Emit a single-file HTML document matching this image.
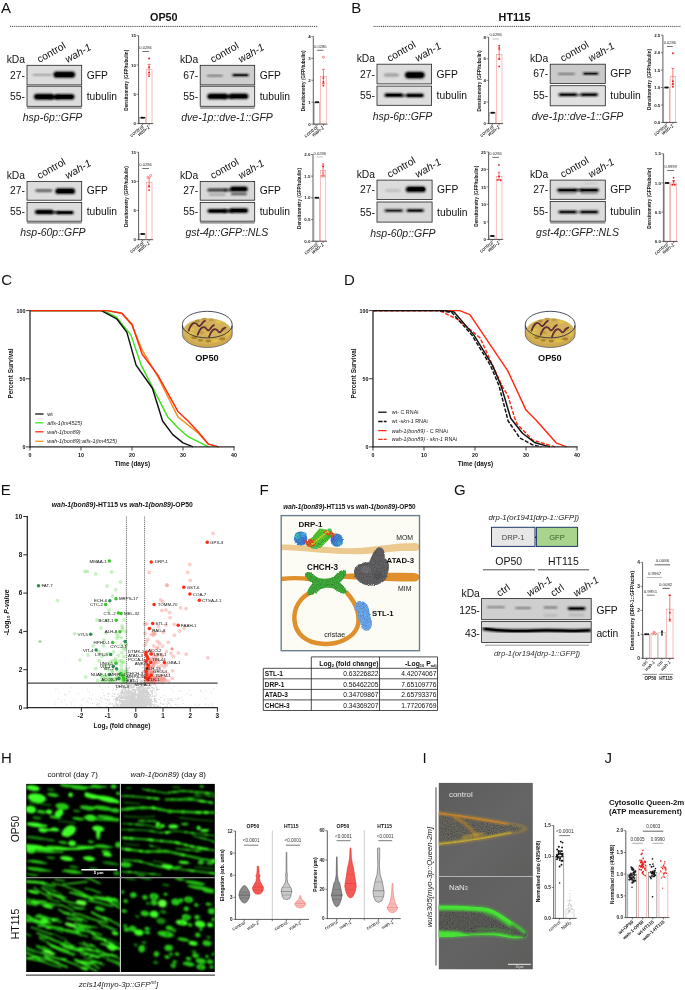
<!DOCTYPE html>
<html lang="en"><head><meta charset="utf-8"><title>Figure</title>
<style>
html,body{margin:0;padding:0;background:#fff;}
body{width:685px;height:990px;overflow:hidden;font-family:'Liberation Sans', Arial, sans-serif;}
svg{display:block;font-family:'Liberation Sans', Arial, sans-serif;will-change:transform;-webkit-font-smoothing:antialiased;}
</style></head><body>
<svg width="685" height="990" viewBox="0 0 685 990">
<defs>
<filter id="b05" x="-20%" y="-50%" width="140%" height="200%"><feGaussianBlur stdDeviation="0.5"/></filter>
<filter id="b08" x="-20%" y="-50%" width="140%" height="200%"><feGaussianBlur stdDeviation="0.8"/></filter>
<filter id="b12" x="-20%" y="-50%" width="140%" height="200%"><feGaussianBlur stdDeviation="1.2"/></filter>
<filter id="b2" x="-20%" y="-50%" width="140%" height="200%"><feGaussianBlur stdDeviation="2"/></filter>
<filter id="g06" x="-10%" y="-10%" width="120%" height="120%"><feGaussianBlur stdDeviation="0.6"/></filter>
<filter id="g07" x="-10%" y="-10%" width="120%" height="120%"><feGaussianBlur stdDeviation="0.8"/><feComponentTransfer><feFuncR type="linear" slope="1.2"/><feFuncG type="linear" slope="1.2"/><feFuncB type="linear" slope="1.2"/></feComponentTransfer></filter>
<filter id="g09" x="-10%" y="-10%" width="120%" height="120%"><feGaussianBlur stdDeviation="0.9"/><feComponentTransfer><feFuncR type="linear" slope="1.25"/><feFuncG type="linear" slope="1.25"/><feFuncB type="linear" slope="1.25"/></feComponentTransfer></filter>
<filter id="g1" x="-10%" y="-10%" width="120%" height="120%"><feGaussianBlur stdDeviation="1"/></filter>
</defs>
<rect x="0" y="0" width="685" height="990" fill="#ffffff"/>
<text x="0.90" y="12.90" font-size="15" font-weight="normal" font-style="normal" text-anchor="start" fill="#111">A</text>
<text x="351.20" y="12.90" font-size="15" font-weight="normal" font-style="normal" text-anchor="start" fill="#111">B</text>
<text x="163.80" y="21.20" font-size="10.8" font-weight="bold" font-style="normal" text-anchor="middle" fill="#111">OP50</text>
<text x="514.50" y="21.20" font-size="10.8" font-weight="bold" font-style="normal" text-anchor="middle" fill="#111">HT115</text>
<line x1="10.00" y1="26.40" x2="318.00" y2="26.40" stroke="#333" stroke-width="1" stroke-dasharray="1 0.9"/>
<line x1="373.50" y1="26.40" x2="681.00" y2="26.40" stroke="#333" stroke-width="1" stroke-dasharray="1 0.9"/>
<clipPath id="c27_65"><rect x="27.0" y="65.3" width="54.70" height="19.60"/></clipPath>
<rect x="27.00" y="65.30" width="54.70" height="19.60" fill="#dcdcdc" stroke="none" stroke-width="1"/>
<g clip-path="url(#c27_65)">
<rect x="32.90" y="74.20" width="19.00" height="1.40" rx="0.70" fill="#000" opacity="0.45" filter="url(#b08)"/>
<rect x="53.30" y="71.60" width="22.00" height="6.20" rx="3.10" fill="#000" opacity="0.95" filter="url(#b12)"/>
<rect x="54.80" y="72.60" width="19.00" height="4.20" rx="2.10" fill="#000" opacity="1" filter="url(#b05)"/>
</g>
<rect x="27.00" y="65.30" width="54.70" height="19.60" fill="none" stroke="#222" stroke-width="0.8"/>
<clipPath id="c27_86"><rect x="27.0" y="86.2" width="54.70" height="20.10"/></clipPath>
<rect x="27.00" y="86.20" width="54.70" height="20.10" fill="#dcdcdc" stroke="none" stroke-width="1"/>
<g clip-path="url(#c27_86)">
<rect x="33.80" y="93.80" width="20.00" height="6.00" rx="3.00" fill="#000" opacity="0.95" filter="url(#b12)"/>
<rect x="54.60" y="94.00" width="20.00" height="5.60" rx="2.80" fill="#000" opacity="0.95" filter="url(#b12)"/>
<rect x="49.00" y="94.90" width="10.00" height="4.20" rx="2.10" fill="#000" opacity="1" filter="url(#b08)"/>
<rect x="35.30" y="94.80" width="17.00" height="4.00" rx="2.00" fill="#000" opacity="1" filter="url(#b05)"/>
<rect x="56.10" y="94.90" width="17.00" height="3.80" rx="1.90" fill="#000" opacity="1" filter="url(#b05)"/>
</g>
<rect x="27.00" y="86.20" width="54.70" height="20.10" fill="none" stroke="#222" stroke-width="0.8"/>
<line x1="27.00" y1="108.00" x2="81.70" y2="108.00" stroke="#555" stroke-width="1.0"/>
<text x="25.00" y="62.70" font-size="10.3" font-weight="normal" font-style="normal" text-anchor="end" fill="#111">kDa</text>
<text x="25.00" y="78.70" font-size="10.3" font-weight="normal" font-style="normal" text-anchor="end" fill="#111">27-</text>
<text x="25.00" y="99.85" font-size="10.3" font-weight="normal" font-style="normal" text-anchor="end" fill="#111">55-</text>
<text x="86.70" y="78.70" font-size="10.3" font-weight="normal" font-style="normal" text-anchor="start" fill="#111">GFP</text>
<text x="86.70" y="99.85" font-size="10.3" font-weight="normal" font-style="normal" text-anchor="start" fill="#111">tubulin</text>
<text x="39.60" y="63.10" font-size="10.3" font-weight="normal" font-style="normal" text-anchor="start" fill="#111" transform="rotate(-30 39.60 63.10)">control</text>
<text x="67.60" y="63.10" font-size="10.3" font-weight="normal" font-style="italic" text-anchor="start" fill="#111" transform="rotate(-30 67.60 63.10)">wah-1</text>
<text x="52.55" y="120.90" font-size="10.5" font-weight="normal" font-style="italic" text-anchor="middle" fill="#222">hsp-6p::GFP</text>
<rect x="139.50" y="117.74" width="6.30" height="5.86" fill="#fff" stroke="#8a8a8a" stroke-width="0.5"/>
<rect x="146.20" y="69.10" width="5.80" height="54.50" fill="#fff" stroke="#f0807c" stroke-width="0.5"/>
<line x1="149.10" y1="74.38" x2="149.10" y2="64.41" stroke="#e8211d" stroke-width="0.6"/>
<line x1="147.70" y1="74.38" x2="150.50" y2="74.38" stroke="#e8211d" stroke-width="0.6"/>
<line x1="147.70" y1="64.41" x2="150.50" y2="64.41" stroke="#e8211d" stroke-width="0.6"/>
<circle cx="142.7" cy="117.7" r="1.00" fill="#111"/>
<circle cx="144.0" cy="117.7" r="1.00" fill="#111"/>
<circle cx="141.4" cy="117.7" r="1.00" fill="#111"/>
<circle cx="149.1" cy="58.6" r="1.00" fill="#e8211d"/>
<circle cx="149.1" cy="67.3" r="0.95" fill="#e8211d"/>
<circle cx="149.1" cy="72.6" r="0.95" fill="#e8211d"/>
<circle cx="149.1" cy="76.1" r="0.95" fill="#e8211d"/>
<line x1="138.60" y1="35.70" x2="138.60" y2="123.90" stroke="#333" stroke-width="0.8"/>
<line x1="138.30" y1="123.60" x2="153.20" y2="123.60" stroke="#333" stroke-width="0.8"/>
<line x1="136.60" y1="123.60" x2="138.60" y2="123.60" stroke="#333" stroke-width="0.6"/>
<text x="136.00" y="125.20" font-size="4.4" font-weight="bold" font-style="normal" text-anchor="end" fill="#222">0</text>
<line x1="136.60" y1="94.30" x2="138.60" y2="94.30" stroke="#333" stroke-width="0.6"/>
<text x="136.00" y="95.90" font-size="4.4" font-weight="bold" font-style="normal" text-anchor="end" fill="#222">5</text>
<line x1="136.60" y1="65.00" x2="138.60" y2="65.00" stroke="#333" stroke-width="0.6"/>
<text x="136.00" y="66.60" font-size="4.4" font-weight="bold" font-style="normal" text-anchor="end" fill="#222">10</text>
<line x1="136.60" y1="35.70" x2="138.60" y2="35.70" stroke="#333" stroke-width="0.6"/>
<text x="136.00" y="37.30" font-size="4.4" font-weight="bold" font-style="normal" text-anchor="end" fill="#222">15</text>
<line x1="142.65" y1="123.60" x2="142.65" y2="125.40" stroke="#333" stroke-width="0.6"/>
<text x="143.85" y="127.60" font-size="5.2" font-weight="normal" font-style="normal" text-anchor="end" fill="#000" transform="rotate(-38 143.85 127.60)">control</text>
<line x1="149.10" y1="123.60" x2="149.10" y2="125.40" stroke="#333" stroke-width="0.6"/>
<text x="150.30" y="127.60" font-size="5.2" font-weight="normal" font-style="italic" text-anchor="end" fill="#000" transform="rotate(-38 150.30 127.60)">wah-1</text>
<text x="145.60" y="48.80" font-size="4.1" font-weight="normal" font-style="normal" text-anchor="middle" fill="#333">0.0286</text>
<line x1="142.30" y1="51.50" x2="148.90" y2="51.50" stroke="#333" stroke-width="0.7"/>
<text x="128.10" y="80.25" font-size="4.7" font-weight="bold" font-style="normal" text-anchor="middle" fill="#111" transform="rotate(-90 128.10 80.25)">Densitometry (GFP/tubulin)</text>
<clipPath id="c200_65"><rect x="200.2" y="65.3" width="54.50" height="19.60"/></clipPath>
<rect x="200.20" y="65.30" width="54.50" height="19.60" fill="#cecece" stroke="none" stroke-width="1"/>
<g clip-path="url(#c200_65)">
<rect x="206.90" y="74.80" width="16.00" height="1.60" rx="0.80" fill="#000" opacity="0.5" filter="url(#b08)"/>
<rect x="232.00" y="73.90" width="17.00" height="2.40" rx="1.20" fill="#000" opacity="0.95" filter="url(#b08)"/>
<rect x="233.50" y="74.40" width="14.00" height="1.40" rx="0.70" fill="#000" opacity="0.8" filter="url(#b05)"/>
</g>
<rect x="200.20" y="65.30" width="54.50" height="19.60" fill="none" stroke="#222" stroke-width="0.8"/>
<clipPath id="c200_86"><rect x="200.2" y="86.2" width="54.50" height="20.10"/></clipPath>
<rect x="200.20" y="86.20" width="54.50" height="20.10" fill="#e0e0e0" stroke="none" stroke-width="1"/>
<g clip-path="url(#c200_86)">
<rect x="207.20" y="93.50" width="20.00" height="5.80" rx="2.90" fill="#000" opacity="0.95" filter="url(#b12)"/>
<rect x="229.50" y="93.40" width="19.00" height="5.60" rx="2.80" fill="#000" opacity="0.95" filter="url(#b12)"/>
<rect x="223.20" y="94.60" width="10.00" height="4.00" rx="2.00" fill="#000" opacity="1" filter="url(#b08)"/>
<rect x="208.70" y="94.50" width="17.00" height="3.80" rx="1.90" fill="#000" opacity="1" filter="url(#b05)"/>
<rect x="231.00" y="94.40" width="16.00" height="3.60" rx="1.80" fill="#000" opacity="1" filter="url(#b05)"/>
</g>
<rect x="200.20" y="86.20" width="54.50" height="20.10" fill="none" stroke="#222" stroke-width="0.8"/>
<line x1="200.20" y1="108.00" x2="254.70" y2="108.00" stroke="#555" stroke-width="1.0"/>
<text x="198.20" y="62.70" font-size="10.3" font-weight="normal" font-style="normal" text-anchor="end" fill="#111">kDa</text>
<text x="198.20" y="78.70" font-size="10.3" font-weight="normal" font-style="normal" text-anchor="end" fill="#111">67-</text>
<text x="198.20" y="99.85" font-size="10.3" font-weight="normal" font-style="normal" text-anchor="end" fill="#111">55-</text>
<text x="259.70" y="78.70" font-size="10.3" font-weight="normal" font-style="normal" text-anchor="start" fill="#111">GFP</text>
<text x="259.70" y="99.85" font-size="10.3" font-weight="normal" font-style="normal" text-anchor="start" fill="#111">tubulin</text>
<text x="212.80" y="63.10" font-size="10.3" font-weight="normal" font-style="normal" text-anchor="start" fill="#111" transform="rotate(-30 212.80 63.10)">control</text>
<text x="240.80" y="63.10" font-size="10.3" font-weight="normal" font-style="italic" text-anchor="start" fill="#111" transform="rotate(-30 240.80 63.10)">wah-1</text>
<text x="227.05" y="120.90" font-size="10.5" font-weight="normal" font-style="italic" text-anchor="middle" fill="#222">dve-1p::dve-1::GFP</text>
<rect x="314.20" y="102.17" width="5.50" height="21.92" fill="#fff" stroke="#8a8a8a" stroke-width="0.5"/>
<rect x="320.60" y="76.52" width="5.60" height="47.58" fill="#fff" stroke="#f0807c" stroke-width="0.5"/>
<line x1="323.40" y1="83.54" x2="323.40" y2="69.29" stroke="#e8211d" stroke-width="0.6"/>
<line x1="322.00" y1="83.54" x2="324.80" y2="83.54" stroke="#e8211d" stroke-width="0.6"/>
<line x1="322.00" y1="69.29" x2="324.80" y2="69.29" stroke="#e8211d" stroke-width="0.6"/>
<circle cx="317.0" cy="102.2" r="1.00" fill="#111"/>
<circle cx="315.7" cy="102.2" r="1.00" fill="#111"/>
<circle cx="318.2" cy="102.2" r="1.00" fill="#111"/>
<circle cx="323.4" cy="78.1" r="0.95" fill="#e8211d"/>
<circle cx="323.4" cy="82.0" r="0.95" fill="#e8211d"/>
<circle cx="323.4" cy="85.5" r="0.95" fill="#e8211d"/>
<circle cx="323.4" cy="57.2" r="1.00" fill="#fff" stroke="#e8211d" stroke-width="0.5"/>
<line x1="313.30" y1="36.40" x2="313.30" y2="124.40" stroke="#333" stroke-width="0.8"/>
<line x1="313.00" y1="124.10" x2="327.40" y2="124.10" stroke="#333" stroke-width="0.8"/>
<line x1="311.30" y1="124.10" x2="313.30" y2="124.10" stroke="#333" stroke-width="0.6"/>
<text x="310.70" y="125.70" font-size="4.4" font-weight="bold" font-style="normal" text-anchor="end" fill="#222">0</text>
<line x1="311.30" y1="102.17" x2="313.30" y2="102.17" stroke="#333" stroke-width="0.6"/>
<text x="310.70" y="103.77" font-size="4.4" font-weight="bold" font-style="normal" text-anchor="end" fill="#222">1</text>
<line x1="311.30" y1="80.25" x2="313.30" y2="80.25" stroke="#333" stroke-width="0.6"/>
<text x="310.70" y="81.85" font-size="4.4" font-weight="bold" font-style="normal" text-anchor="end" fill="#222">2</text>
<line x1="311.30" y1="58.33" x2="313.30" y2="58.33" stroke="#333" stroke-width="0.6"/>
<text x="310.70" y="59.93" font-size="4.4" font-weight="bold" font-style="normal" text-anchor="end" fill="#222">3</text>
<line x1="311.30" y1="36.40" x2="313.30" y2="36.40" stroke="#333" stroke-width="0.6"/>
<text x="310.70" y="38.00" font-size="4.4" font-weight="bold" font-style="normal" text-anchor="end" fill="#222">4</text>
<line x1="316.95" y1="124.10" x2="316.95" y2="125.90" stroke="#333" stroke-width="0.6"/>
<text x="318.15" y="128.10" font-size="5.2" font-weight="normal" font-style="normal" text-anchor="end" fill="#000" transform="rotate(-38 318.15 128.10)">control</text>
<line x1="323.40" y1="124.10" x2="323.40" y2="125.90" stroke="#333" stroke-width="0.6"/>
<text x="324.60" y="128.10" font-size="5.2" font-weight="normal" font-style="italic" text-anchor="end" fill="#000" transform="rotate(-38 324.60 128.10)">wah-1</text>
<text x="320.30" y="48.00" font-size="4.1" font-weight="normal" font-style="normal" text-anchor="middle" fill="#333">0.0286</text>
<line x1="317.10" y1="50.30" x2="323.50" y2="50.30" stroke="#333" stroke-width="0.7"/>
<text x="305.10" y="80.85" font-size="4.7" font-weight="bold" font-style="normal" text-anchor="middle" fill="#111" transform="rotate(-90 305.10 80.85)">Densitometry (GFP/tubulin)</text>
<clipPath id="c27_181"><rect x="27.0" y="181.4" width="54.70" height="18.80"/></clipPath>
<rect x="27.00" y="181.40" width="54.70" height="18.80" fill="#dcdcdc" stroke="none" stroke-width="1"/>
<g clip-path="url(#c27_181)">
<rect x="35.30" y="189.30" width="17.00" height="2.60" rx="1.30" fill="#000" opacity="0.6" filter="url(#b12)"/>
<rect x="55.20" y="188.30" width="20.00" height="5.80" rx="2.90" fill="#000" opacity="0.95" filter="url(#b12)"/>
<rect x="56.70" y="189.30" width="17.00" height="3.80" rx="1.90" fill="#000" opacity="1" filter="url(#b05)"/>
</g>
<rect x="27.00" y="181.40" width="54.70" height="18.80" fill="none" stroke="#222" stroke-width="0.8"/>
<clipPath id="c27_202"><rect x="27.0" y="202.4" width="54.70" height="18.80"/></clipPath>
<rect x="27.00" y="202.40" width="54.70" height="18.80" fill="#dcdcdc" stroke="none" stroke-width="1"/>
<g clip-path="url(#c27_202)">
<rect x="34.70" y="209.70" width="19.00" height="4.60" rx="2.30" fill="#000" opacity="0.95" filter="url(#b12)"/>
<rect x="56.00" y="210.90" width="18.00" height="3.40" rx="1.70" fill="#000" opacity="0.95" filter="url(#b08)"/>
<rect x="50.50" y="211.20" width="8.00" height="2.40" rx="1.20" fill="#000" opacity="0.9" filter="url(#b08)"/>
<rect x="36.70" y="210.60" width="15.00" height="2.80" rx="1.40" fill="#000" opacity="1" filter="url(#b05)"/>
<rect x="57.50" y="211.60" width="15.00" height="2.00" rx="1.00" fill="#000" opacity="1" filter="url(#b05)"/>
</g>
<rect x="27.00" y="202.40" width="54.70" height="18.80" fill="none" stroke="#222" stroke-width="0.8"/>
<line x1="27.00" y1="222.90" x2="81.70" y2="222.90" stroke="#555" stroke-width="1.0"/>
<text x="25.00" y="178.80" font-size="10.3" font-weight="normal" font-style="normal" text-anchor="end" fill="#111">kDa</text>
<text x="25.00" y="194.40" font-size="10.3" font-weight="normal" font-style="normal" text-anchor="end" fill="#111">27-</text>
<text x="25.00" y="215.40" font-size="10.3" font-weight="normal" font-style="normal" text-anchor="end" fill="#111">55-</text>
<text x="86.70" y="194.40" font-size="10.3" font-weight="normal" font-style="normal" text-anchor="start" fill="#111">GFP</text>
<text x="86.70" y="215.40" font-size="10.3" font-weight="normal" font-style="normal" text-anchor="start" fill="#111">tubulin</text>
<text x="39.60" y="179.20" font-size="10.3" font-weight="normal" font-style="normal" text-anchor="start" fill="#111" transform="rotate(-30 39.60 179.20)">control</text>
<text x="67.60" y="179.20" font-size="10.3" font-weight="normal" font-style="italic" text-anchor="start" fill="#111" transform="rotate(-30 67.60 179.20)">wah-1</text>
<text x="52.95" y="235.80" font-size="10.5" font-weight="normal" font-style="italic" text-anchor="middle" fill="#222">hsp-60p::GFP</text>
<rect x="139.50" y="233.87" width="6.30" height="5.83" fill="#fff" stroke="#8a8a8a" stroke-width="0.5"/>
<rect x="146.20" y="182.24" width="5.80" height="57.46" fill="#fff" stroke="#f0807c" stroke-width="0.5"/>
<line x1="149.10" y1="187.20" x2="149.10" y2="177.87" stroke="#e8211d" stroke-width="0.6"/>
<line x1="147.70" y1="187.20" x2="150.50" y2="187.20" stroke="#e8211d" stroke-width="0.6"/>
<line x1="147.70" y1="177.87" x2="150.50" y2="177.87" stroke="#e8211d" stroke-width="0.6"/>
<circle cx="142.7" cy="233.9" r="1.00" fill="#111"/>
<circle cx="144.0" cy="233.9" r="1.00" fill="#111"/>
<circle cx="141.4" cy="233.9" r="1.00" fill="#111"/>
<circle cx="149.1" cy="186.0" r="0.90" fill="#e8211d"/>
<circle cx="149.1" cy="190.1" r="0.95" fill="#e8211d"/>
<circle cx="147.8" cy="177.3" r="1.00" fill="#fff" stroke="#e8211d" stroke-width="0.5"/>
<circle cx="150.6" cy="175.5" r="1.00" fill="#fff" stroke="#e8211d" stroke-width="0.5"/>
<line x1="138.60" y1="152.20" x2="138.60" y2="240.00" stroke="#333" stroke-width="0.8"/>
<line x1="138.30" y1="239.70" x2="153.20" y2="239.70" stroke="#333" stroke-width="0.8"/>
<line x1="136.60" y1="239.70" x2="138.60" y2="239.70" stroke="#333" stroke-width="0.6"/>
<text x="136.00" y="241.30" font-size="4.4" font-weight="bold" font-style="normal" text-anchor="end" fill="#222">0</text>
<line x1="136.60" y1="210.53" x2="138.60" y2="210.53" stroke="#333" stroke-width="0.6"/>
<text x="136.00" y="212.13" font-size="4.4" font-weight="bold" font-style="normal" text-anchor="end" fill="#222">5</text>
<line x1="136.60" y1="181.37" x2="138.60" y2="181.37" stroke="#333" stroke-width="0.6"/>
<text x="136.00" y="182.97" font-size="4.4" font-weight="bold" font-style="normal" text-anchor="end" fill="#222">10</text>
<line x1="136.60" y1="152.20" x2="138.60" y2="152.20" stroke="#333" stroke-width="0.6"/>
<text x="136.00" y="153.80" font-size="4.4" font-weight="bold" font-style="normal" text-anchor="end" fill="#222">15</text>
<line x1="142.65" y1="239.70" x2="142.65" y2="241.50" stroke="#333" stroke-width="0.6"/>
<text x="143.85" y="243.70" font-size="5.2" font-weight="normal" font-style="normal" text-anchor="end" fill="#000" transform="rotate(-38 143.85 243.70)">control</text>
<line x1="149.10" y1="239.70" x2="149.10" y2="241.50" stroke="#333" stroke-width="0.6"/>
<text x="150.30" y="243.70" font-size="5.2" font-weight="normal" font-style="italic" text-anchor="end" fill="#000" transform="rotate(-38 150.30 243.70)">wah-1</text>
<text x="145.60" y="166.20" font-size="4.1" font-weight="normal" font-style="normal" text-anchor="middle" fill="#333">0.0286</text>
<line x1="142.30" y1="168.50" x2="148.90" y2="168.50" stroke="#333" stroke-width="0.7"/>
<text x="127.70" y="196.55" font-size="4.7" font-weight="bold" font-style="normal" text-anchor="middle" fill="#111" transform="rotate(-90 127.70 196.55)">Densitometry (GFP/tubulin)</text>
<clipPath id="c200_181"><rect x="200.2" y="181.4" width="54.50" height="18.80"/></clipPath>
<rect x="200.20" y="181.40" width="54.50" height="18.80" fill="#d8d8d8" stroke="none" stroke-width="1"/>
<g clip-path="url(#c200_181)">
<rect x="207.20" y="188.60" width="20.00" height="3.00" rx="1.50" fill="#000" opacity="0.8" filter="url(#b12)"/>
<rect x="208.70" y="193.80" width="17.00" height="1.60" rx="0.80" fill="#000" opacity="0.3" filter="url(#b08)"/>
<rect x="229.90" y="186.40" width="18.00" height="5.00" rx="2.50" fill="#000" opacity="0.95" filter="url(#b12)"/>
<rect x="231.40" y="187.40" width="15.00" height="3.00" rx="1.50" fill="#000" opacity="1" filter="url(#b05)"/>
<rect x="230.90" y="192.90" width="16.00" height="2.20" rx="1.10" fill="#000" opacity="0.7" filter="url(#b08)"/>
<rect x="224.20" y="188.80" width="8.00" height="2.40" rx="1.20" fill="#000" opacity="0.7" filter="url(#b08)"/>
</g>
<rect x="200.20" y="181.40" width="54.50" height="18.80" fill="none" stroke="#222" stroke-width="0.8"/>
<clipPath id="c200_202"><rect x="200.2" y="202.4" width="54.50" height="18.80"/></clipPath>
<rect x="200.20" y="202.40" width="54.50" height="18.80" fill="#dedede" stroke="none" stroke-width="1"/>
<g clip-path="url(#c200_202)">
<rect x="207.20" y="208.90" width="20.00" height="4.20" rx="2.10" fill="#000" opacity="0.95" filter="url(#b08)"/>
<rect x="229.30" y="208.30" width="19.00" height="4.60" rx="2.30" fill="#000" opacity="0.95" filter="url(#b08)"/>
<rect x="223.20" y="209.50" width="10.00" height="3.00" rx="1.50" fill="#000" opacity="1" filter="url(#b08)"/>
<rect x="209.20" y="209.70" width="16.00" height="2.60" rx="1.30" fill="#000" opacity="1" filter="url(#b05)"/>
<rect x="230.80" y="209.10" width="16.00" height="3.00" rx="1.50" fill="#000" opacity="1" filter="url(#b05)"/>
</g>
<rect x="200.20" y="202.40" width="54.50" height="18.80" fill="none" stroke="#222" stroke-width="0.8"/>
<line x1="200.20" y1="222.90" x2="254.70" y2="222.90" stroke="#555" stroke-width="1.0"/>
<text x="198.20" y="178.80" font-size="10.3" font-weight="normal" font-style="normal" text-anchor="end" fill="#111">kDa</text>
<text x="198.20" y="194.40" font-size="10.3" font-weight="normal" font-style="normal" text-anchor="end" fill="#111">27-</text>
<text x="198.20" y="215.40" font-size="10.3" font-weight="normal" font-style="normal" text-anchor="end" fill="#111">55-</text>
<text x="259.70" y="194.40" font-size="10.3" font-weight="normal" font-style="normal" text-anchor="start" fill="#111">GFP</text>
<text x="259.70" y="215.40" font-size="10.3" font-weight="normal" font-style="normal" text-anchor="start" fill="#111">tubulin</text>
<text x="212.80" y="179.20" font-size="10.3" font-weight="normal" font-style="normal" text-anchor="start" fill="#111" transform="rotate(-30 212.80 179.20)">control</text>
<text x="240.80" y="179.20" font-size="10.3" font-weight="normal" font-style="italic" text-anchor="start" fill="#111" transform="rotate(-30 240.80 179.20)">wah-1</text>
<text x="226.85" y="235.80" font-size="10.5" font-weight="normal" font-style="italic" text-anchor="middle" fill="#222">gst-4p::GFP::NLS</text>
<rect x="314.00" y="197.85" width="5.70" height="43.35" fill="#fff" stroke="#8a8a8a" stroke-width="0.5"/>
<rect x="320.30" y="170.54" width="5.50" height="70.66" fill="#fff" stroke="#f0807c" stroke-width="0.5"/>
<line x1="323.10" y1="175.31" x2="323.10" y2="165.77" stroke="#e8211d" stroke-width="0.6"/>
<line x1="321.70" y1="175.31" x2="324.50" y2="175.31" stroke="#e8211d" stroke-width="0.6"/>
<line x1="321.70" y1="165.77" x2="324.50" y2="165.77" stroke="#e8211d" stroke-width="0.6"/>
<circle cx="316.9" cy="197.8" r="1.00" fill="#111"/>
<circle cx="315.6" cy="197.8" r="1.00" fill="#111"/>
<circle cx="318.2" cy="197.8" r="1.00" fill="#111"/>
<circle cx="323.1" cy="164.0" r="0.85" fill="#e8211d"/>
<circle cx="323.1" cy="166.6" r="0.85" fill="#e8211d"/>
<circle cx="322.0" cy="176.2" r="0.95" fill="#fff" stroke="#e8211d" stroke-width="0.5"/>
<circle cx="324.3" cy="176.2" r="0.95" fill="#fff" stroke="#e8211d" stroke-width="0.5"/>
<circle cx="323.1" cy="172.7" r="0.85" fill="#fff" stroke="#e8211d" stroke-width="0.5"/>
<line x1="313.00" y1="154.50" x2="313.00" y2="241.50" stroke="#333" stroke-width="0.8"/>
<line x1="312.70" y1="241.20" x2="327.00" y2="241.20" stroke="#333" stroke-width="0.8"/>
<line x1="311.00" y1="241.20" x2="313.00" y2="241.20" stroke="#333" stroke-width="0.6"/>
<text x="310.40" y="242.80" font-size="4.4" font-weight="bold" font-style="normal" text-anchor="end" fill="#222">0.0</text>
<line x1="311.00" y1="219.52" x2="313.00" y2="219.52" stroke="#333" stroke-width="0.6"/>
<text x="310.40" y="221.12" font-size="4.4" font-weight="bold" font-style="normal" text-anchor="end" fill="#222">0.5</text>
<line x1="311.00" y1="197.85" x2="313.00" y2="197.85" stroke="#333" stroke-width="0.6"/>
<text x="310.40" y="199.45" font-size="4.4" font-weight="bold" font-style="normal" text-anchor="end" fill="#222">1.0</text>
<line x1="311.00" y1="176.18" x2="313.00" y2="176.18" stroke="#333" stroke-width="0.6"/>
<text x="310.40" y="177.78" font-size="4.4" font-weight="bold" font-style="normal" text-anchor="end" fill="#222">1.5</text>
<line x1="311.00" y1="154.50" x2="313.00" y2="154.50" stroke="#333" stroke-width="0.6"/>
<text x="310.40" y="156.10" font-size="4.4" font-weight="bold" font-style="normal" text-anchor="end" fill="#222">2.0</text>
<line x1="316.85" y1="241.20" x2="316.85" y2="243.00" stroke="#333" stroke-width="0.6"/>
<text x="318.05" y="245.20" font-size="5.2" font-weight="normal" font-style="normal" text-anchor="end" fill="#000" transform="rotate(-38 318.05 245.20)">control</text>
<line x1="323.05" y1="241.20" x2="323.05" y2="243.00" stroke="#333" stroke-width="0.6"/>
<text x="324.25" y="245.20" font-size="5.2" font-weight="normal" font-style="italic" text-anchor="end" fill="#000" transform="rotate(-38 324.25 245.20)">wah-1</text>
<text x="319.75" y="154.50" font-size="4.1" font-weight="normal" font-style="normal" text-anchor="middle" fill="#333">0.0286</text>
<line x1="316.50" y1="156.90" x2="323.00" y2="156.90" stroke="#aaa" stroke-width="0.7"/>
<text x="300.70" y="198.45" font-size="4.7" font-weight="bold" font-style="normal" text-anchor="middle" fill="#111" transform="rotate(-90 300.70 198.45)">Densitometry (GFP/tubulin)</text>
<clipPath id="c377_64"><rect x="377.0" y="64.2" width="54.60" height="19.70"/></clipPath>
<rect x="377.00" y="64.20" width="54.60" height="19.70" fill="#dcdcdc" stroke="none" stroke-width="1"/>
<g clip-path="url(#c377_64)">
<rect x="383.90" y="73.60" width="15.00" height="3.00" rx="1.50" fill="#000" opacity="0.3" filter="url(#b12)"/>
<rect x="404.80" y="71.70" width="20.00" height="6.80" rx="3.40" fill="#000" opacity="0.95" filter="url(#b12)"/>
<rect x="406.30" y="72.70" width="17.00" height="4.80" rx="2.40" fill="#000" opacity="1" filter="url(#b05)"/>
</g>
<rect x="377.00" y="64.20" width="54.60" height="19.70" fill="none" stroke="#222" stroke-width="0.8"/>
<clipPath id="c377_86"><rect x="377.0" y="86.1" width="54.60" height="19.20"/></clipPath>
<rect x="377.00" y="86.10" width="54.60" height="19.20" fill="#dedede" stroke="none" stroke-width="1"/>
<g clip-path="url(#c377_86)">
<rect x="384.30" y="93.30" width="19.00" height="3.80" rx="1.90" fill="#000" opacity="0.95" filter="url(#b08)"/>
<rect x="406.00" y="93.60" width="18.00" height="3.60" rx="1.80" fill="#000" opacity="0.95" filter="url(#b08)"/>
<rect x="401.00" y="94.60" width="7.00" height="1.80" rx="0.90" fill="#000" opacity="0.7" filter="url(#b08)"/>
<rect x="386.30" y="94.10" width="15.00" height="2.20" rx="1.10" fill="#000" opacity="1" filter="url(#b05)"/>
<rect x="407.50" y="94.40" width="15.00" height="2.00" rx="1.00" fill="#000" opacity="1" filter="url(#b05)"/>
</g>
<rect x="377.00" y="86.10" width="54.60" height="19.20" fill="none" stroke="#222" stroke-width="0.8"/>
<text x="375.00" y="61.60" font-size="10.3" font-weight="normal" font-style="normal" text-anchor="end" fill="#111">kDa</text>
<text x="375.00" y="77.65" font-size="10.3" font-weight="normal" font-style="normal" text-anchor="end" fill="#111">27-</text>
<text x="375.00" y="99.30" font-size="10.3" font-weight="normal" font-style="normal" text-anchor="end" fill="#111">55-</text>
<text x="436.60" y="77.65" font-size="10.3" font-weight="normal" font-style="normal" text-anchor="start" fill="#111">GFP</text>
<text x="436.60" y="99.30" font-size="10.3" font-weight="normal" font-style="normal" text-anchor="start" fill="#111">tubulin</text>
<text x="389.60" y="62.00" font-size="10.3" font-weight="normal" font-style="normal" text-anchor="start" fill="#111" transform="rotate(-30 389.60 62.00)">control</text>
<text x="417.60" y="62.00" font-size="10.3" font-weight="normal" font-style="italic" text-anchor="start" fill="#111" transform="rotate(-30 417.60 62.00)">wah-1</text>
<text x="402.50" y="119.90" font-size="10.5" font-weight="normal" font-style="italic" text-anchor="middle" fill="#222">hsp-6p::GFP</text>
<rect x="489.50" y="112.80" width="6.30" height="10.80" fill="#fff" stroke="#8a8a8a" stroke-width="0.5"/>
<rect x="496.30" y="54.48" width="5.70" height="69.12" fill="#fff" stroke="#f0807c" stroke-width="0.5"/>
<line x1="499.20" y1="59.34" x2="499.20" y2="49.62" stroke="#e8211d" stroke-width="0.6"/>
<line x1="497.80" y1="59.34" x2="500.60" y2="59.34" stroke="#e8211d" stroke-width="0.6"/>
<line x1="497.80" y1="49.62" x2="500.60" y2="49.62" stroke="#e8211d" stroke-width="0.6"/>
<circle cx="492.7" cy="112.8" r="1.00" fill="#111"/>
<circle cx="494.0" cy="112.8" r="1.00" fill="#111"/>
<circle cx="491.4" cy="112.8" r="1.00" fill="#111"/>
<circle cx="499.2" cy="45.8" r="0.95" fill="#e8211d"/>
<circle cx="499.2" cy="48.0" r="0.95" fill="#e8211d"/>
<circle cx="499.2" cy="58.8" r="0.90" fill="#e8211d"/>
<circle cx="499.2" cy="66.4" r="0.95" fill="#e8211d"/>
<line x1="488.60" y1="37.20" x2="488.60" y2="123.90" stroke="#333" stroke-width="0.8"/>
<line x1="488.30" y1="123.60" x2="503.20" y2="123.60" stroke="#333" stroke-width="0.8"/>
<line x1="486.60" y1="123.60" x2="488.60" y2="123.60" stroke="#333" stroke-width="0.6"/>
<text x="486.00" y="125.20" font-size="4.4" font-weight="bold" font-style="normal" text-anchor="end" fill="#222">0</text>
<line x1="486.60" y1="102.00" x2="488.60" y2="102.00" stroke="#333" stroke-width="0.6"/>
<text x="486.00" y="103.60" font-size="4.4" font-weight="bold" font-style="normal" text-anchor="end" fill="#222">2</text>
<line x1="486.60" y1="80.40" x2="488.60" y2="80.40" stroke="#333" stroke-width="0.6"/>
<text x="486.00" y="82.00" font-size="4.4" font-weight="bold" font-style="normal" text-anchor="end" fill="#222">4</text>
<line x1="486.60" y1="58.80" x2="488.60" y2="58.80" stroke="#333" stroke-width="0.6"/>
<text x="486.00" y="60.40" font-size="4.4" font-weight="bold" font-style="normal" text-anchor="end" fill="#222">6</text>
<line x1="486.60" y1="37.20" x2="488.60" y2="37.20" stroke="#333" stroke-width="0.6"/>
<text x="486.00" y="38.80" font-size="4.4" font-weight="bold" font-style="normal" text-anchor="end" fill="#222">8</text>
<line x1="492.65" y1="123.60" x2="492.65" y2="125.40" stroke="#333" stroke-width="0.6"/>
<text x="493.85" y="127.60" font-size="5.2" font-weight="normal" font-style="normal" text-anchor="end" fill="#000" transform="rotate(-38 493.85 127.60)">control</text>
<line x1="499.15" y1="123.60" x2="499.15" y2="125.40" stroke="#333" stroke-width="0.6"/>
<text x="500.35" y="127.60" font-size="5.2" font-weight="normal" font-style="italic" text-anchor="end" fill="#000" transform="rotate(-38 500.35 127.60)">wah-1</text>
<text x="495.65" y="36.40" font-size="4.1" font-weight="normal" font-style="normal" text-anchor="middle" fill="#333">0.0286</text>
<line x1="492.30" y1="39.00" x2="499.00" y2="39.00" stroke="#aaa" stroke-width="0.7"/>
<text x="481.20" y="81.00" font-size="4.7" font-weight="bold" font-style="normal" text-anchor="middle" fill="#111" transform="rotate(-90 481.20 81.00)">Densitometry (GFP/tubulin)</text>
<clipPath id="c550_64"><rect x="550.2" y="64.2" width="55.10" height="19.20"/></clipPath>
<rect x="550.20" y="64.20" width="55.10" height="19.20" fill="#cacaca" stroke="none" stroke-width="1"/>
<g clip-path="url(#c550_64)">
<rect x="557.90" y="73.10" width="17.00" height="1.60" rx="0.80" fill="#000" opacity="0.5" filter="url(#b08)"/>
<rect x="582.70" y="72.60" width="16.00" height="2.20" rx="1.10" fill="#000" opacity="0.9" filter="url(#b08)"/>
<rect x="584.20" y="73.10" width="13.00" height="1.20" rx="0.60" fill="#000" opacity="0.7" filter="url(#b05)"/>
</g>
<rect x="550.20" y="64.20" width="55.10" height="19.20" fill="none" stroke="#222" stroke-width="0.8"/>
<clipPath id="c550_85"><rect x="550.2" y="85.7" width="55.10" height="20.10"/></clipPath>
<rect x="550.20" y="85.70" width="55.10" height="20.10" fill="#e0e0e0" stroke="none" stroke-width="1"/>
<g clip-path="url(#c550_85)">
<rect x="558.40" y="93.10" width="19.00" height="3.20" rx="1.60" fill="#000" opacity="0.9" filter="url(#b08)"/>
<rect x="580.20" y="93.10" width="18.00" height="3.20" rx="1.60" fill="#000" opacity="0.9" filter="url(#b08)"/>
<rect x="575.50" y="94.10" width="6.00" height="1.60" rx="0.80" fill="#000" opacity="0.6" filter="url(#b08)"/>
<rect x="560.40" y="93.90" width="15.00" height="1.60" rx="0.80" fill="#000" opacity="0.8" filter="url(#b05)"/>
<rect x="582.20" y="93.90" width="14.00" height="1.60" rx="0.80" fill="#000" opacity="0.8" filter="url(#b05)"/>
</g>
<rect x="550.20" y="85.70" width="55.10" height="20.10" fill="none" stroke="#222" stroke-width="0.8"/>
<text x="548.20" y="61.60" font-size="10.3" font-weight="normal" font-style="normal" text-anchor="end" fill="#111">kDa</text>
<text x="548.20" y="77.40" font-size="10.3" font-weight="normal" font-style="normal" text-anchor="end" fill="#111">67-</text>
<text x="548.20" y="99.35" font-size="10.3" font-weight="normal" font-style="normal" text-anchor="end" fill="#111">55-</text>
<text x="610.30" y="77.40" font-size="10.3" font-weight="normal" font-style="normal" text-anchor="start" fill="#111">GFP</text>
<text x="610.30" y="99.35" font-size="10.3" font-weight="normal" font-style="normal" text-anchor="start" fill="#111">tubulin</text>
<text x="562.80" y="62.00" font-size="10.3" font-weight="normal" font-style="normal" text-anchor="start" fill="#111" transform="rotate(-30 562.80 62.00)">control</text>
<text x="590.80" y="62.00" font-size="10.3" font-weight="normal" font-style="italic" text-anchor="start" fill="#111" transform="rotate(-30 590.80 62.00)">wah-1</text>
<text x="577.55" y="120.40" font-size="10.5" font-weight="normal" font-style="italic" text-anchor="middle" fill="#222">dve-1p::dve-1::GFP</text>
<rect x="663.80" y="87.52" width="5.50" height="34.88" fill="#fff" stroke="#8a8a8a" stroke-width="0.5"/>
<rect x="670.10" y="76.36" width="5.60" height="46.04" fill="#fff" stroke="#f0807c" stroke-width="0.5"/>
<line x1="672.90" y1="84.73" x2="672.90" y2="68.34" stroke="#e8211d" stroke-width="0.6"/>
<line x1="671.50" y1="84.73" x2="674.30" y2="84.73" stroke="#e8211d" stroke-width="0.6"/>
<line x1="671.50" y1="68.34" x2="674.30" y2="68.34" stroke="#e8211d" stroke-width="0.6"/>
<circle cx="666.5" cy="87.5" r="1.00" fill="#111"/>
<circle cx="665.3" cy="87.5" r="1.00" fill="#111"/>
<circle cx="667.7" cy="87.5" r="1.00" fill="#111"/>
<circle cx="672.9" cy="53.3" r="0.95" fill="#e8211d"/>
<circle cx="672.9" cy="81.2" r="0.95" fill="#e8211d"/>
<circle cx="672.9" cy="84.0" r="0.95" fill="#e8211d"/>
<circle cx="672.9" cy="86.8" r="0.95" fill="#e8211d"/>
<line x1="662.90" y1="35.20" x2="662.90" y2="122.70" stroke="#333" stroke-width="0.8"/>
<line x1="662.60" y1="122.40" x2="676.90" y2="122.40" stroke="#333" stroke-width="0.8"/>
<line x1="660.90" y1="122.40" x2="662.90" y2="122.40" stroke="#333" stroke-width="0.6"/>
<text x="660.30" y="124.00" font-size="4.4" font-weight="bold" font-style="normal" text-anchor="end" fill="#222">0.0</text>
<line x1="660.90" y1="104.96" x2="662.90" y2="104.96" stroke="#333" stroke-width="0.6"/>
<text x="660.30" y="106.56" font-size="4.4" font-weight="bold" font-style="normal" text-anchor="end" fill="#222">0.5</text>
<line x1="660.90" y1="87.52" x2="662.90" y2="87.52" stroke="#333" stroke-width="0.6"/>
<text x="660.30" y="89.12" font-size="4.4" font-weight="bold" font-style="normal" text-anchor="end" fill="#222">1.0</text>
<line x1="660.90" y1="70.08" x2="662.90" y2="70.08" stroke="#333" stroke-width="0.6"/>
<text x="660.30" y="71.68" font-size="4.4" font-weight="bold" font-style="normal" text-anchor="end" fill="#222">1.5</text>
<line x1="660.90" y1="52.64" x2="662.90" y2="52.64" stroke="#333" stroke-width="0.6"/>
<text x="660.30" y="54.24" font-size="4.4" font-weight="bold" font-style="normal" text-anchor="end" fill="#222">2.0</text>
<line x1="660.90" y1="35.20" x2="662.90" y2="35.20" stroke="#333" stroke-width="0.6"/>
<text x="660.30" y="36.80" font-size="4.4" font-weight="bold" font-style="normal" text-anchor="end" fill="#222">2.5</text>
<line x1="666.55" y1="122.40" x2="666.55" y2="124.20" stroke="#333" stroke-width="0.6"/>
<text x="667.75" y="126.40" font-size="5.2" font-weight="normal" font-style="normal" text-anchor="end" fill="#000" transform="rotate(-38 667.75 126.40)">control</text>
<line x1="672.90" y1="122.40" x2="672.90" y2="124.20" stroke="#333" stroke-width="0.6"/>
<text x="674.10" y="126.40" font-size="5.2" font-weight="normal" font-style="italic" text-anchor="end" fill="#000" transform="rotate(-38 674.10 126.40)">wah-1</text>
<text x="669.90" y="43.90" font-size="4.1" font-weight="normal" font-style="normal" text-anchor="middle" fill="#333">0.0286</text>
<line x1="667.00" y1="46.50" x2="672.80" y2="46.50" stroke="#333" stroke-width="0.7"/>
<text x="651.20" y="79.40" font-size="4.7" font-weight="bold" font-style="normal" text-anchor="middle" fill="#111" transform="rotate(-90 651.20 79.40)">Densitometry (GFP/tubulin)</text>
<clipPath id="c377_180"><rect x="377.0" y="180.1" width="55.10" height="19.50"/></clipPath>
<rect x="377.00" y="180.10" width="55.10" height="19.50" fill="#dcdcdc" stroke="none" stroke-width="1"/>
<g clip-path="url(#c377_180)">
<rect x="385.40" y="189.20" width="15.00" height="2.60" rx="1.30" fill="#000" opacity="0.16" filter="url(#b12)"/>
<rect x="405.70" y="186.50" width="20.00" height="5.80" rx="2.90" fill="#000" opacity="0.95" filter="url(#b12)"/>
<rect x="407.70" y="187.30" width="17.00" height="3.80" rx="1.90" fill="#000" opacity="1" filter="url(#b05)"/>
</g>
<rect x="377.00" y="180.10" width="55.10" height="19.50" fill="none" stroke="#222" stroke-width="0.8"/>
<clipPath id="c377_202"><rect x="377.0" y="202.0" width="55.10" height="20.10"/></clipPath>
<rect x="377.00" y="202.00" width="55.10" height="20.10" fill="#d8d8d8" stroke="none" stroke-width="1"/>
<g clip-path="url(#c377_202)">
<rect x="384.30" y="209.20" width="19.00" height="2.80" rx="1.40" fill="#000" opacity="0.8" filter="url(#b08)"/>
<rect x="406.20" y="209.10" width="18.00" height="3.00" rx="1.50" fill="#000" opacity="0.85" filter="url(#b08)"/>
<rect x="386.30" y="209.90" width="15.00" height="1.40" rx="0.70" fill="#000" opacity="0.6" filter="url(#b05)"/>
<rect x="408.20" y="209.80" width="14.00" height="1.60" rx="0.80" fill="#000" opacity="0.7" filter="url(#b05)"/>
</g>
<rect x="377.00" y="202.00" width="55.10" height="20.10" fill="none" stroke="#222" stroke-width="0.8"/>
<text x="375.00" y="177.50" font-size="10.3" font-weight="normal" font-style="normal" text-anchor="end" fill="#111">kDa</text>
<text x="375.00" y="193.45" font-size="10.3" font-weight="normal" font-style="normal" text-anchor="end" fill="#111">27-</text>
<text x="375.00" y="215.65" font-size="10.3" font-weight="normal" font-style="normal" text-anchor="end" fill="#111">55-</text>
<text x="437.10" y="193.45" font-size="10.3" font-weight="normal" font-style="normal" text-anchor="start" fill="#111">GFP</text>
<text x="437.10" y="215.65" font-size="10.3" font-weight="normal" font-style="normal" text-anchor="start" fill="#111">tubulin</text>
<text x="389.60" y="177.90" font-size="10.3" font-weight="normal" font-style="normal" text-anchor="start" fill="#111" transform="rotate(-30 389.60 177.90)">control</text>
<text x="417.60" y="177.90" font-size="10.3" font-weight="normal" font-style="italic" text-anchor="start" fill="#111" transform="rotate(-30 417.60 177.90)">wah-1</text>
<text x="402.95" y="236.70" font-size="10.5" font-weight="normal" font-style="italic" text-anchor="middle" fill="#222">hsp-60p::GFP</text>
<rect x="489.50" y="235.90" width="5.50" height="3.50" fill="#fff" stroke="#8a8a8a" stroke-width="0.5"/>
<rect x="496.20" y="176.40" width="5.80" height="63.00" fill="#fff" stroke="#f0807c" stroke-width="0.5"/>
<line x1="499.00" y1="179.90" x2="499.00" y2="172.20" stroke="#e8211d" stroke-width="0.6"/>
<line x1="497.60" y1="179.90" x2="500.40" y2="179.90" stroke="#e8211d" stroke-width="0.6"/>
<line x1="497.60" y1="172.20" x2="500.40" y2="172.20" stroke="#e8211d" stroke-width="0.6"/>
<circle cx="492.3" cy="235.9" r="1.00" fill="#111"/>
<circle cx="493.5" cy="235.9" r="1.00" fill="#111"/>
<circle cx="491.1" cy="235.9" r="1.00" fill="#111"/>
<circle cx="499.0" cy="164.9" r="0.90" fill="#e8211d"/>
<circle cx="499.0" cy="176.4" r="0.95" fill="#e8211d"/>
<circle cx="497.6" cy="179.9" r="0.95" fill="#e8211d"/>
<circle cx="500.6" cy="180.2" r="0.95" fill="#e8211d"/>
<line x1="488.60" y1="151.90" x2="488.60" y2="239.70" stroke="#333" stroke-width="0.8"/>
<line x1="488.30" y1="239.40" x2="503.20" y2="239.40" stroke="#333" stroke-width="0.8"/>
<line x1="486.60" y1="239.40" x2="488.60" y2="239.40" stroke="#333" stroke-width="0.6"/>
<text x="486.00" y="241.00" font-size="4.4" font-weight="bold" font-style="normal" text-anchor="end" fill="#222">0</text>
<line x1="486.60" y1="221.90" x2="488.60" y2="221.90" stroke="#333" stroke-width="0.6"/>
<text x="486.00" y="223.50" font-size="4.4" font-weight="bold" font-style="normal" text-anchor="end" fill="#222">5</text>
<line x1="486.60" y1="204.40" x2="488.60" y2="204.40" stroke="#333" stroke-width="0.6"/>
<text x="486.00" y="206.00" font-size="4.4" font-weight="bold" font-style="normal" text-anchor="end" fill="#222">10</text>
<line x1="486.60" y1="186.90" x2="488.60" y2="186.90" stroke="#333" stroke-width="0.6"/>
<text x="486.00" y="188.50" font-size="4.4" font-weight="bold" font-style="normal" text-anchor="end" fill="#222">15</text>
<line x1="486.60" y1="169.40" x2="488.60" y2="169.40" stroke="#333" stroke-width="0.6"/>
<text x="486.00" y="171.00" font-size="4.4" font-weight="bold" font-style="normal" text-anchor="end" fill="#222">20</text>
<line x1="486.60" y1="151.90" x2="488.60" y2="151.90" stroke="#333" stroke-width="0.6"/>
<text x="486.00" y="153.50" font-size="4.4" font-weight="bold" font-style="normal" text-anchor="end" fill="#222">25</text>
<line x1="492.25" y1="239.40" x2="492.25" y2="241.20" stroke="#333" stroke-width="0.6"/>
<text x="493.45" y="243.40" font-size="5.2" font-weight="normal" font-style="normal" text-anchor="end" fill="#000" transform="rotate(-38 493.45 243.40)">control</text>
<line x1="499.10" y1="239.40" x2="499.10" y2="241.20" stroke="#333" stroke-width="0.6"/>
<text x="500.30" y="243.40" font-size="5.2" font-weight="normal" font-style="italic" text-anchor="end" fill="#000" transform="rotate(-38 500.30 243.40)">wah-1</text>
<text x="495.55" y="155.20" font-size="4.1" font-weight="normal" font-style="normal" text-anchor="middle" fill="#333">0.0286</text>
<line x1="492.30" y1="157.40" x2="498.80" y2="157.40" stroke="#333" stroke-width="0.7"/>
<text x="478.10" y="196.25" font-size="4.7" font-weight="bold" font-style="normal" text-anchor="middle" fill="#111" transform="rotate(-90 478.10 196.25)">Densitometry (GFP/tubulin)</text>
<clipPath id="c550_180"><rect x="550.2" y="180.1" width="55.10" height="19.20"/></clipPath>
<rect x="550.20" y="180.10" width="55.10" height="19.20" fill="#dadada" stroke="none" stroke-width="1"/>
<g clip-path="url(#c550_180)">
<rect x="556.70" y="188.50" width="21.00" height="3.20" rx="1.60" fill="#000" opacity="0.9" filter="url(#b08)"/>
<rect x="558.20" y="192.55" width="18.00" height="1.50" rx="0.75" fill="#000" opacity="0.35" filter="url(#b08)"/>
<rect x="579.20" y="188.40" width="20.00" height="3.40" rx="1.70" fill="#000" opacity="0.9" filter="url(#b08)"/>
<rect x="580.70" y="192.55" width="17.00" height="1.50" rx="0.75" fill="#000" opacity="0.4" filter="url(#b08)"/>
<rect x="583.20" y="183.10" width="14.00" height="1.20" rx="0.60" fill="#000" opacity="0.12" filter="url(#b08)"/>
<rect x="574.70" y="189.10" width="8.00" height="2.00" rx="1.00" fill="#000" opacity="0.8" filter="url(#b08)"/>
<rect x="558.70" y="189.20" width="17.00" height="1.80" rx="0.90" fill="#000" opacity="1" filter="url(#b05)"/>
<rect x="581.20" y="189.20" width="16.00" height="1.80" rx="0.90" fill="#000" opacity="1" filter="url(#b05)"/>
</g>
<rect x="550.20" y="180.10" width="55.10" height="19.20" fill="none" stroke="#222" stroke-width="0.8"/>
<clipPath id="c550_201"><rect x="550.2" y="201.5" width="55.10" height="19.70"/></clipPath>
<rect x="550.20" y="201.50" width="55.10" height="19.70" fill="#dcdcdc" stroke="none" stroke-width="1"/>
<g clip-path="url(#c550_201)">
<rect x="558.20" y="210.50" width="19.00" height="3.00" rx="1.50" fill="#000" opacity="0.9" filter="url(#b08)"/>
<rect x="579.70" y="210.40" width="19.00" height="3.20" rx="1.60" fill="#000" opacity="0.9" filter="url(#b08)"/>
<rect x="576.20" y="211.30" width="5.00" height="1.40" rx="0.70" fill="#000" opacity="0.5" filter="url(#b08)"/>
<rect x="560.20" y="211.25" width="15.00" height="1.50" rx="0.75" fill="#000" opacity="0.8" filter="url(#b05)"/>
<rect x="581.70" y="211.20" width="15.00" height="1.60" rx="0.80" fill="#000" opacity="0.8" filter="url(#b05)"/>
</g>
<rect x="550.20" y="201.50" width="55.10" height="19.70" fill="none" stroke="#222" stroke-width="0.8"/>
<line x1="550.20" y1="222.90" x2="605.30" y2="222.90" stroke="#555" stroke-width="1.0"/>
<text x="548.20" y="177.50" font-size="10.3" font-weight="normal" font-style="normal" text-anchor="end" fill="#111">kDa</text>
<text x="548.20" y="193.30" font-size="10.3" font-weight="normal" font-style="normal" text-anchor="end" fill="#111">27-</text>
<text x="548.20" y="214.95" font-size="10.3" font-weight="normal" font-style="normal" text-anchor="end" fill="#111">55-</text>
<text x="610.30" y="193.30" font-size="10.3" font-weight="normal" font-style="normal" text-anchor="start" fill="#111">GFP</text>
<text x="610.30" y="214.95" font-size="10.3" font-weight="normal" font-style="normal" text-anchor="start" fill="#111">tubulin</text>
<text x="562.80" y="177.90" font-size="10.3" font-weight="normal" font-style="normal" text-anchor="start" fill="#111" transform="rotate(-30 562.80 177.90)">control</text>
<text x="590.80" y="177.90" font-size="10.3" font-weight="normal" font-style="italic" text-anchor="start" fill="#111" transform="rotate(-30 590.80 177.90)">wah-1</text>
<text x="577.55" y="235.80" font-size="10.5" font-weight="normal" font-style="italic" text-anchor="middle" fill="#222">gst-4p::GFP::NLS</text>
<rect x="664.30" y="182.93" width="5.60" height="58.47" fill="#fff" stroke="#8a8a8a" stroke-width="0.5"/>
<rect x="670.80" y="182.93" width="5.70" height="58.47" fill="#fff" stroke="#f0807c" stroke-width="0.5"/>
<line x1="673.60" y1="184.69" x2="673.60" y2="180.59" stroke="#e8211d" stroke-width="0.6"/>
<line x1="672.20" y1="184.69" x2="675.00" y2="184.69" stroke="#e8211d" stroke-width="0.6"/>
<line x1="672.20" y1="180.59" x2="675.00" y2="180.59" stroke="#e8211d" stroke-width="0.6"/>
<circle cx="667.1" cy="182.9" r="1.00" fill="#111"/>
<circle cx="665.9" cy="182.9" r="1.00" fill="#111"/>
<circle cx="668.3" cy="182.9" r="1.00" fill="#111"/>
<circle cx="673.6" cy="177.7" r="0.85" fill="#e8211d"/>
<circle cx="673.6" cy="181.2" r="0.95" fill="#e8211d"/>
<circle cx="672.3" cy="184.7" r="0.95" fill="#e8211d"/>
<circle cx="674.9" cy="184.7" r="0.95" fill="#e8211d"/>
<line x1="663.50" y1="153.70" x2="663.50" y2="241.70" stroke="#777" stroke-width="1.3"/>
<line x1="663.20" y1="241.40" x2="677.70" y2="241.40" stroke="#333" stroke-width="0.8"/>
<line x1="661.50" y1="241.40" x2="663.50" y2="241.40" stroke="#333" stroke-width="0.6"/>
<text x="660.90" y="243.00" font-size="4.4" font-weight="bold" font-style="normal" text-anchor="end" fill="#222">0.0</text>
<line x1="661.50" y1="212.17" x2="663.50" y2="212.17" stroke="#333" stroke-width="0.6"/>
<text x="660.90" y="213.77" font-size="4.4" font-weight="bold" font-style="normal" text-anchor="end" fill="#222">0.5</text>
<line x1="661.50" y1="182.93" x2="663.50" y2="182.93" stroke="#333" stroke-width="0.6"/>
<text x="660.90" y="184.53" font-size="4.4" font-weight="bold" font-style="normal" text-anchor="end" fill="#222">1.0</text>
<line x1="661.50" y1="153.70" x2="663.50" y2="153.70" stroke="#333" stroke-width="0.6"/>
<text x="660.90" y="155.30" font-size="4.4" font-weight="bold" font-style="normal" text-anchor="end" fill="#222">1.5</text>
<line x1="667.10" y1="241.40" x2="667.10" y2="243.20" stroke="#333" stroke-width="0.6"/>
<text x="668.30" y="245.40" font-size="5.2" font-weight="normal" font-style="normal" text-anchor="end" fill="#000" transform="rotate(-38 668.30 245.40)">control</text>
<line x1="673.65" y1="241.40" x2="673.65" y2="243.20" stroke="#333" stroke-width="0.6"/>
<text x="674.85" y="245.40" font-size="5.2" font-weight="normal" font-style="italic" text-anchor="end" fill="#000" transform="rotate(-38 674.85 245.40)">wah-1</text>
<text x="670.65" y="168.20" font-size="4.1" font-weight="normal" font-style="normal" text-anchor="middle" fill="#333">0.9999</text>
<line x1="667.30" y1="170.50" x2="674.00" y2="170.50" stroke="#333" stroke-width="0.7"/>
<text x="651.20" y="198.15" font-size="4.7" font-weight="bold" font-style="normal" text-anchor="middle" fill="#111" transform="rotate(-90 651.20 198.15)">Densitometry (GFP/tubulin)</text>
<path d="M30.00,310.60 L106.50,310.60 L121.80,313.33 L132.00,325.59 L142.20,350.13 L157.50,376.02 L177.90,416.91 L198.30,433.27 L208.50,444.17 L218.70,446.90" fill="none" stroke="#f5901e" stroke-width="1.45" stroke-linejoin="round"/>
<path d="M30.00,310.60 L103.95,310.60 L116.70,317.41 L130.98,335.13 L141.18,365.12 L167.70,416.91 L177.90,427.82 L188.10,436.68 L208.50,446.90" fill="none" stroke="#3fe01f" stroke-width="1.45" stroke-linejoin="round"/>
<path d="M30.00,310.60 L101.40,310.60 L116.70,318.78 L126.90,332.41 L136.08,365.12 L152.40,388.29 L162.60,421.00 L172.80,434.63 L183.00,442.81 L193.20,446.90" fill="none" stroke="#111" stroke-width="1.45" stroke-linejoin="round"/>
<path d="M30.00,310.60 L107.52,310.60 L121.80,313.33 L132.00,324.23 L142.20,354.22 L157.50,374.66 L177.90,411.46 L188.10,421.00 L198.30,431.91 L208.50,444.17 L218.70,446.90" fill="none" stroke="#ff2a12" stroke-width="1.45" stroke-linejoin="round"/>
<line x1="30.00" y1="310.00" x2="30.00" y2="447.55" stroke="#2a2a2a" stroke-width="1.3"/>
<line x1="29.35" y1="446.90" x2="234.60" y2="446.90" stroke="#2a2a2a" stroke-width="1.3"/>
<line x1="26.00" y1="446.90" x2="30.00" y2="446.90" stroke="#2a2a2a" stroke-width="0.9"/>
<text x="25.40" y="448.80" font-size="5.3" font-weight="bold" font-style="normal" text-anchor="end" fill="#111">0</text>
<line x1="26.00" y1="378.75" x2="30.00" y2="378.75" stroke="#2a2a2a" stroke-width="0.9"/>
<text x="25.40" y="380.65" font-size="5.3" font-weight="bold" font-style="normal" text-anchor="end" fill="#111">50</text>
<line x1="26.00" y1="310.60" x2="30.00" y2="310.60" stroke="#2a2a2a" stroke-width="0.9"/>
<text x="25.40" y="312.50" font-size="5.3" font-weight="bold" font-style="normal" text-anchor="end" fill="#111">100</text>
<line x1="30.00" y1="446.90" x2="30.00" y2="450.50" stroke="#2a2a2a" stroke-width="0.9"/>
<text x="30.00" y="456.50" font-size="5.3" font-weight="bold" font-style="normal" text-anchor="middle" fill="#111">0</text>
<line x1="81.00" y1="446.90" x2="81.00" y2="450.50" stroke="#2a2a2a" stroke-width="0.9"/>
<text x="81.00" y="456.50" font-size="5.3" font-weight="bold" font-style="normal" text-anchor="middle" fill="#111">10</text>
<line x1="132.00" y1="446.90" x2="132.00" y2="450.50" stroke="#2a2a2a" stroke-width="0.9"/>
<text x="132.00" y="456.50" font-size="5.3" font-weight="bold" font-style="normal" text-anchor="middle" fill="#111">20</text>
<line x1="183.00" y1="446.90" x2="183.00" y2="450.50" stroke="#2a2a2a" stroke-width="0.9"/>
<text x="183.00" y="456.50" font-size="5.3" font-weight="bold" font-style="normal" text-anchor="middle" fill="#111">30</text>
<line x1="234.00" y1="446.90" x2="234.00" y2="450.50" stroke="#2a2a2a" stroke-width="0.9"/>
<text x="234.00" y="456.50" font-size="5.3" font-weight="bold" font-style="normal" text-anchor="middle" fill="#111">40</text>
<text x="12.60" y="373.50" font-size="6.4" font-weight="bold" font-style="normal" text-anchor="middle" fill="#111" transform="rotate(-90 12.60 373.50)">Percent Survival</text>
<text x="132.40" y="466.00" font-size="6.4" font-weight="bold" font-style="normal" text-anchor="middle" fill="#111">Time (days)</text>
<line x1="35.20" y1="414.00" x2="43.60" y2="414.00" stroke="#111" stroke-width="1.3"/>
<text x="47.30" y="415.90" font-size="5.4" fill="#222" xml:space="preserve"><tspan font-style="normal">wt</tspan></text>
<line x1="35.20" y1="422.80" x2="43.60" y2="422.80" stroke="#3fe01f" stroke-width="1.3"/>
<text x="47.30" y="424.70" font-size="5.4" fill="#222" xml:space="preserve"><tspan font-style="italic">atfs-1(tm4525)</tspan></text>
<line x1="35.20" y1="431.80" x2="43.60" y2="431.80" stroke="#ff2a12" stroke-width="1.3"/>
<text x="47.30" y="433.70" font-size="5.4" fill="#222" xml:space="preserve"><tspan font-style="italic">wah-1(bon89)</tspan></text>
<line x1="35.20" y1="441.30" x2="43.60" y2="441.30" stroke="#f5901e" stroke-width="1.3"/>
<text x="47.30" y="443.20" font-size="5.4" fill="#222" xml:space="preserve"><tspan font-style="italic">wah-1(bon89);atfs-1(tm4525)</tspan></text>
<text x="1.20" y="285.40" font-size="15" font-weight="normal" font-style="normal" text-anchor="start" fill="#111">C</text>
<g>
<path d="M182.40,325.60 L182.40,334.20 A24.9,13.3 0 0 0 232.20,334.20 L232.20,325.60 A24.9,13.3 0 0 1 182.40,325.60 Z" fill="#cfa950" stroke="#2c3850" stroke-width="0.6"/>
<ellipse cx="207.30" cy="331.00" rx="24.10" ry="12.70" fill="#d6b45c"/>
<ellipse cx="207.30" cy="330.20" rx="22.40" ry="11.10" fill="#d2ae52"/>
<ellipse cx="190.30" cy="333.60" rx="2.99" ry="1.62" fill="#e6c83c" opacity="1"/>
<ellipse cx="194.30" cy="337.60" rx="2.99" ry="1.62" fill="#ab8428" opacity="1"/>
<ellipse cx="200.30" cy="340.20" rx="2.76" ry="1.50" fill="#ad8a30" opacity="1"/>
<ellipse cx="208.30" cy="341.00" rx="2.76" ry="1.50" fill="#ab8428" opacity="1"/>
<ellipse cx="215.30" cy="340.80" rx="2.99" ry="1.50" fill="#e2c23a" opacity="1"/>
<ellipse cx="222.30" cy="338.80" rx="2.99" ry="1.62" fill="#ab8428" opacity="1"/>
<ellipse cx="227.30" cy="334.20" rx="2.76" ry="1.62" fill="#e2c23a" opacity="1"/>
<ellipse cx="197.30" cy="321.20" rx="2.53" ry="1.38" fill="#ad8a30" opacity="1"/>
<ellipse cx="204.30" cy="319.20" rx="2.76" ry="1.38" fill="#bf9a3a" opacity="1"/>
<ellipse cx="211.30" cy="320.00" rx="2.76" ry="1.38" fill="#b99b40" opacity="1"/>
<ellipse cx="218.30" cy="322.00" rx="2.76" ry="1.50" fill="#e2c23a" opacity="1"/>
<ellipse cx="205.30" cy="326.20" rx="2.30" ry="1.25" fill="#c9a444" opacity="1"/>
<ellipse cx="191.30" cy="325.60" rx="2.30" ry="1.25" fill="#c4a040" opacity="1"/>
<ellipse cx="223.30" cy="329.20" rx="2.53" ry="1.38" fill="#ab8428" opacity="1"/>
<ellipse cx="201.30" cy="332.60" rx="2.53" ry="1.38" fill="#c09636" opacity="1"/>
<ellipse cx="209.30" cy="334.10" rx="2.76" ry="1.38" fill="#e0c040" opacity="1"/>
<ellipse cx="192.30" cy="329.60" rx="2.30" ry="1.25" fill="#e2c23a" opacity="1"/>
<path d="M188.70,330.60 q2,-6 5,-7.5 q2.5,-0.6 4.6,2.6 q1.2,1.4 3.2,-1.4 q1.6,-2.6 3.4,-3.4" fill="none" stroke="#3a1a2a" stroke-width="1.7" stroke-linecap="round" stroke-linejoin="round"/>
<path d="M188.70,330.60 q2,-6 5,-7.5 q2.5,-0.6 4.6,2.6 q1.2,1.4 3.2,-1.4 q1.6,-2.6 3.4,-3.4" fill="none" stroke="#b02a2a" stroke-width="0.5" stroke-linecap="round" stroke-dasharray="1.2 1.0"/>
<path d="M197.70,334.80 q2,-6 5,-7.5 q2.5,-0.6 4.6,2.6 q1.2,1.4 3.2,-1.4 q1.6,-2.6 3.4,-3.4" fill="none" stroke="#3a1a2a" stroke-width="1.7" stroke-linecap="round" stroke-linejoin="round"/>
<path d="M197.70,334.80 q2,-6 5,-7.5 q2.5,-0.6 4.6,2.6 q1.2,1.4 3.2,-1.4 q1.6,-2.6 3.4,-3.4" fill="none" stroke="#b02a2a" stroke-width="0.5" stroke-linecap="round" stroke-dasharray="1.2 1.0"/>
<path d="M209.10,336.80 q2,-6 5,-7.5 q2.5,-0.6 4.6,2.6 q1.2,1.4 3.2,-1.4 q1.6,-2.6 3.6,-3.0" fill="none" stroke="#3a1a2a" stroke-width="1.7" stroke-linecap="round" stroke-linejoin="round"/>
<path d="M209.10,336.80 q2,-6 5,-7.5 q2.5,-0.6 4.6,2.6 q1.2,1.4 3.2,-1.4 q1.6,-2.6 3.6,-3.0" fill="none" stroke="#b02a2a" stroke-width="0.5" stroke-linecap="round" stroke-dasharray="1.2 1.0"/>
<ellipse cx="207.30" cy="324.60" rx="24.9" ry="13.3" fill="#ffffff" fill-opacity="0.06" stroke="#1e2436" stroke-width="0.8"/>
</g>
<text x="206.90" y="360.80" font-size="9.2" font-weight="bold" font-style="normal" text-anchor="middle" fill="#111">OP50</text>
<path d="M373.00,310.60 L439.30,310.60 L457.66,319.32 L480.10,337.86 L502.54,386.93 L507.64,395.11 L514.78,418.28 L517.33,424.41 L532.63,440.08 L555.07,446.90" fill="none" stroke="#ff2a12" stroke-width="1.45" stroke-linejoin="round" stroke-dasharray="4 1.6"/>
<path d="M373.00,310.60 L459.70,310.60 L469.90,314.69 L507.64,370.57 L526.00,410.10 L536.20,420.32 L556.09,442.81 L566.80,446.90" fill="none" stroke="#ff2a12" stroke-width="1.45" stroke-linejoin="round"/>
<path d="M373.00,310.60 L439.30,310.60 L452.05,312.64 L471.94,335.13 L490.30,365.12 L498.97,385.56 L508.15,421.00 L519.88,438.04 L532.63,444.86 L541.30,446.90" fill="none" stroke="#111" stroke-width="1.45" stroke-linejoin="round" stroke-dasharray="4 1.6"/>
<path d="M373.00,310.60 L444.40,310.60 L454.09,311.96 L473.98,335.13 L492.34,365.12 L501.01,385.56 L510.70,418.28 L522.43,433.27 L535.18,442.81 L549.97,446.90" fill="none" stroke="#111" stroke-width="1.45" stroke-linejoin="round"/>
<line x1="373.00" y1="310.00" x2="373.00" y2="447.55" stroke="#2a2a2a" stroke-width="1.3"/>
<line x1="372.35" y1="446.90" x2="577.60" y2="446.90" stroke="#2a2a2a" stroke-width="1.3"/>
<line x1="369.00" y1="446.90" x2="373.00" y2="446.90" stroke="#2a2a2a" stroke-width="0.9"/>
<text x="368.40" y="448.80" font-size="5.3" font-weight="bold" font-style="normal" text-anchor="end" fill="#111">0</text>
<line x1="369.00" y1="378.75" x2="373.00" y2="378.75" stroke="#2a2a2a" stroke-width="0.9"/>
<text x="368.40" y="380.65" font-size="5.3" font-weight="bold" font-style="normal" text-anchor="end" fill="#111">50</text>
<line x1="369.00" y1="310.60" x2="373.00" y2="310.60" stroke="#2a2a2a" stroke-width="0.9"/>
<text x="368.40" y="312.50" font-size="5.3" font-weight="bold" font-style="normal" text-anchor="end" fill="#111">100</text>
<line x1="373.00" y1="446.90" x2="373.00" y2="450.50" stroke="#2a2a2a" stroke-width="0.9"/>
<text x="373.00" y="456.50" font-size="5.3" font-weight="bold" font-style="normal" text-anchor="middle" fill="#111">0</text>
<line x1="424.00" y1="446.90" x2="424.00" y2="450.50" stroke="#2a2a2a" stroke-width="0.9"/>
<text x="424.00" y="456.50" font-size="5.3" font-weight="bold" font-style="normal" text-anchor="middle" fill="#111">10</text>
<line x1="475.00" y1="446.90" x2="475.00" y2="450.50" stroke="#2a2a2a" stroke-width="0.9"/>
<text x="475.00" y="456.50" font-size="5.3" font-weight="bold" font-style="normal" text-anchor="middle" fill="#111">20</text>
<line x1="526.00" y1="446.90" x2="526.00" y2="450.50" stroke="#2a2a2a" stroke-width="0.9"/>
<text x="526.00" y="456.50" font-size="5.3" font-weight="bold" font-style="normal" text-anchor="middle" fill="#111">30</text>
<line x1="577.00" y1="446.90" x2="577.00" y2="450.50" stroke="#2a2a2a" stroke-width="0.9"/>
<text x="577.00" y="456.50" font-size="5.3" font-weight="bold" font-style="normal" text-anchor="middle" fill="#111">40</text>
<text x="355.60" y="373.50" font-size="6.4" font-weight="bold" font-style="normal" text-anchor="middle" fill="#111" transform="rotate(-90 355.60 373.50)">Percent Survival</text>
<text x="475.40" y="466.00" font-size="6.4" font-weight="bold" font-style="normal" text-anchor="middle" fill="#111">Time (days)</text>
<line x1="378.20" y1="412.20" x2="386.60" y2="412.20" stroke="#111" stroke-width="1.3"/>
<text x="391.80" y="414.10" font-size="5.4" fill="#222" xml:space="preserve"><tspan font-style="normal">wt- C RNAi</tspan></text>
<line x1="378.20" y1="421.50" x2="386.60" y2="421.50" stroke="#111" stroke-width="1.3" stroke-dasharray="4.4 1.2"/>
<text x="391.80" y="423.40" font-size="5.4" fill="#222" xml:space="preserve"><tspan font-style="normal">wt -</tspan><tspan font-style="italic">skn-1</tspan><tspan font-style="normal"> RNAi</tspan></text>
<line x1="378.20" y1="430.60" x2="386.60" y2="430.60" stroke="#ff2a12" stroke-width="1.3"/>
<text x="391.80" y="432.50" font-size="5.4" fill="#222" xml:space="preserve"><tspan font-style="italic">wah-1(bon89)</tspan><tspan font-style="normal"> - C RNAi</tspan></text>
<line x1="378.20" y1="439.40" x2="386.60" y2="439.40" stroke="#ff2a12" stroke-width="1.3" stroke-dasharray="4.4 1.2"/>
<text x="391.80" y="441.30" font-size="5.4" fill="#222" xml:space="preserve"><tspan font-style="italic">wah-1(bon89)</tspan><tspan font-style="normal"> - </tspan><tspan font-style="italic">skn-1</tspan><tspan font-style="normal"> RNAi</tspan></text>
<text x="344.00" y="285.40" font-size="15" font-weight="normal" font-style="normal" text-anchor="start" fill="#111">D</text>
<g>
<path d="M525.30,325.60 L525.30,334.20 A24.9,13.3 0 0 0 575.10,334.20 L575.10,325.60 A24.9,13.3 0 0 1 525.30,325.60 Z" fill="#cfa950" stroke="#2c3850" stroke-width="0.6"/>
<ellipse cx="550.20" cy="331.00" rx="24.10" ry="12.70" fill="#d6b45c"/>
<ellipse cx="550.20" cy="330.20" rx="22.40" ry="11.10" fill="#d2ae52"/>
<ellipse cx="533.20" cy="333.60" rx="2.99" ry="1.62" fill="#e6c83c" opacity="1"/>
<ellipse cx="537.20" cy="337.60" rx="2.99" ry="1.62" fill="#ab8428" opacity="1"/>
<ellipse cx="543.20" cy="340.20" rx="2.76" ry="1.50" fill="#ad8a30" opacity="1"/>
<ellipse cx="551.20" cy="341.00" rx="2.76" ry="1.50" fill="#ab8428" opacity="1"/>
<ellipse cx="558.20" cy="340.80" rx="2.99" ry="1.50" fill="#e2c23a" opacity="1"/>
<ellipse cx="565.20" cy="338.80" rx="2.99" ry="1.62" fill="#ab8428" opacity="1"/>
<ellipse cx="570.20" cy="334.20" rx="2.76" ry="1.62" fill="#e2c23a" opacity="1"/>
<ellipse cx="540.20" cy="321.20" rx="2.53" ry="1.38" fill="#ad8a30" opacity="1"/>
<ellipse cx="547.20" cy="319.20" rx="2.76" ry="1.38" fill="#bf9a3a" opacity="1"/>
<ellipse cx="554.20" cy="320.00" rx="2.76" ry="1.38" fill="#b99b40" opacity="1"/>
<ellipse cx="561.20" cy="322.00" rx="2.76" ry="1.50" fill="#e2c23a" opacity="1"/>
<ellipse cx="548.20" cy="326.20" rx="2.30" ry="1.25" fill="#c9a444" opacity="1"/>
<ellipse cx="534.20" cy="325.60" rx="2.30" ry="1.25" fill="#c4a040" opacity="1"/>
<ellipse cx="566.20" cy="329.20" rx="2.53" ry="1.38" fill="#ab8428" opacity="1"/>
<ellipse cx="544.20" cy="332.60" rx="2.53" ry="1.38" fill="#c09636" opacity="1"/>
<ellipse cx="552.20" cy="334.10" rx="2.76" ry="1.38" fill="#e0c040" opacity="1"/>
<ellipse cx="535.20" cy="329.60" rx="2.30" ry="1.25" fill="#e2c23a" opacity="1"/>
<path d="M531.60,330.60 q2,-6 5,-7.5 q2.5,-0.6 4.6,2.6 q1.2,1.4 3.2,-1.4 q1.6,-2.6 3.4,-3.4" fill="none" stroke="#3a1a2a" stroke-width="1.7" stroke-linecap="round" stroke-linejoin="round"/>
<path d="M531.60,330.60 q2,-6 5,-7.5 q2.5,-0.6 4.6,2.6 q1.2,1.4 3.2,-1.4 q1.6,-2.6 3.4,-3.4" fill="none" stroke="#b02a2a" stroke-width="0.5" stroke-linecap="round" stroke-dasharray="1.2 1.0"/>
<path d="M540.60,334.80 q2,-6 5,-7.5 q2.5,-0.6 4.6,2.6 q1.2,1.4 3.2,-1.4 q1.6,-2.6 3.4,-3.4" fill="none" stroke="#3a1a2a" stroke-width="1.7" stroke-linecap="round" stroke-linejoin="round"/>
<path d="M540.60,334.80 q2,-6 5,-7.5 q2.5,-0.6 4.6,2.6 q1.2,1.4 3.2,-1.4 q1.6,-2.6 3.4,-3.4" fill="none" stroke="#b02a2a" stroke-width="0.5" stroke-linecap="round" stroke-dasharray="1.2 1.0"/>
<path d="M552.00,336.80 q2,-6 5,-7.5 q2.5,-0.6 4.6,2.6 q1.2,1.4 3.2,-1.4 q1.6,-2.6 3.6,-3.0" fill="none" stroke="#3a1a2a" stroke-width="1.7" stroke-linecap="round" stroke-linejoin="round"/>
<path d="M552.00,336.80 q2,-6 5,-7.5 q2.5,-0.6 4.6,2.6 q1.2,1.4 3.2,-1.4 q1.6,-2.6 3.6,-3.0" fill="none" stroke="#b02a2a" stroke-width="0.5" stroke-linecap="round" stroke-dasharray="1.2 1.0"/>
<ellipse cx="550.20" cy="324.60" rx="24.9" ry="13.3" fill="#ffffff" fill-opacity="0.06" stroke="#1e2436" stroke-width="0.8"/>
</g>
<text x="549.80" y="360.80" font-size="9.2" font-weight="bold" font-style="normal" text-anchor="middle" fill="#111">OP50</text>
<text x="0.80" y="494.70" font-size="15" font-weight="normal" font-style="normal" text-anchor="start" fill="#111">E</text>
<text x="122.3" y="506.9" font-size="6.8" font-weight="bold" text-anchor="middle" fill="#111"><tspan font-style="italic">wah-1(bon89)</tspan>-HT115 vs <tspan font-style="italic">wah-1(bon89)</tspan>-OP50</text>
<path d="M134.5,701.3h0M140.8,706.4h0M129.0,706.4h0M134.9,703.4h0M145.1,706.1h0M138.6,706.4h0M123.0,704.8h0M143.6,704.0h0M122.8,691.7h0M122.4,697.8h0M139.1,692.0h0M136.2,705.5h0M139.1,704.2h0M139.8,692.8h0M141.2,697.0h0M146.4,699.9h0M133.8,706.7h0M135.7,706.1h0M133.0,704.4h0M128.8,696.9h0M130.0,690.8h0M138.6,698.5h0M137.0,703.0h0M135.7,690.4h0M129.9,705.8h0M124.7,704.5h0M143.4,698.9h0M139.6,700.1h0M141.6,694.8h0M131.6,699.3h0M128.7,685.7h0M132.3,684.2h0M124.7,706.1h0M138.6,698.5h0M116.1,698.7h0M127.5,706.8h0M144.6,698.7h0M138.6,706.7h0M140.2,694.2h0M140.8,702.4h0M141.1,687.0h0M144.4,696.5h0M140.9,686.4h0M143.5,703.1h0M121.8,696.9h0M149.8,704.0h0M139.3,705.0h0M141.9,700.0h0M131.2,707.1h0M133.2,703.3h0M129.4,673.6h0M144.3,691.6h0M125.4,689.9h0M135.5,706.8h0M128.2,687.6h0M130.2,706.0h0M141.8,696.5h0M139.4,705.2h0M137.8,706.0h0M135.2,707.1h0M138.9,705.9h0M142.9,706.8h0M141.2,686.5h0M133.1,705.1h0M133.6,704.3h0M133.9,695.3h0M139.8,665.3h0M127.4,705.9h0M138.6,706.3h0M133.1,694.6h0M142.0,705.2h0M156.4,687.6h0M139.5,705.8h0M134.8,703.1h0M136.1,689.7h0M144.8,702.9h0M127.1,701.0h0M143.6,697.6h0M133.8,696.6h0M141.7,663.3h0M124.8,685.8h0M138.1,704.2h0M146.4,706.6h0M143.1,703.5h0M137.8,699.7h0M134.2,681.1h0M144.1,703.9h0M134.4,705.6h0M138.4,700.3h0M141.8,682.7h0M141.6,696.1h0M128.8,688.4h0M142.7,689.6h0M136.6,706.1h0M127.3,686.6h0M129.4,667.8h0M149.3,697.8h0M148.1,703.9h0M139.9,687.1h0M140.0,693.0h0M148.8,687.9h0M130.5,705.7h0M144.9,706.9h0M148.2,694.1h0M134.5,691.9h0M143.3,704.2h0M136.5,705.7h0M143.4,696.3h0M136.1,706.5h0M131.1,699.1h0M143.8,677.4h0M120.6,693.0h0M145.3,696.3h0M135.0,704.2h0M136.4,706.1h0M151.2,703.2h0M137.0,703.6h0M135.0,705.1h0M126.3,696.7h0M123.2,705.1h0M131.7,700.1h0M136.7,699.5h0M143.2,698.6h0M131.4,701.9h0M129.3,699.1h0M130.3,695.3h0M127.0,698.3h0M139.6,683.8h0M131.4,681.8h0M120.8,701.1h0M129.5,705.5h0M143.0,706.2h0M142.7,703.9h0M142.0,682.6h0M143.9,693.3h0M147.3,704.6h0M152.4,701.7h0M142.2,687.4h0M141.2,699.9h0M144.0,701.8h0M139.0,697.4h0M143.4,706.9h0M128.3,706.9h0M133.7,704.5h0M129.7,706.4h0M141.8,705.9h0M115.5,699.2h0M150.4,700.9h0M140.1,705.9h0M145.0,702.9h0M147.4,693.2h0M139.0,698.3h0M138.1,703.4h0M153.9,683.6h0M145.1,684.4h0M150.5,705.7h0M129.5,698.3h0M138.7,688.0h0M136.1,703.7h0M140.9,704.5h0M140.4,706.6h0M139.7,705.2h0M134.0,698.3h0M143.1,703.0h0M131.5,703.4h0M136.6,707.0h0M136.6,700.4h0M138.1,701.8h0M140.1,683.4h0M145.2,705.5h0M140.3,701.0h0M128.7,686.1h0M129.0,693.9h0M128.1,692.0h0M149.5,688.2h0M130.4,706.5h0M140.9,705.8h0M148.7,701.8h0M142.4,705.1h0M144.5,692.2h0M135.4,705.5h0M142.6,700.1h0M141.5,704.0h0M144.0,665.0h0M146.7,702.7h0M134.9,689.5h0M133.8,707.1h0M143.7,701.0h0M127.1,704.1h0M138.1,702.4h0M143.0,706.0h0M136.8,704.4h0M138.3,704.6h0M137.1,705.6h0M128.0,689.8h0M131.5,697.7h0M133.1,703.6h0M120.2,698.9h0M141.2,694.3h0M136.2,702.4h0M140.8,697.7h0M135.1,706.4h0M121.8,693.0h0M136.2,699.0h0M121.7,685.2h0M127.9,692.3h0M136.9,706.3h0M138.7,703.9h0M148.9,692.4h0M146.1,692.2h0M128.0,698.7h0M127.8,707.1h0M140.6,700.6h0M123.7,694.1h0M135.0,700.3h0M134.1,705.3h0M142.3,692.6h0M139.5,705.2h0M135.2,703.8h0M114.4,694.2h0M124.3,683.3h0M138.2,700.6h0M134.6,706.2h0M134.1,705.3h0M136.3,703.1h0M129.7,707.0h0M142.6,694.4h0M139.0,698.1h0M133.6,702.3h0M130.6,701.0h0M132.6,690.1h0M137.5,705.8h0M155.6,706.7h0M134.0,703.3h0M145.7,698.3h0M117.2,699.6h0M141.5,704.7h0M155.7,685.1h0M142.9,671.5h0M144.3,705.2h0M140.8,686.5h0M127.8,691.7h0M138.6,702.3h0M153.9,706.5h0M146.1,698.1h0M136.8,705.2h0M141.4,703.3h0M142.4,686.6h0M136.8,706.4h0M130.9,703.9h0M142.5,697.1h0M131.1,704.1h0M143.2,706.5h0M149.0,701.0h0M136.6,703.4h0M143.0,704.6h0M123.4,693.3h0M136.1,701.1h0M134.1,703.5h0M136.8,705.3h0M124.9,706.3h0M140.4,701.3h0M134.7,704.8h0M132.7,678.9h0M149.4,701.5h0M132.8,701.1h0M130.9,702.4h0M139.0,705.3h0M140.8,684.6h0M130.9,684.8h0M136.7,677.8h0M132.4,705.4h0M138.0,706.5h0M134.7,705.6h0M139.6,704.6h0M129.4,701.3h0M128.1,701.3h0M141.7,702.8h0M142.7,667.6h0M139.1,706.1h0M136.4,705.9h0M135.8,704.9h0M142.7,700.3h0M132.1,706.9h0M139.2,702.1h0M136.5,704.6h0M136.5,694.1h0M122.3,701.8h0M140.3,700.5h0M139.6,697.7h0M148.8,688.4h0M131.9,695.1h0M126.7,706.5h0M139.4,695.0h0M138.6,699.6h0M154.8,698.3h0M140.9,697.4h0M141.1,695.3h0M139.0,701.5h0M138.6,700.8h0M132.2,699.7h0M140.4,707.0h0M133.7,686.7h0M145.2,692.5h0M143.5,703.8h0M130.4,704.3h0M149.0,700.4h0M133.5,707.0h0M124.4,698.2h0M136.7,705.5h0M127.4,703.7h0M120.5,706.4h0M132.1,697.8h0M143.9,704.3h0M140.5,700.6h0M123.8,703.2h0M143.5,685.9h0M135.3,705.9h0M139.1,704.4h0M131.4,704.9h0M136.8,704.3h0M126.5,704.9h0M119.5,696.4h0M141.7,705.5h0M158.1,705.6h0M144.2,677.2h0M139.6,689.4h0M133.6,689.4h0M108.5,693.9h0M144.2,689.2h0M154.2,706.3h0M132.5,703.5h0M129.8,702.8h0M136.9,705.3h0M137.2,704.7h0M140.6,676.0h0M135.5,706.0h0M127.2,684.2h0M148.5,697.1h0M145.4,700.4h0M139.4,686.8h0M139.3,689.0h0M143.9,706.7h0M124.0,682.8h0M144.5,706.5h0M139.5,686.6h0M137.3,705.4h0M136.3,705.1h0M119.2,700.2h0M147.5,702.1h0M133.6,698.9h0M134.0,707.1h0M142.6,691.0h0M130.8,706.9h0M137.6,688.0h0M131.9,702.4h0M140.7,700.7h0M141.3,690.9h0M134.4,699.4h0M142.8,696.2h0M124.0,700.5h0M133.3,696.7h0M143.6,706.1h0M141.1,704.3h0M149.5,705.8h0M146.7,700.9h0M138.8,678.1h0M154.6,699.7h0M120.4,705.3h0M144.5,690.5h0M142.1,700.7h0M137.5,701.3h0M145.0,691.4h0M136.4,701.8h0M120.8,704.5h0M140.3,699.6h0M130.9,702.7h0M136.2,705.8h0M131.2,704.5h0M146.3,693.9h0M150.5,699.3h0M116.4,689.6h0M152.1,701.5h0M125.5,705.5h0M139.0,688.4h0M143.2,705.6h0M138.3,705.7h0M134.8,704.6h0M142.6,703.7h0M130.0,691.5h0M140.3,699.0h0M135.3,702.5h0M138.2,706.1h0M144.3,704.1h0M136.3,702.1h0M147.6,703.3h0M143.9,692.7h0M137.1,705.9h0M134.5,698.3h0M141.7,698.8h0M140.1,702.7h0M138.1,701.8h0M134.3,706.1h0M133.9,699.7h0M131.0,703.7h0M140.2,680.0h0M132.6,703.7h0M146.4,698.8h0M154.7,696.2h0M115.9,701.6h0M135.9,707.1h0M131.2,686.0h0M123.2,698.0h0M143.6,680.4h0M131.9,707.0h0M137.8,702.0h0M125.3,705.7h0M122.8,689.6h0M130.0,705.5h0M143.6,702.9h0M118.2,704.5h0M134.2,703.1h0M143.8,704.3h0M116.6,703.8h0M157.4,689.3h0M128.8,706.5h0M143.8,677.3h0M133.0,700.2h0M138.8,695.7h0M132.3,705.1h0M145.5,704.2h0M138.3,702.1h0M144.7,700.5h0M141.0,694.6h0M140.9,685.2h0M146.8,684.7h0M139.3,706.8h0M138.8,700.4h0M133.1,701.5h0M131.7,702.5h0M131.6,699.6h0M125.9,698.4h0M142.0,700.9h0M147.8,695.7h0M138.3,705.3h0M137.8,703.2h0M122.5,703.5h0M132.8,706.1h0M137.3,703.9h0M144.0,697.9h0M141.4,706.7h0M134.4,699.6h0M134.1,698.0h0M133.9,702.7h0M136.4,704.8h0M140.8,688.6h0M135.3,680.6h0M134.9,706.0h0M137.7,706.0h0M141.1,706.4h0M118.3,697.3h0M136.8,695.1h0M131.8,704.4h0M138.4,702.2h0M132.5,687.5h0M138.3,702.3h0M142.8,702.7h0M141.7,705.3h0M137.8,689.7h0M129.2,705.0h0M144.1,693.9h0M143.3,701.7h0M143.9,696.1h0M129.2,683.1h0M152.3,696.2h0M138.5,674.2h0M130.5,698.7h0M127.8,699.7h0M147.3,703.9h0M136.5,698.6h0M134.1,705.3h0M121.6,690.1h0M118.6,682.7h0M136.4,706.9h0M137.1,706.2h0M130.1,699.8h0M130.8,685.7h0M140.6,697.3h0M140.9,706.9h0M144.3,705.6h0M136.7,704.8h0M138.4,701.0h0M147.3,703.4h0M130.0,705.6h0M130.1,678.9h0M136.8,706.6h0M141.3,697.0h0M146.5,699.2h0M126.3,702.7h0M148.3,692.7h0M137.5,704.5h0M131.2,682.1h0M129.6,692.9h0M136.8,706.9h0M154.3,689.1h0M131.6,706.6h0M140.0,694.1h0M137.4,706.2h0M140.1,700.9h0M147.2,690.4h0M138.6,704.5h0M132.0,704.1h0M141.8,693.9h0M137.2,703.5h0M136.2,705.9h0M127.7,705.7h0M136.9,704.9h0M138.9,696.7h0M131.3,695.9h0M121.8,701.2h0M128.4,688.4h0M133.7,702.4h0M135.5,691.9h0M148.3,702.9h0M137.7,705.2h0M135.6,705.9h0M135.9,701.2h0M117.0,697.6h0M141.9,704.2h0M131.6,686.6h0M128.1,693.6h0M121.3,683.7h0M139.6,691.1h0M124.5,693.5h0M141.7,703.3h0M139.3,706.5h0M137.8,706.4h0M138.1,689.5h0M134.1,706.9h0M140.4,706.7h0M132.5,698.0h0M125.8,687.4h0M146.6,700.0h0M141.0,690.6h0M143.9,706.2h0M153.5,704.5h0M126.6,703.9h0M138.3,694.3h0M138.0,696.2h0M126.5,693.1h0M125.2,701.9h0M139.6,695.4h0M138.8,705.4h0M133.0,706.9h0M144.4,703.2h0M134.0,704.3h0M149.3,700.0h0M134.4,701.7h0M144.9,699.2h0M138.2,697.0h0M129.3,698.6h0M147.1,703.2h0M138.9,694.2h0M133.9,705.9h0M142.1,691.5h0M136.7,687.6h0M146.1,696.9h0M136.9,698.6h0M140.4,703.2h0M135.3,705.5h0M156.2,700.9h0M133.6,706.3h0M127.5,694.0h0M149.2,685.2h0M143.6,687.8h0M131.3,702.5h0M131.1,702.5h0M139.3,689.8h0M134.4,707.0h0M138.4,691.1h0M142.8,699.1h0M124.3,702.8h0M148.3,696.4h0M123.2,682.6h0M133.9,700.7h0M132.4,705.8h0M142.5,686.1h0M129.6,705.1h0M125.2,698.2h0M138.2,706.2h0M126.0,698.1h0M141.1,705.0h0M132.6,704.4h0M132.1,705.7h0M121.6,703.8h0M136.7,703.3h0M143.9,704.9h0M134.1,685.0h0M141.3,694.1h0M153.4,704.7h0M149.1,698.3h0M135.1,704.3h0M140.5,706.1h0M147.6,703.2h0M135.0,704.5h0M138.0,696.9h0M133.3,700.2h0M127.6,699.1h0M143.6,700.6h0M145.3,687.9h0M143.9,696.2h0M131.9,695.6h0M131.4,695.8h0M139.4,690.1h0M138.5,693.5h0M124.1,688.2h0M131.0,703.6h0M129.6,696.5h0M143.6,688.2h0M141.5,694.3h0M132.4,702.8h0M132.1,702.2h0M130.6,696.1h0M130.8,681.9h0M141.5,691.7h0M147.5,699.0h0M114.5,706.1h0M138.0,702.0h0M144.2,670.2h0M148.7,694.1h0M145.2,696.1h0M142.9,692.2h0M135.7,703.9h0M119.8,702.1h0M147.2,688.3h0M125.8,705.2h0M134.9,705.4h0M138.8,703.3h0M145.1,699.5h0M137.3,700.1h0M132.8,705.2h0M141.7,692.9h0M145.9,703.4h0M132.9,695.4h0M132.2,706.0h0M140.2,693.9h0M140.8,701.1h0M125.8,694.9h0M139.8,703.4h0M142.9,699.7h0M123.0,700.9h0M132.6,693.5h0M135.4,705.0h0M140.4,702.8h0M131.4,704.5h0M131.9,707.1h0M139.0,697.4h0M135.4,705.4h0M142.6,699.6h0M126.1,691.6h0M141.7,702.4h0M151.1,705.9h0M129.7,688.3h0M148.5,704.4h0M128.6,686.2h0M135.7,707.0h0M135.6,693.6h0M133.2,706.4h0M131.5,705.7h0M138.1,704.3h0M150.7,703.8h0M148.5,703.9h0M128.4,680.5h0M125.6,690.5h0M127.7,678.4h0M140.3,705.1h0M121.5,684.3h0M123.4,697.1h0M134.0,694.1h0M130.6,704.5h0M134.4,706.3h0M133.8,703.1h0M136.7,706.3h0M127.0,696.7h0M137.1,695.9h0M152.2,693.5h0M137.3,702.3h0M128.7,701.6h0M123.1,697.6h0M139.7,698.6h0M135.8,702.8h0M147.6,687.9h0M138.6,687.8h0M125.4,696.3h0M156.8,689.6h0M138.3,698.4h0M135.3,702.5h0M128.0,701.4h0M150.4,694.5h0M122.8,702.9h0M134.4,703.8h0M127.5,684.3h0M141.5,703.6h0M140.5,700.7h0M129.3,703.6h0M135.7,700.4h0M133.1,704.6h0M142.8,696.8h0M127.2,706.6h0M125.9,688.3h0M144.3,706.4h0M129.9,703.4h0M141.9,680.0h0M136.8,702.1h0M128.8,679.1h0M124.6,691.9h0M128.1,692.4h0M128.9,696.7h0M134.2,700.7h0M131.5,701.7h0M136.9,706.0h0M132.9,706.8h0M139.4,698.6h0M118.8,696.9h0M142.9,697.4h0M123.7,702.0h0M133.9,704.7h0M144.7,699.4h0M124.7,706.2h0M121.8,691.2h0M140.6,691.7h0M137.6,701.8h0M144.4,706.9h0M132.3,703.2h0M126.1,697.8h0M133.4,700.1h0M138.6,705.4h0M137.5,707.1h0M137.8,699.8h0M152.0,705.1h0M137.7,699.2h0M137.7,705.4h0M136.1,706.9h0M131.4,693.9h0M133.0,697.7h0M121.0,705.4h0M127.8,699.3h0M136.1,701.4h0M157.7,706.8h0M137.7,706.6h0M131.7,705.5h0M133.8,704.2h0M136.9,702.5h0M125.2,704.7h0M141.2,691.2h0M128.9,695.7h0M145.5,699.3h0M146.0,684.0h0M130.4,706.5h0M133.8,684.2h0M132.2,703.9h0M122.0,689.6h0M151.9,687.6h0M134.4,705.0h0M121.2,697.8h0M144.0,692.2h0M126.3,702.3h0M143.0,700.6h0M136.7,702.6h0M143.5,706.6h0M142.8,697.2h0M121.4,700.9h0M145.4,690.5h0M134.6,702.7h0M139.4,694.2h0M140.8,681.7h0M149.6,702.1h0M127.0,698.6h0M129.0,704.5h0M136.2,699.8h0M150.2,695.1h0M144.4,703.6h0M128.3,698.1h0M125.8,704.0h0M138.2,705.7h0M142.0,702.3h0M148.1,692.8h0M128.6,705.2h0M142.3,706.6h0M144.5,705.6h0M136.5,702.2h0M137.7,701.4h0M132.0,703.6h0M135.0,706.9h0M136.4,684.5h0M142.9,697.3h0M129.6,703.8h0M138.2,687.4h0M128.2,689.2h0M145.4,702.9h0M117.6,706.2h0M138.2,706.5h0M141.5,706.6h0M121.2,695.0h0M130.8,679.2h0M139.1,700.1h0M135.0,704.6h0M151.7,700.9h0M150.7,690.5h0M123.7,688.2h0M120.8,697.1h0M132.1,679.5h0M138.2,675.0h0M137.0,705.5h0M138.9,703.9h0M126.5,706.4h0M139.5,698.6h0M140.9,693.6h0M138.2,688.2h0M133.6,701.2h0M130.5,693.1h0M142.3,703.8h0M141.1,705.8h0M131.7,704.8h0M137.2,706.2h0M136.0,701.5h0M135.4,706.1h0M154.8,701.0h0M140.8,681.3h0M148.1,704.5h0M123.9,697.2h0M147.4,690.9h0M129.5,688.3h0M138.8,702.3h0M133.5,705.4h0M133.3,706.7h0M134.3,706.2h0M135.8,706.4h0M145.0,702.7h0M140.5,705.4h0M130.4,700.4h0M129.3,705.8h0M142.7,704.4h0M130.0,704.0h0M137.6,705.7h0M142.1,682.4h0M140.5,706.6h0M135.6,690.1h0M129.9,706.9h0M139.2,705.9h0M129.6,707.1h0M141.5,705.0h0M127.9,699.9h0M141.5,698.4h0M133.6,706.1h0M142.6,693.0h0M149.3,703.1h0M139.7,699.3h0M138.3,702.4h0M135.8,703.1h0M142.1,693.7h0M140.7,705.0h0M126.6,706.2h0M135.7,701.6h0M128.3,706.4h0M139.4,692.4h0M129.8,686.0h0M135.2,695.4h0M136.7,703.8h0M141.1,705.1h0M132.0,692.4h0M133.3,703.9h0M140.2,699.1h0M146.5,697.9h0M136.9,703.2h0M131.1,702.7h0M148.2,683.0h0M142.8,699.2h0M126.6,696.4h0M135.8,707.0h0M142.3,704.9h0M135.4,706.6h0M136.6,706.9h0M151.7,705.0h0M134.9,707.0h0M131.5,699.1h0M127.8,691.8h0M132.0,706.2h0M145.5,706.4h0M127.1,705.3h0M127.0,702.7h0M137.0,706.4h0M132.9,700.6h0M139.1,691.9h0M143.0,690.8h0M145.1,704.6h0M145.5,700.0h0M119.5,695.4h0M141.9,701.7h0M128.2,672.4h0M137.9,705.3h0M129.3,702.6h0M142.9,706.5h0M122.1,693.5h0M155.0,700.1h0M131.6,702.4h0M131.4,700.4h0M130.9,706.4h0M127.8,706.8h0M140.6,705.7h0M133.9,700.9h0M142.8,682.1h0M120.8,706.4h0M132.6,698.5h0M131.6,704.3h0M118.7,685.5h0M131.8,704.7h0M128.0,669.5h0M135.5,705.6h0M132.6,706.1h0M147.7,692.0h0M146.0,702.4h0M133.9,703.2h0M132.1,706.0h0M135.6,706.5h0M134.4,705.2h0M144.6,703.3h0M142.0,697.0h0M125.9,703.8h0M131.6,696.3h0M126.6,693.9h0M139.1,702.2h0M134.4,705.7h0M142.3,699.2h0M128.6,707.0h0M143.9,701.6h0M140.5,699.6h0M132.0,701.6h0M131.4,704.0h0M138.3,693.1h0M139.2,702.6h0M144.1,699.6h0M139.7,696.0h0M141.1,675.6h0M140.3,695.1h0M140.8,703.0h0M142.7,694.1h0M126.0,696.5h0M135.7,700.9h0M123.2,695.8h0M139.4,687.4h0M124.1,704.8h0M137.1,698.9h0M136.1,703.1h0M115.7,685.5h0M136.9,704.2h0M140.1,698.9h0M120.4,697.3h0M128.0,691.1h0M139.3,704.4h0M128.6,701.4h0M143.2,702.4h0M140.3,700.9h0M121.2,695.6h0M139.4,705.8h0M143.0,697.0h0M133.6,690.5h0M134.9,705.1h0M123.6,703.2h0M120.6,706.9h0M144.6,706.4h0M127.8,675.2h0M132.8,696.2h0M108.3,682.9h0M129.6,699.3h0M133.4,704.1h0M129.2,697.0h0M124.8,689.3h0M152.6,690.8h0M143.0,701.0h0M141.2,698.9h0M129.1,699.6h0M140.8,703.1h0M121.9,703.6h0M133.8,704.7h0M151.7,692.0h0M134.6,706.5h0M143.1,705.1h0M131.1,704.0h0M127.0,704.3h0M135.9,706.2h0M129.0,702.1h0M135.0,704.4h0M134.8,698.9h0M132.3,707.1h0M148.3,700.8h0M142.5,694.6h0M127.5,704.3h0M126.3,702.7h0M136.8,701.7h0M131.1,702.3h0M140.1,694.7h0M139.9,706.1h0M140.7,700.2h0M139.6,692.9h0M125.4,706.1h0M127.0,706.9h0M137.5,699.5h0M129.5,702.3h0M139.7,706.2h0M142.2,681.3h0M130.0,701.0h0M132.9,703.5h0M152.8,687.8h0M142.4,671.2h0M126.1,702.9h0M140.8,706.7h0M151.2,699.4h0M129.9,683.1h0M139.4,699.7h0M130.3,674.7h0M116.7,700.3h0M137.2,704.3h0M135.5,705.4h0M131.0,687.7h0M122.2,701.9h0M138.0,705.8h0M133.3,682.8h0M140.7,703.9h0M132.9,701.5h0M135.1,704.7h0M134.2,706.3h0M138.3,695.1h0M133.0,705.6h0M141.5,703.7h0M136.8,701.4h0M138.8,704.0h0M143.7,705.9h0M147.2,702.0h0M138.8,702.8h0M132.9,694.0h0M138.2,704.1h0M132.1,696.7h0M121.9,702.7h0M130.8,701.4h0M136.4,706.4h0M134.9,695.2h0M130.5,698.4h0M132.5,699.9h0M141.1,704.7h0M139.5,701.2h0M133.6,702.0h0M134.8,704.6h0M150.5,685.9h0M130.2,702.1h0M133.7,706.5h0M143.7,702.3h0M150.9,685.2h0M144.7,701.0h0M143.2,698.7h0M135.7,705.5h0M139.5,705.0h0M145.7,702.2h0M145.8,699.4h0M129.0,684.6h0M141.0,706.8h0M141.5,695.5h0M132.7,703.1h0M130.1,696.1h0M134.7,697.0h0M130.8,703.0h0M133.1,706.2h0M132.9,689.3h0M135.3,706.9h0M123.8,706.4h0M139.5,704.2h0M141.2,702.3h0M143.4,694.6h0M138.3,705.7h0M142.3,693.2h0M127.6,703.3h0M125.2,700.5h0M141.5,707.1h0M143.8,702.8h0M124.4,706.4h0M143.4,706.5h0M127.8,703.5h0M147.7,703.1h0M136.6,701.1h0M133.2,703.6h0M136.4,705.5h0M121.3,705.3h0M133.8,699.6h0M135.5,702.6h0M121.3,695.3h0M148.5,697.2h0M140.8,700.3h0M140.5,694.0h0M134.8,706.9h0M132.3,704.7h0M122.5,692.7h0M148.0,693.7h0M134.4,705.5h0M143.8,700.4h0M139.4,705.3h0M135.0,700.9h0M140.7,696.7h0M137.1,703.1h0M142.7,700.3h0M143.6,702.7h0M133.6,693.1h0M143.2,702.2h0M144.8,683.9h0M123.4,703.9h0M132.5,698.6h0M129.2,690.9h0M131.3,691.2h0M141.7,702.4h0M141.1,704.8h0M142.8,704.6h0M139.1,697.8h0M132.8,704.2h0M137.9,703.0h0M133.4,706.6h0M140.4,707.0h0M150.2,705.4h0M135.9,701.6h0M147.0,705.2h0M135.3,703.9h0M131.8,700.5h0M138.7,707.0h0M146.9,691.4h0M130.9,681.5h0M133.0,705.1h0M131.5,705.8h0M139.1,704.4h0M141.2,688.6h0M143.6,685.0h0M134.2,696.8h0M141.2,703.3h0M129.6,702.1h0M144.2,683.8h0M136.8,702.7h0M139.0,699.6h0M142.0,681.7h0M127.0,704.8h0M137.0,705.2h0M133.7,699.6h0M135.0,706.2h0M116.4,704.8h0M144.2,706.6h0M131.7,696.1h0M138.6,707.1h0M145.3,685.1h0M123.1,697.3h0M134.1,702.8h0M148.4,697.5h0M132.0,698.1h0M144.1,684.5h0M140.6,703.8h0M133.8,703.4h0M129.7,704.8h0M133.7,706.5h0M132.6,680.0h0M120.1,687.0h0M137.7,700.1h0M134.0,701.3h0M133.5,686.9h0M146.8,696.7h0M132.5,703.9h0M131.1,687.3h0M141.8,695.1h0M137.5,703.5h0M146.9,699.7h0M142.7,697.1h0M127.9,696.7h0M141.6,701.9h0M140.5,686.9h0M140.0,700.2h0M149.0,701.8h0M147.1,705.5h0M130.5,700.5h0M135.4,703.4h0M138.2,706.3h0M147.1,695.4h0M133.8,703.8h0M134.9,706.7h0M121.5,691.6h0M142.7,692.7h0M136.8,682.5h0M132.6,697.4h0M148.9,698.1h0M145.8,704.3h0M146.8,683.5h0M134.0,706.2h0M137.1,705.6h0M133.8,704.2h0M147.5,703.1h0M137.7,704.9h0M134.3,694.5h0M128.3,695.3h0M143.9,675.2h0M129.1,683.9h0M143.3,702.0h0M130.2,705.8h0M122.8,698.7h0M135.0,700.7h0M116.8,706.0h0M133.6,701.9h0M134.3,697.8h0M150.7,684.6h0M148.7,701.8h0M139.7,691.9h0M144.9,695.0h0M137.9,706.3h0M137.7,697.0h0M140.7,703.9h0M146.1,689.5h0M133.3,692.8h0M139.7,700.6h0M131.1,679.9h0M122.8,706.9h0M134.1,702.9h0M140.5,688.1h0M137.3,705.9h0M134.5,697.6h0M133.1,702.6h0M129.3,705.2h0M141.2,686.6h0M129.9,697.2h0M143.1,704.2h0M140.0,687.8h0M134.6,706.1h0M135.3,705.0h0M126.1,700.0h0M138.8,703.9h0M147.3,700.4h0M137.0,707.0h0M113.5,705.8h0M142.7,705.3h0M133.5,705.0h0M130.9,700.6h0M135.8,703.9h0M138.8,701.1h0M136.5,699.8h0M146.4,691.6h0M126.5,693.0h0M132.3,694.5h0M141.7,685.7h0M148.1,700.9h0" stroke="#d3d3d3" stroke-width="1.7" stroke-linecap="round" fill="none"/>
<path d="M159.2,699.5h0M139.1,703.4h0M170.8,705.0h0M130.1,695.1h0M131.6,706.3h0M124.4,695.0h0M120.0,706.8h0M144.1,696.8h0M145.7,697.3h0M132.0,702.4h0M117.4,694.6h0M142.6,691.4h0M96.7,704.5h0M112.2,693.2h0M118.8,698.7h0M146.6,704.5h0M143.4,700.9h0M135.4,694.2h0M99.8,704.9h0M122.4,705.4h0M130.0,697.6h0M141.8,702.5h0M159.8,689.6h0M133.2,699.1h0M100.8,697.6h0M160.0,707.0h0M126.5,702.1h0M163.3,703.9h0M153.3,699.1h0M171.0,700.4h0M133.5,705.2h0M99.7,700.9h0M140.0,691.2h0M121.5,703.0h0M109.1,700.2h0M113.7,689.1h0M114.9,704.0h0M134.4,696.0h0M132.1,702.7h0M123.1,703.3h0M163.7,704.5h0M87.4,701.4h0M107.5,699.7h0M156.8,707.2h0M160.9,702.2h0M133.5,695.6h0M149.4,705.6h0M108.3,696.3h0M112.0,696.0h0M106.8,699.3h0M118.6,706.7h0M128.7,707.1h0M147.5,691.4h0M168.6,703.1h0M166.2,703.8h0M139.5,697.4h0M142.8,705.9h0M167.2,706.4h0M121.2,700.0h0M91.2,698.9h0M160.6,697.8h0M149.6,696.4h0M121.2,703.6h0M112.6,696.3h0M134.7,693.1h0M137.6,705.3h0M158.4,689.5h0M143.7,690.5h0M120.5,706.2h0M158.4,706.3h0M178.6,697.7h0M146.2,701.8h0M119.3,705.0h0M112.4,703.9h0M122.5,700.7h0M148.8,698.9h0M143.2,701.8h0M147.7,694.2h0M126.3,698.4h0M176.9,699.4h0M97.2,699.6h0M171.9,698.9h0M132.2,697.1h0M131.4,692.7h0M151.6,696.6h0M160.2,705.9h0M146.3,695.3h0M97.8,703.9h0M148.6,687.2h0M150.5,704.1h0M162.3,704.1h0M163.5,704.4h0M117.0,698.1h0M128.8,702.0h0M134.9,699.5h0M168.1,702.5h0M128.7,701.8h0M117.6,699.0h0M165.8,706.6h0M139.0,706.1h0M104.1,695.4h0M150.6,702.9h0M100.7,706.8h0M164.4,700.3h0M170.5,706.2h0M92.5,703.5h0M121.8,696.5h0M149.5,694.5h0M106.0,703.8h0M107.2,699.6h0M99.5,685.9h0M168.8,700.6h0M135.5,697.1h0M143.2,706.0h0M173.2,700.8h0M145.8,690.8h0M109.0,702.6h0M106.3,706.2h0M104.8,698.9h0M101.3,701.8h0M140.6,701.3h0M102.7,689.5h0M135.0,699.9h0M135.5,703.1h0M138.4,704.8h0M124.9,694.3h0M140.8,697.6h0M141.8,700.6h0M131.5,701.5h0M147.5,703.5h0M160.5,703.2h0M145.9,693.3h0M121.1,701.2h0M165.0,706.6h0M155.7,704.5h0M121.2,684.7h0M156.7,690.3h0M156.5,694.3h0M144.8,704.3h0M175.3,704.4h0M178.8,690.7h0M142.0,690.7h0M115.4,699.4h0M178.8,698.6h0M114.7,696.5h0M151.9,691.8h0M154.1,704.3h0M150.2,695.0h0M137.8,707.5h0M156.7,701.9h0M118.2,700.3h0M113.6,699.5h0M146.8,706.3h0M118.8,703.8h0M167.3,701.5h0M169.3,703.3h0M110.4,703.2h0M131.6,704.6h0M140.9,698.9h0M169.0,698.7h0M164.3,699.3h0M137.7,701.1h0M147.5,696.5h0M131.1,693.4h0M108.4,686.9h0M107.6,706.8h0M156.3,698.7h0M138.8,694.3h0M147.1,694.5h0M126.5,690.9h0" stroke="#d0d0d0" stroke-width="1.1" stroke-linecap="round" fill="none"/>
<path d="M109.9,705.1h0M195.0,704.1h0M81.6,705.6h0M102.0,698.6h0M208.6,704.9h0M205.6,704.7h0M124.5,706.2h0M117.4,698.6h0M97.0,702.9h0M126.5,691.2h0M179.2,704.3h0M175.7,698.8h0M161.8,697.2h0M112.4,690.9h0M100.5,699.1h0M178.0,706.6h0M145.1,699.4h0M96.8,705.8h0M142.2,692.4h0M120.4,699.9h0M103.5,692.6h0M155.9,692.9h0M117.5,688.0h0M109.0,699.1h0M110.3,703.3h0M139.5,697.1h0M198.9,705.6h0M64.8,700.2h0M190.9,695.0h0M119.0,699.7h0M189.8,690.3h0M78.5,693.5h0M134.5,687.3h0M173.4,691.4h0M195.2,704.8h0M167.1,699.1h0M65.0,694.4h0M98.0,704.9h0M69.3,691.8h0M182.9,700.2h0M65.8,695.1h0M54.8,701.1h0M98.3,706.6h0M143.3,702.7h0M187.0,706.3h0M155.2,702.5h0M145.4,702.8h0M87.7,689.5h0M140.4,706.8h0M58.8,699.2h0M64.3,694.6h0M148.1,700.4h0M148.7,702.5h0M214.0,688.9h0M107.1,699.8h0M130.9,705.3h0M163.8,695.5h0M109.0,704.5h0M99.5,703.5h0M137.0,702.3h0M167.1,705.0h0M144.1,691.2h0M174.2,686.0h0M170.2,702.3h0M87.2,707.2h0M170.1,699.0h0M111.2,704.3h0M213.3,705.8h0M82.3,699.5h0M183.3,703.5h0M71.3,704.2h0M129.8,685.1h0M181.7,697.2h0M74.8,705.5h0M135.7,704.9h0M57.6,689.0h0M205.9,691.1h0M171.7,699.2h0M189.2,707.4h0M88.5,698.3h0M55.7,689.9h0M128.6,706.5h0M139.9,706.6h0M154.4,692.1h0M156.8,704.9h0M199.6,704.2h0M149.1,706.1h0M127.4,696.1h0M167.7,704.3h0M170.5,706.6h0M118.4,693.8h0M92.7,694.4h0M129.9,704.3h0M150.3,706.8h0M212.6,703.9h0M180.7,691.5h0M173.2,707.4h0M210.9,702.8h0M62.0,702.0h0M89.4,692.2h0M156.7,695.1h0M78.8,707.1h0M70.9,687.7h0M84.2,698.6h0M136.4,705.2h0M197.0,706.1h0M190.8,695.5h0M134.8,695.8h0M182.5,707.3h0M141.7,702.9h0M55.4,704.0h0M187.3,693.7h0M73.8,699.6h0M123.1,704.9h0M141.8,704.6h0M171.4,688.9h0M70.5,702.3h0M176.6,704.7h0M211.2,705.5h0M66.2,705.2h0M150.3,698.7h0M119.6,695.5h0M201.3,691.8h0M200.7,690.4h0M59.1,692.6h0M123.3,697.4h0M205.5,698.5h0M94.7,703.0h0M106.3,706.0h0M211.6,692.6h0" stroke="#d4d4d4" stroke-width="1.0" stroke-linecap="round" fill="none"/>
<circle cx="85.0" cy="571.4" r="1.90" fill="#7fe070" opacity="0.42"/>
<circle cx="87.2" cy="571.4" r="1.90" fill="#7fe070" opacity="0.42"/>
<circle cx="95.6" cy="574.0" r="1.90" fill="#7fe070" opacity="0.42"/>
<circle cx="111.6" cy="572.0" r="1.90" fill="#7fe070" opacity="0.42"/>
<circle cx="120.6" cy="582.0" r="1.90" fill="#7fe070" opacity="0.42"/>
<circle cx="107.0" cy="586.0" r="1.90" fill="#7fe070" opacity="0.42"/>
<circle cx="115.7" cy="589.7" r="1.90" fill="#7fe070" opacity="0.42"/>
<circle cx="112.6" cy="596.0" r="1.90" fill="#7fe070" opacity="0.42"/>
<circle cx="57.6" cy="600.6" r="1.90" fill="#7fe070" opacity="0.42"/>
<circle cx="74.6" cy="633.6" r="1.90" fill="#7fe070" opacity="0.42"/>
<circle cx="101.0" cy="628.0" r="1.90" fill="#7fe070" opacity="0.42"/>
<circle cx="97.0" cy="620.0" r="1.90" fill="#7fe070" opacity="0.42"/>
<circle cx="109.0" cy="610.0" r="1.90" fill="#7fe070" opacity="0.42"/>
<circle cx="122.0" cy="626.0" r="1.90" fill="#7fe070" opacity="0.42"/>
<circle cx="104.0" cy="640.0" r="1.90" fill="#7fe070" opacity="0.42"/>
<circle cx="93.0" cy="646.0" r="1.90" fill="#7fe070" opacity="0.42"/>
<circle cx="99.0" cy="652.0" r="1.90" fill="#7fe070" opacity="0.42"/>
<circle cx="88.0" cy="655.0" r="1.90" fill="#7fe070" opacity="0.42"/>
<circle cx="80.0" cy="660.0" r="1.90" fill="#7fe070" opacity="0.42"/>
<circle cx="118.0" cy="636.0" r="1.90" fill="#7fe070" opacity="0.42"/>
<circle cx="121.0" cy="645.0" r="1.90" fill="#7fe070" opacity="0.42"/>
<circle cx="106.0" cy="633.0" r="1.90" fill="#7fe070" opacity="0.42"/>
<circle cx="118.3" cy="655.6" r="1.90" fill="#7fe070" opacity="0.42"/>
<circle cx="101.9" cy="656.3" r="1.90" fill="#7fe070" opacity="0.42"/>
<circle cx="85.7" cy="677.0" r="1.90" fill="#7fe070" opacity="0.42"/>
<circle cx="126.8" cy="682.7" r="1.90" fill="#7fe070" opacity="0.42"/>
<circle cx="111.4" cy="678.1" r="1.90" fill="#7fe070" opacity="0.42"/>
<circle cx="101.4" cy="675.5" r="1.90" fill="#7fe070" opacity="0.42"/>
<circle cx="104.7" cy="654.9" r="1.90" fill="#7fe070" opacity="0.42"/>
<circle cx="121.9" cy="652.8" r="1.90" fill="#7fe070" opacity="0.42"/>
<circle cx="95.8" cy="668.6" r="1.90" fill="#7fe070" opacity="0.42"/>
<circle cx="104.7" cy="675.9" r="1.90" fill="#7fe070" opacity="0.42"/>
<circle cx="109.7" cy="664.2" r="1.90" fill="#7fe070" opacity="0.42"/>
<circle cx="113.1" cy="679.7" r="1.90" fill="#7fe070" opacity="0.42"/>
<circle cx="105.6" cy="668.3" r="1.90" fill="#7fe070" opacity="0.42"/>
<circle cx="122.6" cy="629.9" r="1.90" fill="#7fe070" opacity="0.42"/>
<circle cx="99.1" cy="660.7" r="1.90" fill="#7fe070" opacity="0.42"/>
<circle cx="118.1" cy="676.6" r="1.90" fill="#7fe070" opacity="0.42"/>
<circle cx="121.3" cy="637.7" r="1.90" fill="#7fe070" opacity="0.42"/>
<circle cx="115.3" cy="659.0" r="1.90" fill="#7fe070" opacity="0.42"/>
<circle cx="119.6" cy="660.9" r="1.90" fill="#7fe070" opacity="0.42"/>
<circle cx="112.5" cy="660.6" r="1.90" fill="#7fe070" opacity="0.42"/>
<circle cx="126.2" cy="677.6" r="1.90" fill="#7fe070" opacity="0.42"/>
<circle cx="101.8" cy="677.4" r="1.90" fill="#7fe070" opacity="0.42"/>
<circle cx="104.2" cy="678.6" r="1.90" fill="#7fe070" opacity="0.42"/>
<circle cx="122.9" cy="677.4" r="1.90" fill="#7fe070" opacity="0.42"/>
<circle cx="105.9" cy="666.0" r="1.90" fill="#7fe070" opacity="0.42"/>
<circle cx="122.0" cy="662.7" r="1.90" fill="#7fe070" opacity="0.42"/>
<circle cx="108.0" cy="676.2" r="1.90" fill="#7fe070" opacity="0.42"/>
<circle cx="113.5" cy="681.8" r="1.90" fill="#7fe070" opacity="0.42"/>
<circle cx="124.5" cy="674.5" r="1.90" fill="#7fe070" opacity="0.42"/>
<circle cx="125.8" cy="680.2" r="1.90" fill="#7fe070" opacity="0.42"/>
<circle cx="115.5" cy="660.8" r="1.90" fill="#7fe070" opacity="0.42"/>
<circle cx="123.1" cy="679.4" r="1.90" fill="#7fe070" opacity="0.42"/>
<circle cx="101.5" cy="681.1" r="1.90" fill="#7fe070" opacity="0.42"/>
<circle cx="121.8" cy="660.7" r="1.90" fill="#7fe070" opacity="0.42"/>
<circle cx="112.3" cy="671.8" r="1.90" fill="#7fe070" opacity="0.42"/>
<circle cx="125.9" cy="631.5" r="1.90" fill="#7fe070" opacity="0.42"/>
<circle cx="120.2" cy="675.1" r="1.90" fill="#7fe070" opacity="0.42"/>
<circle cx="125.0" cy="649.3" r="1.90" fill="#7fe070" opacity="0.42"/>
<circle cx="123.6" cy="678.2" r="1.90" fill="#7fe070" opacity="0.42"/>
<circle cx="110.3" cy="661.8" r="1.90" fill="#7fe070" opacity="0.42"/>
<circle cx="105.5" cy="676.9" r="1.90" fill="#7fe070" opacity="0.42"/>
<circle cx="117.1" cy="638.1" r="1.90" fill="#7fe070" opacity="0.42"/>
<circle cx="126.2" cy="679.8" r="1.90" fill="#7fe070" opacity="0.42"/>
<circle cx="116.1" cy="662.4" r="1.90" fill="#7fe070" opacity="0.42"/>
<circle cx="110.1" cy="679.3" r="1.90" fill="#7fe070" opacity="0.42"/>
<circle cx="121.5" cy="673.9" r="1.90" fill="#7fe070" opacity="0.42"/>
<circle cx="115.6" cy="678.3" r="1.90" fill="#7fe070" opacity="0.42"/>
<circle cx="110.9" cy="681.8" r="1.90" fill="#7fe070" opacity="0.42"/>
<circle cx="97.7" cy="680.4" r="1.90" fill="#7fe070" opacity="0.42"/>
<circle cx="124.1" cy="619.9" r="1.90" fill="#7fe070" opacity="0.42"/>
<circle cx="111.1" cy="680.3" r="1.90" fill="#7fe070" opacity="0.42"/>
<circle cx="108.7" cy="653.4" r="1.90" fill="#7fe070" opacity="0.42"/>
<circle cx="126.7" cy="668.9" r="1.90" fill="#7fe070" opacity="0.42"/>
<circle cx="112.5" cy="680.8" r="1.90" fill="#7fe070" opacity="0.42"/>
<circle cx="126.5" cy="676.7" r="1.90" fill="#7fe070" opacity="0.42"/>
<circle cx="100.2" cy="673.9" r="1.90" fill="#7fe070" opacity="0.42"/>
<circle cx="125.8" cy="679.0" r="1.90" fill="#7fe070" opacity="0.42"/>
<circle cx="116.2" cy="678.4" r="1.90" fill="#7fe070" opacity="0.42"/>
<circle cx="116.2" cy="663.5" r="1.90" fill="#7fe070" opacity="0.42"/>
<circle cx="117.3" cy="670.9" r="1.90" fill="#7fe070" opacity="0.42"/>
<circle cx="123.5" cy="662.2" r="1.90" fill="#7fe070" opacity="0.42"/>
<circle cx="123.3" cy="648.4" r="1.90" fill="#7fe070" opacity="0.42"/>
<circle cx="126.5" cy="672.1" r="1.90" fill="#7fe070" opacity="0.42"/>
<circle cx="123.2" cy="680.7" r="1.90" fill="#7fe070" opacity="0.42"/>
<circle cx="104.0" cy="681.2" r="1.90" fill="#7fe070" opacity="0.42"/>
<circle cx="121.0" cy="680.7" r="1.90" fill="#7fe070" opacity="0.42"/>
<circle cx="117.7" cy="678.1" r="1.90" fill="#7fe070" opacity="0.42"/>
<circle cx="125.6" cy="672.0" r="1.90" fill="#7fe070" opacity="0.42"/>
<circle cx="122.7" cy="674.5" r="1.90" fill="#7fe070" opacity="0.42"/>
<circle cx="123.0" cy="671.0" r="1.90" fill="#7fe070" opacity="0.42"/>
<circle cx="109.3" cy="681.7" r="1.90" fill="#7fe070" opacity="0.42"/>
<circle cx="119.4" cy="678.3" r="1.90" fill="#7fe070" opacity="0.42"/>
<circle cx="126.1" cy="644.0" r="1.90" fill="#7fe070" opacity="0.42"/>
<circle cx="107.6" cy="620.2" r="1.90" fill="#7fe070" opacity="0.42"/>
<circle cx="122.3" cy="628.0" r="1.90" fill="#7fe070" opacity="0.42"/>
<circle cx="121.2" cy="668.9" r="1.90" fill="#7fe070" opacity="0.42"/>
<circle cx="126.2" cy="644.8" r="1.90" fill="#7fe070" opacity="0.42"/>
<circle cx="117.7" cy="678.5" r="1.90" fill="#7fe070" opacity="0.42"/>
<circle cx="116.6" cy="633.7" r="1.90" fill="#7fe070" opacity="0.42"/>
<circle cx="121.0" cy="671.3" r="1.90" fill="#7fe070" opacity="0.42"/>
<circle cx="126.1" cy="671.6" r="1.90" fill="#7fe070" opacity="0.42"/>
<circle cx="121.0" cy="675.8" r="1.90" fill="#7fe070" opacity="0.42"/>
<circle cx="120.7" cy="674.5" r="1.90" fill="#7fe070" opacity="0.42"/>
<circle cx="105.6" cy="680.7" r="1.90" fill="#7fe070" opacity="0.42"/>
<circle cx="109.8" cy="679.3" r="1.90" fill="#7fe070" opacity="0.42"/>
<circle cx="125.1" cy="682.9" r="1.90" fill="#7fe070" opacity="0.42"/>
<circle cx="116.5" cy="682.6" r="1.90" fill="#7fe070" opacity="0.42"/>
<circle cx="112.1" cy="670.9" r="1.90" fill="#7fe070" opacity="0.42"/>
<circle cx="125.7" cy="678.0" r="1.90" fill="#7fe070" opacity="0.42"/>
<circle cx="108.3" cy="669.9" r="1.90" fill="#7fe070" opacity="0.42"/>
<circle cx="109.7" cy="680.1" r="1.90" fill="#7fe070" opacity="0.42"/>
<circle cx="113.5" cy="651.9" r="1.90" fill="#7fe070" opacity="0.42"/>
<circle cx="103.7" cy="645.8" r="1.90" fill="#7fe070" opacity="0.42"/>
<circle cx="118.6" cy="674.3" r="1.90" fill="#7fe070" opacity="0.42"/>
<circle cx="119.1" cy="678.2" r="1.90" fill="#7fe070" opacity="0.42"/>
<circle cx="121.4" cy="665.7" r="1.90" fill="#7fe070" opacity="0.42"/>
<circle cx="121.8" cy="678.4" r="1.90" fill="#7fe070" opacity="0.42"/>
<circle cx="123.2" cy="682.4" r="1.90" fill="#7fe070" opacity="0.42"/>
<circle cx="119.2" cy="679.0" r="1.90" fill="#7fe070" opacity="0.42"/>
<circle cx="123.7" cy="656.6" r="1.90" fill="#7fe070" opacity="0.42"/>
<circle cx="40.0" cy="641.5" r="1.50" fill="#9ccfa0" opacity="0.9"/>
<circle cx="213.0" cy="533.4" r="1.90" fill="#f08a84" opacity="0.42"/>
<circle cx="189.7" cy="564.4" r="1.90" fill="#f08a84" opacity="0.42"/>
<circle cx="149.2" cy="572.4" r="1.90" fill="#f08a84" opacity="0.42"/>
<circle cx="187.8" cy="572.4" r="1.90" fill="#f08a84" opacity="0.42"/>
<circle cx="190.2" cy="580.3" r="1.90" fill="#f08a84" opacity="0.42"/>
<circle cx="167.0" cy="585.4" r="1.90" fill="#f08a84" opacity="0.42"/>
<circle cx="160.7" cy="600.0" r="1.90" fill="#f08a84" opacity="0.42"/>
<circle cx="162.8" cy="601.6" r="1.90" fill="#f08a84" opacity="0.42"/>
<circle cx="180.5" cy="607.7" r="1.90" fill="#f08a84" opacity="0.42"/>
<circle cx="186.0" cy="608.6" r="1.90" fill="#f08a84" opacity="0.42"/>
<circle cx="161.9" cy="610.4" r="1.90" fill="#f08a84" opacity="0.42"/>
<circle cx="166.0" cy="609.9" r="1.90" fill="#f08a84" opacity="0.42"/>
<circle cx="169.6" cy="612.6" r="1.90" fill="#f08a84" opacity="0.42"/>
<circle cx="170.1" cy="617.7" r="1.90" fill="#f08a84" opacity="0.42"/>
<circle cx="207.9" cy="657.8" r="1.90" fill="#f08a84" opacity="0.42"/>
<circle cx="186.2" cy="654.2" r="1.90" fill="#f08a84" opacity="0.42"/>
<circle cx="178.4" cy="652.9" r="1.90" fill="#f08a84" opacity="0.42"/>
<circle cx="171.0" cy="653.5" r="1.90" fill="#f08a84" opacity="0.42"/>
<circle cx="166.5" cy="651.6" r="1.90" fill="#f08a84" opacity="0.42"/>
<circle cx="168.3" cy="642.3" r="1.90" fill="#f08a84" opacity="0.42"/>
<circle cx="162.5" cy="646.2" r="1.90" fill="#f08a84" opacity="0.42"/>
<circle cx="174.3" cy="635.2" r="1.90" fill="#f08a84" opacity="0.42"/>
<circle cx="179.6" cy="631.0" r="1.90" fill="#f08a84" opacity="0.42"/>
<circle cx="184.2" cy="628.3" r="1.90" fill="#f08a84" opacity="0.42"/>
<circle cx="174.3" cy="624.3" r="1.90" fill="#f08a84" opacity="0.42"/>
<circle cx="163.4" cy="632.5" r="1.90" fill="#f08a84" opacity="0.42"/>
<circle cx="155.2" cy="633.8" r="1.90" fill="#f08a84" opacity="0.42"/>
<circle cx="158.3" cy="626.5" r="1.90" fill="#f08a84" opacity="0.42"/>
<circle cx="167.0" cy="585.0" r="1.90" fill="#f08a84" opacity="0.42"/>
<circle cx="168.2" cy="673.8" r="1.90" fill="#f08a84" opacity="0.42"/>
<circle cx="158.3" cy="662.4" r="1.90" fill="#f08a84" opacity="0.42"/>
<circle cx="172.5" cy="678.3" r="1.90" fill="#f08a84" opacity="0.42"/>
<circle cx="147.0" cy="671.3" r="1.90" fill="#f08a84" opacity="0.42"/>
<circle cx="172.5" cy="670.8" r="1.90" fill="#f08a84" opacity="0.42"/>
<circle cx="150.5" cy="650.4" r="1.90" fill="#f08a84" opacity="0.42"/>
<circle cx="150.3" cy="679.0" r="1.90" fill="#f08a84" opacity="0.42"/>
<circle cx="157.4" cy="678.4" r="1.90" fill="#f08a84" opacity="0.42"/>
<circle cx="144.8" cy="624.0" r="1.90" fill="#f08a84" opacity="0.42"/>
<circle cx="149.9" cy="675.5" r="1.90" fill="#f08a84" opacity="0.42"/>
<circle cx="155.3" cy="663.0" r="1.90" fill="#f08a84" opacity="0.42"/>
<circle cx="155.7" cy="679.9" r="1.90" fill="#f08a84" opacity="0.42"/>
<circle cx="146.4" cy="651.1" r="1.90" fill="#f08a84" opacity="0.42"/>
<circle cx="160.4" cy="677.7" r="1.90" fill="#f08a84" opacity="0.42"/>
<circle cx="144.8" cy="672.1" r="1.90" fill="#f08a84" opacity="0.42"/>
<circle cx="161.4" cy="680.4" r="1.90" fill="#f08a84" opacity="0.42"/>
<circle cx="151.6" cy="678.1" r="1.90" fill="#f08a84" opacity="0.42"/>
<circle cx="165.9" cy="680.2" r="1.90" fill="#f08a84" opacity="0.42"/>
<circle cx="164.7" cy="680.4" r="1.90" fill="#f08a84" opacity="0.42"/>
<circle cx="159.7" cy="643.5" r="1.90" fill="#f08a84" opacity="0.42"/>
<circle cx="146.9" cy="682.0" r="1.90" fill="#f08a84" opacity="0.42"/>
<circle cx="145.5" cy="667.1" r="1.90" fill="#f08a84" opacity="0.42"/>
<circle cx="151.7" cy="672.1" r="1.90" fill="#f08a84" opacity="0.42"/>
<circle cx="164.9" cy="663.4" r="1.90" fill="#f08a84" opacity="0.42"/>
<circle cx="157.7" cy="647.3" r="1.90" fill="#f08a84" opacity="0.42"/>
<circle cx="153.5" cy="631.3" r="1.90" fill="#f08a84" opacity="0.42"/>
<circle cx="147.2" cy="673.6" r="1.90" fill="#f08a84" opacity="0.42"/>
<circle cx="168.8" cy="681.1" r="1.90" fill="#f08a84" opacity="0.42"/>
<circle cx="152.9" cy="682.8" r="1.90" fill="#f08a84" opacity="0.42"/>
<circle cx="153.9" cy="645.9" r="1.90" fill="#f08a84" opacity="0.42"/>
<circle cx="157.1" cy="648.7" r="1.90" fill="#f08a84" opacity="0.42"/>
<circle cx="151.5" cy="653.2" r="1.90" fill="#f08a84" opacity="0.42"/>
<circle cx="152.6" cy="680.8" r="1.90" fill="#f08a84" opacity="0.42"/>
<circle cx="156.0" cy="678.0" r="1.90" fill="#f08a84" opacity="0.42"/>
<circle cx="153.1" cy="653.7" r="1.90" fill="#f08a84" opacity="0.42"/>
<circle cx="157.5" cy="641.4" r="1.90" fill="#f08a84" opacity="0.42"/>
<circle cx="152.0" cy="681.7" r="1.90" fill="#f08a84" opacity="0.42"/>
<circle cx="146.5" cy="641.7" r="1.90" fill="#f08a84" opacity="0.42"/>
<circle cx="151.3" cy="661.7" r="1.90" fill="#f08a84" opacity="0.42"/>
<circle cx="147.9" cy="677.7" r="1.90" fill="#f08a84" opacity="0.42"/>
<circle cx="145.7" cy="669.6" r="1.90" fill="#f08a84" opacity="0.42"/>
<circle cx="155.6" cy="662.5" r="1.90" fill="#f08a84" opacity="0.42"/>
<circle cx="161.6" cy="665.3" r="1.90" fill="#f08a84" opacity="0.42"/>
<circle cx="153.1" cy="671.5" r="1.90" fill="#f08a84" opacity="0.42"/>
<circle cx="154.4" cy="682.9" r="1.90" fill="#f08a84" opacity="0.42"/>
<circle cx="162.9" cy="671.4" r="1.90" fill="#f08a84" opacity="0.42"/>
<circle cx="152.6" cy="664.1" r="1.90" fill="#f08a84" opacity="0.42"/>
<circle cx="160.9" cy="679.5" r="1.90" fill="#f08a84" opacity="0.42"/>
<circle cx="164.1" cy="678.3" r="1.90" fill="#f08a84" opacity="0.42"/>
<circle cx="149.9" cy="672.9" r="1.90" fill="#f08a84" opacity="0.42"/>
<circle cx="152.3" cy="673.5" r="1.90" fill="#f08a84" opacity="0.42"/>
<circle cx="146.8" cy="623.8" r="1.90" fill="#f08a84" opacity="0.42"/>
<circle cx="151.5" cy="658.9" r="1.90" fill="#f08a84" opacity="0.42"/>
<circle cx="149.7" cy="675.0" r="1.90" fill="#f08a84" opacity="0.42"/>
<circle cx="154.9" cy="680.6" r="1.90" fill="#f08a84" opacity="0.42"/>
<circle cx="161.5" cy="678.5" r="1.90" fill="#f08a84" opacity="0.42"/>
<circle cx="146.7" cy="682.4" r="1.90" fill="#f08a84" opacity="0.42"/>
<circle cx="153.5" cy="680.4" r="1.90" fill="#f08a84" opacity="0.42"/>
<circle cx="154.7" cy="681.6" r="1.90" fill="#f08a84" opacity="0.42"/>
<circle cx="151.4" cy="667.2" r="1.90" fill="#f08a84" opacity="0.42"/>
<circle cx="158.8" cy="675.1" r="1.90" fill="#f08a84" opacity="0.42"/>
<circle cx="150.1" cy="660.9" r="1.90" fill="#f08a84" opacity="0.42"/>
<circle cx="151.3" cy="671.1" r="1.90" fill="#f08a84" opacity="0.42"/>
<circle cx="147.5" cy="682.8" r="1.90" fill="#f08a84" opacity="0.42"/>
<circle cx="147.8" cy="674.7" r="1.90" fill="#f08a84" opacity="0.42"/>
<circle cx="147.1" cy="664.4" r="1.90" fill="#f08a84" opacity="0.42"/>
<circle cx="166.4" cy="664.8" r="1.90" fill="#f08a84" opacity="0.42"/>
<circle cx="153.1" cy="679.1" r="1.90" fill="#f08a84" opacity="0.42"/>
<circle cx="173.3" cy="656.7" r="1.90" fill="#f08a84" opacity="0.42"/>
<circle cx="147.5" cy="651.7" r="1.90" fill="#f08a84" opacity="0.42"/>
<circle cx="153.1" cy="666.4" r="1.90" fill="#f08a84" opacity="0.42"/>
<circle cx="158.4" cy="666.9" r="1.90" fill="#f08a84" opacity="0.42"/>
<circle cx="163.7" cy="679.1" r="1.90" fill="#f08a84" opacity="0.42"/>
<circle cx="158.8" cy="659.6" r="1.90" fill="#f08a84" opacity="0.42"/>
<circle cx="146.1" cy="677.3" r="1.90" fill="#f08a84" opacity="0.42"/>
<circle cx="145.8" cy="679.6" r="1.90" fill="#f08a84" opacity="0.42"/>
<circle cx="145.3" cy="661.4" r="1.90" fill="#f08a84" opacity="0.42"/>
<circle cx="153.0" cy="677.5" r="1.90" fill="#f08a84" opacity="0.42"/>
<circle cx="145.0" cy="660.5" r="1.90" fill="#f08a84" opacity="0.42"/>
<circle cx="147.0" cy="680.9" r="1.90" fill="#f08a84" opacity="0.42"/>
<circle cx="145.0" cy="633.5" r="1.90" fill="#f08a84" opacity="0.42"/>
<circle cx="151.1" cy="675.7" r="1.90" fill="#f08a84" opacity="0.42"/>
<circle cx="146.0" cy="669.7" r="1.90" fill="#f08a84" opacity="0.42"/>
<circle cx="149.8" cy="671.2" r="1.90" fill="#f08a84" opacity="0.42"/>
<circle cx="155.5" cy="677.7" r="1.90" fill="#f08a84" opacity="0.42"/>
<circle cx="149.3" cy="679.9" r="1.90" fill="#f08a84" opacity="0.42"/>
<circle cx="146.4" cy="681.4" r="1.90" fill="#f08a84" opacity="0.42"/>
<circle cx="157.3" cy="677.6" r="1.90" fill="#f08a84" opacity="0.42"/>
<circle cx="157.2" cy="654.6" r="1.90" fill="#f08a84" opacity="0.42"/>
<circle cx="146.2" cy="670.8" r="1.90" fill="#f08a84" opacity="0.42"/>
<circle cx="155.1" cy="679.3" r="1.90" fill="#f08a84" opacity="0.42"/>
<circle cx="158.0" cy="682.1" r="1.90" fill="#f08a84" opacity="0.42"/>
<circle cx="151.1" cy="680.1" r="1.90" fill="#f08a84" opacity="0.42"/>
<circle cx="148.8" cy="660.1" r="1.90" fill="#f08a84" opacity="0.42"/>
<circle cx="155.3" cy="678.4" r="1.90" fill="#f08a84" opacity="0.42"/>
<circle cx="150.8" cy="681.3" r="1.90" fill="#f08a84" opacity="0.42"/>
<circle cx="164.4" cy="667.1" r="1.90" fill="#f08a84" opacity="0.42"/>
<circle cx="151.2" cy="653.5" r="1.90" fill="#f08a84" opacity="0.42"/>
<circle cx="161.5" cy="654.6" r="1.90" fill="#f08a84" opacity="0.42"/>
<circle cx="145.4" cy="663.3" r="1.90" fill="#f08a84" opacity="0.42"/>
<circle cx="149.8" cy="668.0" r="1.90" fill="#f08a84" opacity="0.42"/>
<circle cx="149.6" cy="667.2" r="1.90" fill="#f08a84" opacity="0.42"/>
<circle cx="150.5" cy="681.0" r="1.90" fill="#f08a84" opacity="0.42"/>
<circle cx="150.4" cy="677.7" r="1.90" fill="#f08a84" opacity="0.42"/>
<circle cx="151.1" cy="673.1" r="1.90" fill="#f08a84" opacity="0.42"/>
<circle cx="162.7" cy="682.5" r="1.90" fill="#f08a84" opacity="0.42"/>
<circle cx="148.6" cy="659.7" r="1.90" fill="#f08a84" opacity="0.42"/>
<circle cx="146.5" cy="664.5" r="1.90" fill="#f08a84" opacity="0.42"/>
<circle cx="154.1" cy="661.7" r="1.90" fill="#f08a84" opacity="0.42"/>
<circle cx="163.3" cy="678.9" r="1.90" fill="#f08a84" opacity="0.42"/>
<circle cx="161.0" cy="676.3" r="1.90" fill="#f08a84" opacity="0.42"/>
<circle cx="149.4" cy="680.0" r="1.90" fill="#f08a84" opacity="0.42"/>
<circle cx="152.3" cy="678.4" r="1.90" fill="#f08a84" opacity="0.42"/>
<circle cx="147.6" cy="660.2" r="1.90" fill="#f08a84" opacity="0.42"/>
<circle cx="166.0" cy="625.1" r="1.90" fill="#f08a84" opacity="0.42"/>
<circle cx="147.5" cy="676.2" r="1.90" fill="#f08a84" opacity="0.42"/>
<circle cx="154.2" cy="659.9" r="1.90" fill="#f08a84" opacity="0.42"/>
<circle cx="159.5" cy="681.4" r="1.90" fill="#f08a84" opacity="0.42"/>
<circle cx="150.1" cy="682.2" r="1.90" fill="#f08a84" opacity="0.42"/>
<circle cx="151.3" cy="634.3" r="1.90" fill="#f08a84" opacity="0.42"/>
<circle cx="145.3" cy="644.9" r="1.90" fill="#f08a84" opacity="0.42"/>
<circle cx="152.1" cy="680.8" r="1.90" fill="#f08a84" opacity="0.42"/>
<circle cx="146.6" cy="670.2" r="1.90" fill="#f08a84" opacity="0.42"/>
<circle cx="155.5" cy="660.2" r="1.90" fill="#f08a84" opacity="0.42"/>
<circle cx="146.2" cy="669.4" r="1.90" fill="#f08a84" opacity="0.42"/>
<circle cx="145.6" cy="681.8" r="1.90" fill="#f08a84" opacity="0.42"/>
<circle cx="150.1" cy="674.2" r="1.90" fill="#f08a84" opacity="0.42"/>
<circle cx="153.4" cy="663.0" r="1.90" fill="#f08a84" opacity="0.42"/>
<circle cx="145.7" cy="678.5" r="1.90" fill="#f08a84" opacity="0.42"/>
<circle cx="150.2" cy="660.4" r="1.90" fill="#f08a84" opacity="0.42"/>
<circle cx="156.6" cy="656.3" r="1.90" fill="#f08a84" opacity="0.42"/>
<circle cx="153.4" cy="635.3" r="1.90" fill="#f08a84" opacity="0.42"/>
<circle cx="153.7" cy="633.7" r="1.90" fill="#f08a84" opacity="0.42"/>
<circle cx="148.7" cy="672.0" r="1.90" fill="#f08a84" opacity="0.42"/>
<circle cx="148.4" cy="664.7" r="1.90" fill="#f08a84" opacity="0.42"/>
<circle cx="147.9" cy="639.4" r="1.90" fill="#f08a84" opacity="0.42"/>
<circle cx="153.6" cy="665.5" r="1.90" fill="#f08a84" opacity="0.42"/>
<circle cx="154.0" cy="676.6" r="1.90" fill="#f08a84" opacity="0.42"/>
<circle cx="162.1" cy="656.3" r="1.90" fill="#f08a84" opacity="0.42"/>
<circle cx="152.7" cy="672.6" r="1.90" fill="#f08a84" opacity="0.42"/>
<circle cx="154.6" cy="681.3" r="1.90" fill="#f08a84" opacity="0.42"/>
<circle cx="153.7" cy="656.5" r="1.90" fill="#f08a84" opacity="0.42"/>
<circle cx="147.8" cy="680.5" r="1.90" fill="#f08a84" opacity="0.42"/>
<circle cx="148.2" cy="679.8" r="1.90" fill="#f08a84" opacity="0.42"/>
<circle cx="147.5" cy="669.3" r="1.90" fill="#f08a84" opacity="0.42"/>
<circle cx="172.0" cy="648.7" r="1.50" fill="#ee7a72" opacity="0.8"/>
<line x1="27.30" y1="683.10" x2="217.60" y2="683.10" stroke="#444" stroke-width="1.2"/>
<line x1="126.40" y1="516.50" x2="126.40" y2="683.00" stroke="#333" stroke-width="0.8" stroke-dasharray="1 0.9"/>
<line x1="144.60" y1="516.50" x2="144.60" y2="683.00" stroke="#333" stroke-width="0.8" stroke-dasharray="1 0.9"/>
<circle cx="38.5" cy="585.7" r="1.75" fill="#2e8f57"/>
<circle cx="109.3" cy="561.0" r="1.75" fill="#37c626"/>
<circle cx="109.8" cy="600.8" r="1.75" fill="#2e8f57"/>
<circle cx="116.0" cy="598.8" r="1.75" fill="#37c626"/>
<circle cx="105.6" cy="604.4" r="1.75" fill="#37c626"/>
<circle cx="118.4" cy="613.0" r="1.75" fill="#37c626"/>
<circle cx="121.1" cy="613.4" r="1.75" fill="#37c626"/>
<circle cx="116.2" cy="620.3" r="1.75" fill="#37c626"/>
<circle cx="119.9" cy="631.8" r="1.75" fill="#37c626"/>
<circle cx="90.7" cy="634.3" r="1.75" fill="#2e8f57"/>
<circle cx="112.6" cy="642.6" r="1.75" fill="#37c626"/>
<circle cx="125.1" cy="641.6" r="1.75" fill="#2e8f57"/>
<circle cx="96.1" cy="650.0" r="1.75" fill="#2e8f57"/>
<circle cx="110.7" cy="654.4" r="1.75" fill="#2e8f57"/>
<circle cx="116.0" cy="663.2" r="1.75" fill="#37c626"/>
<circle cx="113.3" cy="666.2" r="1.75" fill="#2e8f57"/>
<circle cx="116.6" cy="668.7" r="1.75" fill="#2e8f57"/>
<circle cx="109.3" cy="674.5" r="1.75" fill="#2e8f57"/>
<circle cx="118.8" cy="678.4" r="1.75" fill="#2e8f57"/>
<circle cx="123.5" cy="678.0" r="1.75" fill="#37c626"/>
<circle cx="123.9" cy="680.0" r="1.75" fill="#37c626"/>
<circle cx="122.6" cy="675.4" r="1.75" fill="#37c626"/>
<circle cx="120.8" cy="673.4" r="1.75" fill="#37c626"/>
<circle cx="151.2" cy="561.9" r="1.75" fill="#ff2a12"/>
<circle cx="207.2" cy="542.3" r="1.75" fill="#ff2a12"/>
<circle cx="183.8" cy="587.2" r="1.75" fill="#ff2a12"/>
<circle cx="189.9" cy="594.0" r="1.75" fill="#ff2a12"/>
<circle cx="199.3" cy="600.2" r="1.75" fill="#ff2a12"/>
<circle cx="154.1" cy="604.5" r="1.75" fill="#ff2a12"/>
<circle cx="152.7" cy="623.4" r="1.75" fill="#ff2a12"/>
<circle cx="178.2" cy="625.2" r="1.75" fill="#ff2a12"/>
<circle cx="149.4" cy="628.5" r="1.75" fill="#ff2a12"/>
<circle cx="151.2" cy="654.0" r="1.75" fill="#ff2a12"/>
<circle cx="145.8" cy="654.4" r="1.75" fill="#ff2a12"/>
<circle cx="147.0" cy="656.2" r="1.75" fill="#ff2a12"/>
<circle cx="146.2" cy="652.6" r="1.75" fill="#ff2a12"/>
<circle cx="147.8" cy="658.4" r="1.75" fill="#ff2a12"/>
<circle cx="164.4" cy="662.5" r="1.75" fill="#ff2a12"/>
<circle cx="150.7" cy="662.5" r="1.75" fill="#ff2a12"/>
<circle cx="147.2" cy="668.0" r="1.75" fill="#ff2a12"/>
<circle cx="151.2" cy="675.3" r="1.75" fill="#ff2a12"/>
<circle cx="146.6" cy="674.6" r="1.75" fill="#ff2a12"/>
<circle cx="147.6" cy="679.6" r="1.75" fill="#ff2a12"/>
<circle cx="146.4" cy="671.6" r="1.75" fill="#ff2a12"/>
<circle cx="149.0" cy="677.6" r="1.75" fill="#ff2a12"/>
<circle cx="146.0" cy="677.8" r="1.75" fill="#ff2a12"/>
<circle cx="148.4" cy="665.2" r="1.75" fill="#ff2a12"/>
<circle cx="146.2" cy="661.0" r="1.75" fill="#ff2a12"/>
<text x="41.40" y="587.20" font-size="4.4" font-weight="normal" font-style="normal" text-anchor="start" fill="#111">FAT-7</text>
<text x="106.60" y="562.50" font-size="4.4" font-weight="normal" font-style="normal" text-anchor="end" fill="#111">MMAA-1</text>
<text x="107.10" y="602.30" font-size="4.4" font-weight="normal" font-style="normal" text-anchor="end" fill="#111">ECH-6</text>
<text x="118.90" y="600.30" font-size="4.4" font-weight="normal" font-style="normal" text-anchor="start" fill="#111">MRPS-17</text>
<text x="102.90" y="605.90" font-size="4.4" font-weight="normal" font-style="normal" text-anchor="end" fill="#111">CTC-2</text>
<text x="115.70" y="614.50" font-size="4.4" font-weight="normal" font-style="normal" text-anchor="end" fill="#111">CTL-2</text>
<text x="124.00" y="614.90" font-size="4.4" font-weight="normal" font-style="normal" text-anchor="start" fill="#111">MEL-32</text>
<text x="113.50" y="621.80" font-size="4.4" font-weight="normal" font-style="normal" text-anchor="end" fill="#111">BCAT-1</text>
<text x="117.20" y="633.30" font-size="4.4" font-weight="normal" font-style="normal" text-anchor="end" fill="#111">ALH-8</text>
<text x="88.00" y="635.80" font-size="4.4" font-weight="normal" font-style="normal" text-anchor="end" fill="#111">VIT-5</text>
<text x="109.90" y="644.10" font-size="4.4" font-weight="normal" font-style="normal" text-anchor="end" fill="#111">HPHD-1</text>
<text x="93.40" y="651.50" font-size="4.4" font-weight="normal" font-style="normal" text-anchor="end" fill="#111">VIT-4</text>
<text x="108.00" y="655.90" font-size="4.4" font-weight="normal" font-style="normal" text-anchor="end" fill="#111">LIPL-5</text>
<text x="113.30" y="664.70" font-size="4.4" font-weight="normal" font-style="normal" text-anchor="end" fill="#111">UNG-1</text>
<text x="110.60" y="667.70" font-size="4.4" font-weight="normal" font-style="normal" text-anchor="end" fill="#111">VIT-1</text>
<text x="113.90" y="670.20" font-size="4.4" font-weight="normal" font-style="normal" text-anchor="end" fill="#111">VIT-2</text>
<text x="106.60" y="676.00" font-size="4.4" font-weight="normal" font-style="normal" text-anchor="end" fill="#111">NUAF-1</text>
<text x="154.90" y="563.40" font-size="4.4" font-weight="normal" font-style="normal" text-anchor="start" fill="#111">DRP-1</text>
<text x="210.10" y="543.80" font-size="4.4" font-weight="normal" font-style="normal" text-anchor="start" fill="#111">GPX-3</text>
<text x="186.70" y="588.70" font-size="4.4" font-weight="normal" font-style="normal" text-anchor="start" fill="#111">GST-6</text>
<text x="192.80" y="595.50" font-size="4.4" font-weight="normal" font-style="normal" text-anchor="start" fill="#111">COA-7</text>
<text x="202.20" y="601.70" font-size="4.4" font-weight="normal" font-style="normal" text-anchor="start" fill="#111">CTSA-4.1</text>
<text x="157.80" y="606.00" font-size="4.4" font-weight="normal" font-style="normal" text-anchor="start" fill="#111">TOMM-70</text>
<text x="155.60" y="624.90" font-size="4.4" font-weight="normal" font-style="normal" text-anchor="start" fill="#111">STL-1</text>
<text x="181.10" y="626.70" font-size="4.4" font-weight="normal" font-style="normal" text-anchor="start" fill="#111">FAAH-1</text>
<text x="154.10" y="655.50" font-size="4.4" font-weight="normal" font-style="normal" text-anchor="start" fill="#111">LRK-1</text>
<text x="152.20" y="660.50" font-size="4.4" font-weight="normal" font-style="normal" text-anchor="start" fill="#111">TIN-44</text>
<text x="167.30" y="664.00" font-size="4.4" font-weight="normal" font-style="normal" text-anchor="start" fill="#111">GBA-1</text>
<text x="154.90" y="676.80" font-size="4.4" font-weight="normal" font-style="normal" text-anchor="start" fill="#111">TUFM-1</text>
<text x="152.20" y="632.20" font-size="4.4" font-weight="normal" font-style="normal" text-anchor="start" fill="#111">RAD-8</text>
<text x="110.20" y="648.00" font-size="4.4" font-weight="normal" font-style="normal" text-anchor="start" fill="#111">CYC-2.1</text>
<text x="127.90" y="652.90" font-size="4.4" font-weight="normal" font-style="normal" text-anchor="start" fill="#111">DTMK-1</text>
<text x="148.10" y="651.60" font-size="4.4" font-weight="normal" font-style="normal" text-anchor="start" fill="#111">ACO-2</text>
<text x="127.90" y="657.00" font-size="4.4" font-weight="normal" font-style="normal" text-anchor="start" fill="#111">ATAD-3</text>
<text x="127.90" y="660.80" font-size="4.4" font-weight="normal" font-style="normal" text-anchor="start" fill="#111">PCCA-1</text>
<text x="147.60" y="665.40" font-size="4.4" font-weight="normal" font-style="normal" text-anchor="end" fill="#111">ANK-9</text>
<text x="145.80" y="670.00" font-size="4.4" font-weight="normal" font-style="normal" text-anchor="start" fill="#111">ALH-13</text>
<text x="153.00" y="673.20" font-size="4.4" font-weight="normal" font-style="normal" text-anchor="start" fill="#111">GRO-4</text>
<text x="109.60" y="676.30" font-size="4.4" font-weight="normal" font-style="normal" text-anchor="start" fill="#111">MRPL-1</text>
<text x="126.60" y="674.50" font-size="4.4" font-weight="normal" font-style="normal" text-anchor="start" fill="#111">CHCH-3</text>
<text x="126.60" y="677.90" font-size="4.4" font-weight="normal" font-style="normal" text-anchor="start" fill="#111">MRPS-35</text>
<text x="117.50" y="681.30" font-size="4.4" font-weight="normal" font-style="normal" text-anchor="end" fill="#111">ACOX-3</text>
<text x="126.60" y="681.50" font-size="4.4" font-weight="normal" font-style="normal" text-anchor="start" fill="#111">EAT-1</text>
<text x="147.60" y="680.90" font-size="4.4" font-weight="normal" font-style="normal" text-anchor="start" fill="#111">CLK-1</text>
<text x="134.50" y="685.50" font-size="4.4" font-weight="normal" font-style="normal" text-anchor="start" fill="#111">MPPA-1</text>
<text x="115.70" y="688.20" font-size="4.4" font-weight="normal" font-style="normal" text-anchor="start" fill="#111">DHS-3</text>
<line x1="27.30" y1="516.00" x2="27.30" y2="708.65" stroke="#2a2a2a" stroke-width="1.3"/>
<line x1="26.65" y1="707.60" x2="217.90" y2="707.60" stroke="#2a2a2a" stroke-width="1.3"/>
<line x1="23.30" y1="708.00" x2="27.30" y2="708.00" stroke="#2a2a2a" stroke-width="1.0"/>
<text x="22.20" y="710.30" font-size="6.4" font-weight="bold" font-style="normal" text-anchor="end" fill="#111">0</text>
<line x1="23.30" y1="669.70" x2="27.30" y2="669.70" stroke="#2a2a2a" stroke-width="1.0"/>
<text x="22.20" y="672.00" font-size="6.4" font-weight="bold" font-style="normal" text-anchor="end" fill="#111">2</text>
<line x1="23.30" y1="631.40" x2="27.30" y2="631.40" stroke="#2a2a2a" stroke-width="1.0"/>
<text x="22.20" y="633.70" font-size="6.4" font-weight="bold" font-style="normal" text-anchor="end" fill="#111">4</text>
<line x1="23.30" y1="593.10" x2="27.30" y2="593.10" stroke="#2a2a2a" stroke-width="1.0"/>
<text x="22.20" y="595.40" font-size="6.4" font-weight="bold" font-style="normal" text-anchor="end" fill="#111">6</text>
<line x1="23.30" y1="554.80" x2="27.30" y2="554.80" stroke="#2a2a2a" stroke-width="1.0"/>
<text x="22.20" y="557.10" font-size="6.4" font-weight="bold" font-style="normal" text-anchor="end" fill="#111">8</text>
<line x1="23.30" y1="516.50" x2="27.30" y2="516.50" stroke="#2a2a2a" stroke-width="1.0"/>
<text x="22.20" y="518.80" font-size="6.4" font-weight="bold" font-style="normal" text-anchor="end" fill="#111">10</text>
<line x1="81.40" y1="708.00" x2="81.40" y2="711.80" stroke="#2a2a2a" stroke-width="1.0"/>
<text x="80.40" y="718.20" font-size="6.4" font-weight="bold" font-style="normal" text-anchor="middle" fill="#111">-2</text>
<line x1="108.60" y1="708.00" x2="108.60" y2="711.80" stroke="#2a2a2a" stroke-width="1.0"/>
<text x="107.60" y="718.20" font-size="6.4" font-weight="bold" font-style="normal" text-anchor="middle" fill="#111">-1</text>
<line x1="135.80" y1="708.00" x2="135.80" y2="711.80" stroke="#2a2a2a" stroke-width="1.0"/>
<text x="135.80" y="718.20" font-size="6.4" font-weight="bold" font-style="normal" text-anchor="middle" fill="#111">0</text>
<line x1="163.00" y1="708.00" x2="163.00" y2="711.80" stroke="#2a2a2a" stroke-width="1.0"/>
<text x="163.00" y="718.20" font-size="6.4" font-weight="bold" font-style="normal" text-anchor="middle" fill="#111">1</text>
<line x1="190.20" y1="708.00" x2="190.20" y2="711.80" stroke="#2a2a2a" stroke-width="1.0"/>
<text x="190.20" y="718.20" font-size="6.4" font-weight="bold" font-style="normal" text-anchor="middle" fill="#111">2</text>
<line x1="217.40" y1="708.00" x2="217.40" y2="711.80" stroke="#2a2a2a" stroke-width="1.0"/>
<text x="217.40" y="718.20" font-size="6.4" font-weight="bold" font-style="normal" text-anchor="middle" fill="#111">3</text>
<text x="8.8" y="612.4" font-size="6.8" font-weight="bold" text-anchor="middle" fill="#111" transform="rotate(-90 8.8 612.4)">-Log<tspan font-size="4.4" dy="1.4">10</tspan><tspan dy="-1.4"> </tspan><tspan font-style="italic">P-value</tspan></text>
<text x="122" y="727.8" font-size="6.5" font-weight="bold" text-anchor="middle" fill="#111">Log<tspan font-size="4.2" dy="1.4">2</tspan><tspan dy="-1.4"> (fold chnage)</tspan></text>
<text x="259.50" y="494.70" font-size="15" font-weight="normal" font-style="normal" text-anchor="start" fill="#111">F</text>
<text x="349.4" y="509.4" font-size="6.4" font-weight="bold" text-anchor="middle" fill="#111"><tspan font-style="italic">wah-1(bon89)</tspan>-HT115 vs <tspan font-style="italic">wah-1(bon89)</tspan>-OP50</text>
<defs>
<filter id="tex" x="-10%" y="-10%" width="120%" height="120%">
<feTurbulence type="fractalNoise" baseFrequency="0.9" numOctaves="2" seed="4" result="n"/>
<feDisplacementMap in="SourceGraphic" in2="n" scale="2.4" xChannelSelector="R" yChannelSelector="G" result="d"/>
<feColorMatrix in="n" type="matrix" values="0 0 0 0 0 0 0 0 0 0 0 0 0 0 0 0 0 0 -1.1 0.68" result="sh"/>
<feComposite in="sh" in2="d" operator="in" result="s2"/>
<feMerge><feMergeNode in="d"/><feMergeNode in="s2"/></feMerge>
<feGaussianBlur stdDeviation="0.35"/>
</filter>
<clipPath id="fclip"><rect x="281.2" y="515.6" width="138.3" height="135.1"/></clipPath>
</defs>
<rect x="281.20" y="515.60" width="138.30" height="135.10" fill="#fcfcf4" stroke="none" stroke-width="1"/>
<g clip-path="url(#fclip)">
<path d="M281,544.5 C300,544.5 325,547 345,548.3 C365,548.8 385,545 400,543.6 L415,543 Q419.4,543 419.2,547 Q419.2,551 415,551 L400,551 C385,552.5 365,554.8 345,554.1 C325,553.4 300,550.5 281,550 Z" fill="#ecc98e"/>
<path d="M281,579.0 C290,577.8 298,577.6 310,579.0" fill="none" stroke="#df902c" stroke-width="4.4" stroke-linecap="round"/>
<path d="M338,573.8 C360,573.4 385,572.6 400,572.7 L414,573 Q419.4,573.4 419.2,577.2 Q419.2,581.2 414,581.5 L400,581.4 C385,581 360,579.6 338,578.4 Z" fill="#df902c"/>
<path d="M311,592 C300,598 293.6,608 294.4,620 C295.6,634 306,642.6 322,643.8 C338,645 353,638 357.4,627 C360.6,617 357,604 347,593" fill="none" stroke="#df902c" stroke-width="4.5" stroke-linecap="round"/>
<g filter="url(#tex)">
<ellipse cx="300.6" cy="538.6" rx="6.6" ry="7.0" fill="#3f86d8"/>
<ellipse cx="297.4" cy="536" rx="2.6" ry="3.4" fill="#37b8c4"/>
<ellipse cx="303.8" cy="534.6" rx="2.8" ry="2.4" fill="#4aa6e6"/>
<ellipse cx="304.6" cy="541.6" rx="2.2" ry="2.8" fill="#5a66d8"/>
<ellipse cx="336.8" cy="540.2" rx="6.2" ry="6.6" fill="#4389da"/>
<ellipse cx="333.2" cy="538.6" rx="2.2" ry="2.8" fill="#5a66d8"/>
<ellipse cx="339.6" cy="543.4" rx="2.4" ry="2.2" fill="#3fb0cc"/>
<path d="M305.5,544.5 L312,548.6 L320.5,547.8 L334,534.6 L331.6,530.4 L319.5,528.6 L312.5,536.6 Z" fill="#5acb35"/>
<path d="M304.4,541.6 L310.6,538.6 L316.6,542.6 L313.6,546.8 L307.6,546.4 Z" fill="#e4572a"/>
<path d="M322.6,532.4 L326.6,529.8 L335.2,533.8 L333.6,537.6 L327.6,535.2 Z" fill="#e4602c"/>
<path d="M311.6,544.6 L328.6,530.6" stroke="#c8d428" stroke-width="1.6" fill="none"/>
<path d="M315.6,546.6 L331.6,534.6" stroke="#3fb83a" stroke-width="1.8" fill="none"/>
<ellipse cx="316" cy="547.6" rx="2.4" ry="1.4" fill="#3fc86a"/>
<ellipse cx="329.6" cy="529.8" rx="2.2" ry="1.2" fill="#48d070"/>
</g>
<g filter="url(#tex)">
<path d="M354,572 C354,565 362,561.6 369,562.2 C372,556 374,549 378.6,547.2 C383,546.6 385.6,551.6 384.6,558 C389.6,560.6 390,568 387.6,573.6 C387.6,580.6 379.6,585.8 371.6,585.4 C363.6,586.4 354.6,580.8 354,572 Z" fill="#646466"/>
<ellipse cx="366" cy="570" rx="5" ry="3.4" fill="#727274"/>
<ellipse cx="378" cy="576" rx="5" ry="3.4" fill="#59595b"/>
</g>
<g filter="url(#tex)">
<path d="M305,573.4 C308,570.8 312,572.4 314.6,575.6 C319,580 330,580 335.6,575 C338,571.4 342.6,568.6 345.6,570.6 C347.6,574 344,579 340,582.6 C343,586 347,589.6 346.6,592.6 C343.6,595 338,592 333.6,588.4 C329,587.4 324,587.6 320,589.4 C316,593.6 311,596.4 308,594.6 C306,591 309.6,586.6 312.6,583.4 C309,580.6 304.4,577.6 305,573.4 Z" fill="#42ad3c"/>
</g>
<g filter="url(#tex)">
<path d="M355.6,603.6 C358,600 363.6,600.4 366,603.6 C369.6,607 369,612 370.6,617 C372.6,622 372.6,628 368.6,630.4 C364.6,631.6 361,628.6 360.6,624 C357.6,620 358.6,614.6 356.6,611 C354.6,608.6 354.4,605.6 355.6,603.6 Z" fill="#6eaaf0"/>
</g>
</g>
<rect x="281.20" y="515.60" width="138.30" height="135.10" fill="none" stroke="#6a7f8e" stroke-width="1.4"/>
<text x="298.40" y="527.30" font-size="8.0" font-weight="bold" font-style="normal" text-anchor="start" fill="#111">DRP-1</text>
<text x="307.00" y="569.50" font-size="8.2" font-weight="bold" font-style="normal" text-anchor="start" fill="#111">CHCH-3</text>
<text x="386.60" y="562.60" font-size="7.8" font-weight="bold" font-style="normal" text-anchor="start" fill="#111">ATAD-3</text>
<text x="372.00" y="616.10" font-size="7.8" font-weight="bold" font-style="normal" text-anchor="start" fill="#111">STL-1</text>
<text x="396.20" y="539.70" font-size="6.9" font-weight="normal" font-style="normal" text-anchor="start" fill="#222">MOM</text>
<text x="398.00" y="590.70" font-size="6.9" font-weight="normal" font-style="normal" text-anchor="start" fill="#222">MIM</text>
<text x="324.20" y="637.20" font-size="7.1" font-weight="normal" font-style="normal" text-anchor="start" fill="#222">cristae</text>
<line x1="311.30" y1="656.90" x2="437.50" y2="656.90" stroke="#222" stroke-width="0.8"/>
<line x1="263.30" y1="668.30" x2="437.50" y2="668.30" stroke="#222" stroke-width="0.8"/>
<line x1="263.30" y1="678.80" x2="437.50" y2="678.80" stroke="#222" stroke-width="0.8"/>
<line x1="263.30" y1="689.40" x2="437.50" y2="689.40" stroke="#222" stroke-width="0.8"/>
<line x1="263.30" y1="699.90" x2="437.50" y2="699.90" stroke="#222" stroke-width="0.8"/>
<line x1="263.30" y1="710.50" x2="437.50" y2="710.50" stroke="#222" stroke-width="0.8"/>
<line x1="263.30" y1="668.30" x2="263.30" y2="710.50" stroke="#222" stroke-width="0.8"/>
<line x1="311.30" y1="656.90" x2="311.30" y2="710.50" stroke="#222" stroke-width="0.8"/>
<line x1="379.50" y1="656.90" x2="379.50" y2="710.50" stroke="#222" stroke-width="0.8"/>
<line x1="437.50" y1="656.90" x2="437.50" y2="710.50" stroke="#222" stroke-width="0.8"/>
<text x="378.5" y="665.6999999999999" font-size="6.8" font-weight="bold" text-anchor="end" fill="#111">Log<tspan font-size="4" dy="1.2">2</tspan><tspan dy="-1.2"> (fold change)</tspan></text>
<text x="436.5" y="665.6999999999999" font-size="6.8" font-weight="bold" text-anchor="end" fill="#111">-Log<tspan font-size="4" dy="1.2">10</tspan><tspan dy="-1.2"> P</tspan><tspan font-size="4" dy="1.2">adj</tspan></text>
<text x="264.70" y="675.95" font-size="6.6" font-weight="bold" font-style="normal" text-anchor="start" fill="#111">STL-1</text>
<text x="378.50" y="675.95" font-size="6.7" font-weight="normal" font-style="normal" text-anchor="end" fill="#111">0.63226822</text>
<text x="436.50" y="675.95" font-size="6.7" font-weight="normal" font-style="normal" text-anchor="end" fill="#111">4.42074067</text>
<text x="264.70" y="686.50" font-size="6.6" font-weight="bold" font-style="normal" text-anchor="start" fill="#111">DRP-1</text>
<text x="378.50" y="686.50" font-size="6.7" font-weight="normal" font-style="normal" text-anchor="end" fill="#111">0.56462205</text>
<text x="436.50" y="686.50" font-size="6.7" font-weight="normal" font-style="normal" text-anchor="end" fill="#111">7.65109776</text>
<text x="264.70" y="697.05" font-size="6.6" font-weight="bold" font-style="normal" text-anchor="start" fill="#111">ATAD-3</text>
<text x="378.50" y="697.05" font-size="6.7" font-weight="normal" font-style="normal" text-anchor="end" fill="#111">0.34709867</text>
<text x="436.50" y="697.05" font-size="6.7" font-weight="normal" font-style="normal" text-anchor="end" fill="#111">2.65793376</text>
<text x="264.70" y="707.60" font-size="6.6" font-weight="bold" font-style="normal" text-anchor="start" fill="#111">CHCH-3</text>
<text x="378.50" y="707.60" font-size="6.7" font-weight="normal" font-style="normal" text-anchor="end" fill="#111">0.34369207</text>
<text x="436.50" y="707.60" font-size="6.7" font-weight="normal" font-style="normal" text-anchor="end" fill="#111">1.77206769</text>
<text x="454.00" y="494.70" font-size="15" font-weight="normal" font-style="normal" text-anchor="start" fill="#111">G</text>
<text x="533.80" y="520.40" font-size="7.8" font-weight="normal" font-style="italic" text-anchor="middle" fill="#222">drp-1(or1941[drp-1::GFP])</text>
<rect x="491.50" y="527.30" width="43.50" height="19.10" fill="#e7e7e7" stroke="#1f3864" stroke-width="1.0"/>
<rect x="536.40" y="527.30" width="41.20" height="19.10" fill="#a9d48e" stroke="#1f3864" stroke-width="1.0"/>
<circle cx="535.7" cy="537.2" r="0.80" fill="#111"/>
<text x="513.20" y="539.60" font-size="7.6" font-weight="normal" font-style="normal" text-anchor="middle" fill="#444">DRP-1</text>
<text x="557.00" y="539.60" font-size="7.6" font-weight="normal" font-style="normal" text-anchor="middle" fill="#38602a">GFP</text>
<text x="508.80" y="564.60" font-size="10.5" font-weight="normal" font-style="normal" text-anchor="middle" fill="#111">OP50</text>
<text x="563.40" y="564.60" font-size="10.5" font-weight="normal" font-style="normal" text-anchor="middle" fill="#111">HT115</text>
<line x1="483.00" y1="569.80" x2="535.00" y2="569.80" stroke="#222" stroke-width="0.8"/>
<line x1="538.00" y1="569.80" x2="589.00" y2="569.80" stroke="#222" stroke-width="0.8"/>
<clipPath id="gc0"><rect x="481.6" y="598.6" width="109.60" height="21.10"/></clipPath>
<rect x="481.60" y="598.60" width="109.60" height="21.10" fill="#cfcfcf" stroke="none" stroke-width="1"/>
<g clip-path="url(#gc0)">
<rect x="486.90" y="606.55" width="18.00" height="1.50" rx="0.75" fill="#000" opacity="0.5" filter="url(#b08)"/>
<rect x="515.20" y="607.20" width="16.00" height="1.60" rx="0.80" fill="#000" opacity="0.55" filter="url(#b08)"/>
<rect x="543.50" y="606.70" width="14.00" height="1.60" rx="0.80" fill="#000" opacity="0.6" filter="url(#b08)"/>
<rect x="567.60" y="607.10" width="18.00" height="2.80" rx="1.40" fill="#000" opacity="0.95" filter="url(#b08)"/>
<rect x="569.60" y="607.70" width="14.00" height="1.60" rx="0.80" fill="#000" opacity="0.9" filter="url(#b05)"/>
<rect x="568.60" y="613.70" width="16.00" height="2.60" rx="1.30" fill="#000" opacity="0.12" filter="url(#b12)"/>
<rect x="543.50" y="614.10" width="14.00" height="2.60" rx="1.30" fill="#000" opacity="0.1" filter="url(#b12)"/>
</g>
<rect x="481.60" y="598.60" width="109.60" height="21.10" fill="none" stroke="#222" stroke-width="0.8"/>
<clipPath id="gc1"><rect x="481.6" y="621.4" width="109.60" height="21.10"/></clipPath>
<rect x="481.60" y="621.40" width="109.60" height="21.10" fill="#d9d9d9" stroke="none" stroke-width="1"/>
<g clip-path="url(#gc1)">
<path d="M484,628.8 C500,631 515,631.4 535,630.6 C555,629.8 572,631.6 590,630.4" fill="none" stroke="#000" stroke-width="3.2" stroke-linecap="round" filter="url(#b08)"/>
<path d="M486,628.9 C500,631 515,631.4 535,630.6 C555,629.8 572,631.6 588,630.4" fill="none" stroke="#000" stroke-width="1.8" stroke-linecap="round" filter="url(#b05)"/>
</g>
<rect x="481.60" y="621.40" width="109.60" height="21.10" fill="none" stroke="#222" stroke-width="0.8"/>
<line x1="484.80" y1="645.20" x2="589.00" y2="645.20" stroke="#999" stroke-width="1.0"/>
<text x="479.80" y="596.60" font-size="10.3" font-weight="normal" font-style="normal" text-anchor="end" fill="#111">kDa</text>
<text x="479.80" y="614.10" font-size="10.3" font-weight="normal" font-style="normal" text-anchor="end" fill="#111">125-</text>
<text x="479.80" y="636.90" font-size="10.3" font-weight="normal" font-style="normal" text-anchor="end" fill="#111">43-</text>
<text x="596.40" y="613.80" font-size="10.3" font-weight="normal" font-style="normal" text-anchor="start" fill="#111">GFP</text>
<text x="596.40" y="636.60" font-size="10.3" font-weight="normal" font-style="normal" text-anchor="start" fill="#111">actin</text>
<text x="499.60" y="597.00" font-size="10.3" font-weight="normal" font-style="normal" text-anchor="start" fill="#111" transform="rotate(-35 499.60 597.00)">ctrl</text>
<text x="529.40" y="597.00" font-size="10.3" font-weight="normal" font-style="italic" text-anchor="start" fill="#111" transform="rotate(-33 529.40 597.00)">wah-1</text>
<text x="553.60" y="597.00" font-size="10.3" font-weight="normal" font-style="normal" text-anchor="start" fill="#111" transform="rotate(-35 553.60 597.00)">ctrl</text>
<text x="576.00" y="597.00" font-size="10.3" font-weight="normal" font-style="italic" text-anchor="start" fill="#111" transform="rotate(-33 576.00 597.00)">wah-1</text>
<text x="537.10" y="656.10" font-size="7.8" font-weight="normal" font-style="italic" text-anchor="middle" fill="#333">drp-1(or194[drp-1::GFP])</text>
<rect x="643.70" y="634.32" width="6.00" height="23.98" fill="#fff" stroke="#8a8a8a" stroke-width="0.5"/>
<rect x="651.00" y="633.12" width="6.40" height="25.18" fill="#fff" stroke="#f0807c" stroke-width="0.5"/>
<rect x="658.80" y="632.40" width="6.40" height="25.90" fill="#fff" stroke="#b0b0b0" stroke-width="0.5"/>
<rect x="666.60" y="609.14" width="6.40" height="49.16" fill="#fff" stroke="#f0807c" stroke-width="0.5"/>
<line x1="669.80" y1="621.13" x2="669.80" y2="595.47" stroke="#e8211d" stroke-width="0.6"/>
<line x1="668.40" y1="621.13" x2="671.20" y2="621.13" stroke="#e8211d" stroke-width="0.6"/>
<line x1="668.40" y1="595.47" x2="671.20" y2="595.47" stroke="#e8211d" stroke-width="0.6"/>
<circle cx="645.2" cy="634.3" r="1.00" fill="#111"/>
<circle cx="646.7" cy="634.3" r="1.00" fill="#111"/>
<circle cx="648.2" cy="634.3" r="1.00" fill="#111"/>
<circle cx="652.8" cy="633.8" r="0.90" fill="#fff" stroke="#e8211d" stroke-width="0.5"/>
<circle cx="654.2" cy="631.9" r="0.90" fill="#fff" stroke="#e8211d" stroke-width="0.5"/>
<circle cx="655.6" cy="633.8" r="0.90" fill="#fff" stroke="#e8211d" stroke-width="0.5"/>
<circle cx="662.0" cy="634.8" r="0.90" fill="#111"/>
<circle cx="662.0" cy="632.9" r="0.90" fill="#111"/>
<circle cx="662.0" cy="631.2" r="0.90" fill="#111"/>
<circle cx="669.8" cy="595.2" r="0.90" fill="#e8211d"/>
<circle cx="669.8" cy="612.7" r="0.90" fill="#e8211d"/>
<circle cx="669.8" cy="619.5" r="0.90" fill="#e8211d"/>
<line x1="642.60" y1="562.38" x2="642.60" y2="658.60" stroke="#333" stroke-width="0.8"/>
<line x1="642.30" y1="658.30" x2="674.20" y2="658.30" stroke="#333" stroke-width="0.8"/>
<line x1="640.60" y1="658.30" x2="642.60" y2="658.30" stroke="#333" stroke-width="0.6"/>
<text x="639.80" y="660.00" font-size="4.8" font-weight="bold" font-style="normal" text-anchor="end" fill="#222">0</text>
<line x1="640.60" y1="634.32" x2="642.60" y2="634.32" stroke="#333" stroke-width="0.6"/>
<text x="639.80" y="636.02" font-size="4.8" font-weight="bold" font-style="normal" text-anchor="end" fill="#222">1</text>
<line x1="640.60" y1="610.34" x2="642.60" y2="610.34" stroke="#333" stroke-width="0.6"/>
<text x="639.80" y="612.04" font-size="4.8" font-weight="bold" font-style="normal" text-anchor="end" fill="#222">2</text>
<line x1="640.60" y1="586.36" x2="642.60" y2="586.36" stroke="#333" stroke-width="0.6"/>
<text x="639.80" y="588.06" font-size="4.8" font-weight="bold" font-style="normal" text-anchor="end" fill="#222">3</text>
<line x1="640.60" y1="562.38" x2="642.60" y2="562.38" stroke="#333" stroke-width="0.6"/>
<text x="639.80" y="564.08" font-size="4.8" font-weight="bold" font-style="normal" text-anchor="end" fill="#222">4</text>
<line x1="646.70" y1="658.30" x2="646.70" y2="660.10" stroke="#333" stroke-width="0.6"/>
<text x="647.90" y="662.50" font-size="4.6" font-weight="normal" font-style="normal" text-anchor="end" fill="#000" transform="rotate(-45 647.90 662.50)">ctrl</text>
<line x1="654.20" y1="658.30" x2="654.20" y2="660.10" stroke="#333" stroke-width="0.6"/>
<text x="655.40" y="662.50" font-size="4.6" font-weight="normal" font-style="italic" text-anchor="end" fill="#000" transform="rotate(-45 655.40 662.50)">wah-1</text>
<line x1="662.00" y1="658.30" x2="662.00" y2="660.10" stroke="#333" stroke-width="0.6"/>
<text x="663.20" y="662.50" font-size="4.6" font-weight="normal" font-style="normal" text-anchor="end" fill="#000" transform="rotate(-45 663.20 662.50)">ctrl</text>
<line x1="669.80" y1="658.30" x2="669.80" y2="660.10" stroke="#333" stroke-width="0.6"/>
<text x="671.00" y="662.50" font-size="4.6" font-weight="normal" font-style="italic" text-anchor="end" fill="#000" transform="rotate(-45 671.00 662.50)">wah-1</text>
<text x="633.90" y="610.40" font-size="5.05" font-weight="bold" font-style="normal" text-anchor="middle" fill="#111" transform="rotate(-90 633.90 610.40)">Densitometry (DRP-1::GFP/actin)</text>
<text x="662.40" y="562.10" font-size="4.4" font-weight="normal" font-style="normal" text-anchor="middle" fill="#333">0.0086</text>
<line x1="654.60" y1="564.80" x2="670.10" y2="564.80" stroke="#222" stroke-width="0.7"/>
<text x="654.60" y="574.80" font-size="4.4" font-weight="normal" font-style="normal" text-anchor="middle" fill="#333">0.9967</text>
<line x1="646.80" y1="577.50" x2="662.00" y2="577.50" stroke="#999" stroke-width="0.7"/>
<text x="665.60" y="585.80" font-size="4.4" font-weight="normal" font-style="normal" text-anchor="middle" fill="#333">0.0082</text>
<line x1="662.40" y1="588.40" x2="669.70" y2="588.40" stroke="#222" stroke-width="0.7"/>
<text x="650.40" y="592.50" font-size="4.4" font-weight="normal" font-style="normal" text-anchor="middle" fill="#333">0.9951</text>
<line x1="646.80" y1="595.20" x2="654.60" y2="595.20" stroke="#444" stroke-width="0.7"/>
<line x1="642.60" y1="674.30" x2="657.00" y2="674.30" stroke="#333" stroke-width="0.6"/>
<line x1="658.80" y1="674.30" x2="673.00" y2="674.30" stroke="#333" stroke-width="0.6"/>
<text x="650.40" y="680.20" font-size="4.6" font-weight="bold" font-style="normal" text-anchor="middle" fill="#111">OP50</text>
<text x="665.90" y="680.20" font-size="4.6" font-weight="bold" font-style="normal" text-anchor="middle" fill="#111">HT115</text>
<text x="1.00" y="763.00" font-size="15" font-weight="normal" font-style="normal" text-anchor="start" fill="#111">H</text>
<text x="72.60" y="776.80" font-size="7.9" font-weight="normal" font-style="normal" text-anchor="middle" fill="#111">control (day 7)</text>
<text x="168.2" y="776.8" font-size="7.9" text-anchor="middle" fill="#111"><tspan font-style="italic">wah-1(bon89)</tspan> (day 8)</text>
<text x="19.00" y="829.00" font-size="10.4" font-weight="normal" font-style="normal" text-anchor="middle" fill="#111" transform="rotate(-90 19.00 829.00)">OP50</text>
<text x="19.00" y="924.00" font-size="10.4" font-weight="normal" font-style="normal" text-anchor="middle" fill="#111" transform="rotate(-90 19.00 924.00)">HT115</text>
<rect x="26.20" y="783.90" width="188.60" height="188.10" fill="#000" stroke="none" stroke-width="1"/>
<clipPath id="h1"><rect x="26.2" y="783.9" width="94.2" height="93.7"/></clipPath>
<clipPath id="h2"><rect x="120.4" y="783.9" width="94.4" height="93.7"/></clipPath>
<clipPath id="h3"><rect x="26.2" y="877.6" width="94.2" height="94.4"/></clipPath>
<clipPath id="h4"><rect x="120.4" y="877.6" width="94.4" height="94.4"/></clipPath>
<g clip-path="url(#h1)"><g filter="url(#g09)">
<ellipse cx="33.0" cy="788.0" rx="6.9" ry="2.8" fill="#38ee22" transform="rotate(8 33.0 788.0)"/>
<ellipse cx="66.0" cy="785.7" rx="6.1" ry="1.5" fill="#22b416" transform="rotate(8 66.0 785.7)"/>
<ellipse cx="78.3" cy="787.3" rx="9.2" ry="2.3" fill="#22b416" transform="rotate(8 78.3 787.3)"/>
<ellipse cx="96.7" cy="786.5" rx="6.1" ry="1.8" fill="#22b416" transform="rotate(8 96.7 786.5)"/>
<ellipse cx="113.6" cy="786.5" rx="3.1" ry="2.3" fill="#22b416" transform="rotate(8 113.6 786.5)"/>
<ellipse cx="50.7" cy="789.6" rx="3.8" ry="1.2" fill="#14780c" transform="rotate(8 50.7 789.6)"/>
<ellipse cx="36.9" cy="798.0" rx="9.2" ry="4.6" fill="#38ee22" transform="rotate(8 36.9 798.0)"/>
<ellipse cx="53.0" cy="794.9" rx="6.1" ry="1.8" fill="#22b416" transform="rotate(8 53.0 794.9)"/>
<ellipse cx="70.6" cy="794.9" rx="2.3" ry="2.3" fill="#38ee22" transform="rotate(8 70.6 794.9)"/>
<ellipse cx="92.1" cy="796.5" rx="7.7" ry="2.3" fill="#38ee22" transform="rotate(8 92.1 796.5)"/>
<ellipse cx="107.4" cy="799.2" rx="11.5" ry="2.8" fill="#38ee22" transform="rotate(12 107.4 799.2)"/>
<ellipse cx="118.2" cy="793.4" rx="2.3" ry="1.5" fill="#22b416" transform="rotate(8 118.2 793.4)"/>
<ellipse cx="30.7" cy="809.5" rx="5.4" ry="3.8" fill="#38ee22" transform="rotate(8 30.7 809.5)"/>
<ellipse cx="41.5" cy="811.8" rx="4.6" ry="1.8" fill="#22b416" transform="rotate(8 41.5 811.8)"/>
<ellipse cx="49.1" cy="811.8" rx="3.1" ry="2.3" fill="#38ee22" transform="rotate(8 49.1 811.8)"/>
<ellipse cx="62.2" cy="806.4" rx="6.9" ry="3.4" fill="#22b416" transform="rotate(8 62.2 806.4)"/>
<ellipse cx="59.1" cy="813.3" rx="4.6" ry="3.4" fill="#38ee22" transform="rotate(-35 59.1 813.3)"/>
<ellipse cx="87.5" cy="808.0" rx="7.7" ry="2.3" fill="#22b416" transform="rotate(8 87.5 808.0)"/>
<ellipse cx="102.8" cy="808.0" rx="9.2" ry="2.3" fill="#22b416" transform="rotate(8 102.8 808.0)"/>
<ellipse cx="115.1" cy="810.3" rx="4.6" ry="2.3" fill="#22b416" transform="rotate(8 115.1 810.3)"/>
<ellipse cx="76.7" cy="811.0" rx="3.8" ry="1.2" fill="#14780c" transform="rotate(8 76.7 811.0)"/>
<ellipse cx="36.9" cy="817.9" rx="4.6" ry="1.5" fill="#14780c" transform="rotate(8 36.9 817.9)"/>
<ellipse cx="55.3" cy="817.2" rx="6.1" ry="1.5" fill="#22b416" transform="rotate(8 55.3 817.2)"/>
<ellipse cx="78.3" cy="818.7" rx="6.1" ry="1.5" fill="#22b416" transform="rotate(8 78.3 818.7)"/>
<ellipse cx="90.6" cy="817.9" rx="6.1" ry="3.1" fill="#38ee22" transform="rotate(8 90.6 817.9)"/>
<ellipse cx="105.9" cy="817.2" rx="9.2" ry="1.8" fill="#22b416" transform="rotate(8 105.9 817.2)"/>
<ellipse cx="116.6" cy="819.5" rx="3.1" ry="1.5" fill="#22b416" transform="rotate(8 116.6 819.5)"/>
<ellipse cx="35.3" cy="824.8" rx="8.4" ry="2.3" fill="#38ee22" transform="rotate(8 35.3 824.8)"/>
<ellipse cx="43.0" cy="830.2" rx="4.6" ry="2.3" fill="#38ee22" transform="rotate(8 43.0 830.2)"/>
<ellipse cx="54.5" cy="829.4" rx="3.8" ry="1.8" fill="#38ee22" transform="rotate(8 54.5 829.4)"/>
<ellipse cx="69.1" cy="831.0" rx="7.4" ry="4.9" fill="#38ee22" transform="rotate(-30 69.1 831.0)"/>
<ellipse cx="66.0" cy="834.0" rx="4.6" ry="2.8" fill="#38ee22" transform="rotate(8 66.0 834.0)"/>
<ellipse cx="98.2" cy="828.7" rx="6.1" ry="3.1" fill="#38ee22" transform="rotate(8 98.2 828.7)"/>
<ellipse cx="98.2" cy="834.0" rx="2.1" ry="3.4" fill="#38ee22" transform="rotate(0 98.2 834.0)"/>
<ellipse cx="98.2" cy="837.9" rx="2.1" ry="1.5" fill="#22b416" transform="rotate(8 98.2 837.9)"/>
<ellipse cx="36.9" cy="837.9" rx="10.7" ry="1.5" fill="#14780c" transform="rotate(8 36.9 837.9)"/>
<ellipse cx="72.1" cy="843.3" rx="3.8" ry="2.8" fill="#38ee22" transform="rotate(8 72.1 843.3)"/>
<ellipse cx="62.9" cy="842.5" rx="4.6" ry="1.2" fill="#22b416" transform="rotate(8 62.9 842.5)"/>
<ellipse cx="90.6" cy="841.7" rx="3.1" ry="1.2" fill="#22b416" transform="rotate(8 90.6 841.7)"/>
<ellipse cx="50.7" cy="840.2" rx="4.6" ry="1.2" fill="#14780c" transform="rotate(8 50.7 840.2)"/>
<ellipse cx="35.3" cy="847.1" rx="12.3" ry="2.3" fill="#38ee22" transform="rotate(8 35.3 847.1)"/>
<ellipse cx="58.3" cy="847.9" rx="12.3" ry="1.8" fill="#22b416" transform="rotate(8 58.3 847.9)"/>
<ellipse cx="84.4" cy="847.1" rx="9.2" ry="1.5" fill="#22b416" transform="rotate(8 84.4 847.1)"/>
<ellipse cx="102.8" cy="846.3" rx="7.7" ry="1.8" fill="#22b416" transform="rotate(8 102.8 846.3)"/>
<ellipse cx="118.2" cy="844.8" rx="3.1" ry="3.1" fill="#22b416" transform="rotate(8 118.2 844.8)"/>
<ellipse cx="46.1" cy="850.9" rx="9.2" ry="1.8" fill="#22b416" transform="rotate(8 46.1 850.9)"/>
<ellipse cx="30.7" cy="850.2" rx="4.6" ry="3.1" fill="#38ee22" transform="rotate(8 30.7 850.2)"/>
<ellipse cx="105.9" cy="851.7" rx="4.6" ry="1.5" fill="#22b416" transform="rotate(8 105.9 851.7)"/>
<ellipse cx="66.8" cy="858.6" rx="6.9" ry="2.3" fill="#38ee22" transform="rotate(8 66.8 858.6)"/>
<ellipse cx="89.0" cy="858.6" rx="6.1" ry="2.3" fill="#38ee22" transform="rotate(8 89.0 858.6)"/>
<ellipse cx="107.4" cy="854.8" rx="4.6" ry="1.8" fill="#38ee22" transform="rotate(8 107.4 854.8)"/>
<ellipse cx="36.9" cy="861.7" rx="7.7" ry="1.5" fill="#22b416" transform="rotate(8 36.9 861.7)"/>
<ellipse cx="110.5" cy="863.2" rx="7.7" ry="1.5" fill="#14780c" transform="rotate(8 110.5 863.2)"/>
<ellipse cx="50.7" cy="857.8" rx="4.6" ry="1.2" fill="#14780c" transform="rotate(8 50.7 857.8)"/>
<ellipse cx="36.9" cy="869.3" rx="10.7" ry="1.8" fill="#22b416" transform="rotate(8 36.9 869.3)"/>
<ellipse cx="72.1" cy="871.6" rx="9.2" ry="1.8" fill="#22b416" transform="rotate(8 72.1 871.6)"/>
<ellipse cx="73.7" cy="867.0" rx="4.6" ry="1.2" fill="#14780c" transform="rotate(8 73.7 867.0)"/>
<ellipse cx="116.6" cy="873.2" rx="3.1" ry="2.3" fill="#14780c" transform="rotate(8 116.6 873.2)"/>
<ellipse cx="93.6" cy="868.6" rx="4.6" ry="1.2" fill="#14780c" transform="rotate(8 93.6 868.6)"/>
<ellipse cx="32.3" cy="874.7" rx="6.1" ry="1.2" fill="#14780c" transform="rotate(8 32.3 874.7)"/>
<path d="M61.4,784.5 L89.0,787.3 L105.9,786.7" fill="none" stroke="#22b416" stroke-width="1.84" stroke-linecap="round" stroke-linejoin="round"/>
<path d="M86.0,793.7 L101.3,798.0 L118.2,802.0" fill="none" stroke="#38ee22" stroke-width="3.07" stroke-linecap="round" stroke-linejoin="round"/>
<path d="M81.3,806.6 L99.8,808.1 L118.2,811.2" fill="none" stroke="#22b416" stroke-width="2.15" stroke-linecap="round" stroke-linejoin="round"/>
<path d="M84.4,817.3 L99.8,819.5 L118.2,820.4" fill="none" stroke="#22b416" stroke-width="2.15" stroke-linecap="round" stroke-linejoin="round"/>
<path d="M27.7,824.1 L46.1,825.9" fill="none" stroke="#38ee22" stroke-width="2.15" stroke-linecap="round" stroke-linejoin="round"/>
<path d="M39.9,829.6 L58.3,830.2" fill="none" stroke="#38ee22" stroke-width="2.15" stroke-linecap="round" stroke-linejoin="round"/>
<path d="M27.7,837.3 L47.6,839.4" fill="none" stroke="#14780c" stroke-width="1.53" stroke-linecap="round" stroke-linejoin="round"/>
<path d="M29.2,846.5 L50.7,848.6 L78.3,848.9 L93.6,847.1" fill="none" stroke="#38ee22" stroke-width="2.45" stroke-linecap="round" stroke-linejoin="round"/>
<path d="M87.5,846.5 L112.0,847.1" fill="none" stroke="#22b416" stroke-width="1.53" stroke-linecap="round" stroke-linejoin="round"/>
<path d="M29.2,851.1 L62.9,852.0" fill="none" stroke="#22b416" stroke-width="1.69" stroke-linecap="round" stroke-linejoin="round"/>
<path d="M27.7,860.9 L46.1,863.3" fill="none" stroke="#22b416" stroke-width="1.53" stroke-linecap="round" stroke-linejoin="round"/>
<path d="M102.8,862.4 L118.2,864.9" fill="none" stroke="#14780c" stroke-width="1.38" stroke-linecap="round" stroke-linejoin="round"/>
<path d="M29.2,868.6 L50.7,871.0" fill="none" stroke="#22b416" stroke-width="1.53" stroke-linecap="round" stroke-linejoin="round"/>
<path d="M62.9,871.0 L81.3,872.5" fill="none" stroke="#22b416" stroke-width="1.53" stroke-linecap="round" stroke-linejoin="round"/>
<path d="M29.2,802.6 L50.7,805.1" fill="none" stroke="#14780c" stroke-width="1.38" stroke-linecap="round" stroke-linejoin="round"/>
<path d="M58.3,821.0 L75.2,822.9" fill="none" stroke="#14780c" stroke-width="1.23" stroke-linecap="round" stroke-linejoin="round"/>
</g></g>
<g clip-path="url(#h2)"><g filter="url(#g09)">
<path d="M142.6,789.1 L165.6,793.1 L182.5,791.0 L200.9,792.2 L214.7,793.7" fill="none" stroke="#22b416" stroke-width="1.26" stroke-linecap="round" stroke-linejoin="round"/>
<ellipse cx="148.1" cy="790.1" rx="2.5" ry="0.9" fill="#22b416" transform="rotate(10 148.1 790.1)"/>
<ellipse cx="153.5" cy="791.0" rx="2.6" ry="0.9" fill="#22b416" transform="rotate(10 153.5 791.0)"/>
<ellipse cx="148.6" cy="790.1" rx="2.0" ry="1.1" fill="#22b416" transform="rotate(10 148.6 790.1)"/>
<ellipse cx="174.7" cy="791.9" rx="2.5" ry="0.9" fill="#38ee22" transform="rotate(-7 174.7 791.9)"/>
<ellipse cx="169.5" cy="792.6" rx="1.8" ry="1.0" fill="#22b416" transform="rotate(-7 169.5 792.6)"/>
<ellipse cx="178.1" cy="791.5" rx="2.8" ry="0.8" fill="#22b416" transform="rotate(-7 178.1 791.5)"/>
<ellipse cx="183.3" cy="791.0" rx="3.0" ry="1.0" fill="#22b416" transform="rotate(4 183.3 791.0)"/>
<ellipse cx="191.2" cy="791.5" rx="2.9" ry="1.0" fill="#22b416" transform="rotate(4 191.2 791.5)"/>
<ellipse cx="197.0" cy="791.9" rx="2.3" ry="1.0" fill="#22b416" transform="rotate(4 197.0 791.9)"/>
<ellipse cx="207.0" cy="792.9" rx="3.3" ry="1.0" fill="#38ee22" transform="rotate(6 207.0 792.9)"/>
<ellipse cx="201.4" cy="792.2" rx="2.4" ry="0.8" fill="#22b416" transform="rotate(6 201.4 792.2)"/>
<ellipse cx="201.7" cy="786.5" rx="2.3" ry="1.2" fill="#22b416" transform="rotate(4 201.7 786.5)"/>
<ellipse cx="128.8" cy="788.0" rx="3.1" ry="0.8" fill="#14780c" transform="rotate(4 128.8 788.0)"/>
<ellipse cx="176.3" cy="787.3" rx="4.6" ry="0.8" fill="#14780c" transform="rotate(4 176.3 787.3)"/>
<path d="M121.1,795.9 L134.9,796.5 L159.5,798.9" fill="none" stroke="#22b416" stroke-width="1.26" stroke-linecap="round" stroke-linejoin="round"/>
<ellipse cx="127.2" cy="796.1" rx="2.7" ry="0.8" fill="#22b416" transform="rotate(3 127.2 796.1)"/>
<ellipse cx="132.6" cy="796.4" rx="2.6" ry="0.9" fill="#22b416" transform="rotate(3 132.6 796.4)"/>
<ellipse cx="149.3" cy="797.9" rx="3.2" ry="1.0" fill="#38ee22" transform="rotate(6 149.3 797.9)"/>
<ellipse cx="156.0" cy="798.6" rx="3.4" ry="1.0" fill="#38ee22" transform="rotate(6 156.0 798.6)"/>
<ellipse cx="152.1" cy="798.2" rx="2.1" ry="0.9" fill="#22b416" transform="rotate(6 152.1 798.2)"/>
<path d="M165.6,799.5 L191.7,799.5 L213.2,802.9" fill="none" stroke="#22b416" stroke-width="1.76" stroke-linecap="round" stroke-linejoin="round"/>
<ellipse cx="180.5" cy="799.5" rx="2.8" ry="1.1" fill="#22b416" transform="rotate(0 180.5 799.5)"/>
<ellipse cx="172.6" cy="799.5" rx="1.8" ry="1.3" fill="#22b416" transform="rotate(0 172.6 799.5)"/>
<ellipse cx="191.4" cy="799.5" rx="1.7" ry="1.4" fill="#22b416" transform="rotate(0 191.4 799.5)"/>
<ellipse cx="189.0" cy="799.5" rx="1.6" ry="1.2" fill="#22b416" transform="rotate(0 189.0 799.5)"/>
<ellipse cx="210.4" cy="802.5" rx="1.6" ry="1.3" fill="#38ee22" transform="rotate(9 210.4 802.5)"/>
<ellipse cx="199.8" cy="800.8" rx="2.6" ry="1.3" fill="#22b416" transform="rotate(9 199.8 800.8)"/>
<ellipse cx="202.5" cy="801.2" rx="3.4" ry="1.2" fill="#38ee22" transform="rotate(9 202.5 801.2)"/>
<path d="M194.8,794.2 L214.7,796.5" fill="none" stroke="#14780c" stroke-width="0.88" stroke-linecap="round" stroke-linejoin="round"/>
<ellipse cx="196.9" cy="794.4" rx="2.5" ry="0.7" fill="#22b416" transform="rotate(7 196.9 794.4)"/>
<ellipse cx="214.1" cy="796.4" rx="2.1" ry="0.6" fill="#22b416" transform="rotate(7 214.1 796.4)"/>
<ellipse cx="208.5" cy="795.8" rx="3.3" ry="0.6" fill="#22b416" transform="rotate(7 208.5 795.8)"/>
<path d="M121.1,809.7 L138.0,807.8 L153.3,807.8 L168.7,811.2 L191.7,812.1 L214.7,812.7" fill="none" stroke="#22b416" stroke-width="2.26" stroke-linecap="round" stroke-linejoin="round"/>
<ellipse cx="127.2" cy="809.0" rx="1.8" ry="1.8" fill="#22b416" transform="rotate(-6 127.2 809.0)"/>
<ellipse cx="128.9" cy="808.8" rx="2.5" ry="1.7" fill="#22b416" transform="rotate(-6 128.9 808.8)"/>
<ellipse cx="132.6" cy="808.4" rx="1.7" ry="1.9" fill="#22b416" transform="rotate(-6 132.6 808.4)"/>
<ellipse cx="142.2" cy="807.8" rx="2.7" ry="1.8" fill="#22b416" transform="rotate(0 142.2 807.8)"/>
<ellipse cx="144.7" cy="807.8" rx="2.0" ry="1.5" fill="#22b416" transform="rotate(0 144.7 807.8)"/>
<ellipse cx="153.5" cy="807.9" rx="2.3" ry="1.7" fill="#38ee22" transform="rotate(12 153.5 807.9)"/>
<ellipse cx="159.1" cy="809.1" rx="2.6" ry="1.4" fill="#22b416" transform="rotate(12 159.1 809.1)"/>
<ellipse cx="183.1" cy="811.8" rx="2.4" ry="1.7" fill="#22b416" transform="rotate(2 183.1 811.8)"/>
<ellipse cx="182.7" cy="811.8" rx="2.0" ry="1.6" fill="#22b416" transform="rotate(2 182.7 811.8)"/>
<ellipse cx="170.1" cy="811.3" rx="2.8" ry="1.9" fill="#22b416" transform="rotate(2 170.1 811.3)"/>
<ellipse cx="206.1" cy="812.5" rx="2.1" ry="1.7" fill="#38ee22" transform="rotate(2 206.1 812.5)"/>
<ellipse cx="200.1" cy="812.3" rx="2.1" ry="1.6" fill="#22b416" transform="rotate(2 200.1 812.3)"/>
<ellipse cx="197.8" cy="812.3" rx="3.0" ry="1.4" fill="#38ee22" transform="rotate(2 197.8 812.3)"/>
<path d="M138.0,821.0 L154.9,821.0" fill="none" stroke="#22b416" stroke-width="1.13" stroke-linecap="round" stroke-linejoin="round"/>
<ellipse cx="154.4" cy="821.0" rx="2.8" ry="0.7" fill="#22b416" transform="rotate(0 154.4 821.0)"/>
<ellipse cx="141.8" cy="821.0" rx="3.0" ry="0.7" fill="#38ee22" transform="rotate(0 141.8 821.0)"/>
<ellipse cx="149.4" cy="821.0" rx="2.7" ry="0.7" fill="#22b416" transform="rotate(0 149.4 821.0)"/>
<path d="M122.7,823.5 L145.7,825.0 L161.0,828.1" fill="none" stroke="#22b416" stroke-width="1.13" stroke-linecap="round" stroke-linejoin="round"/>
<ellipse cx="130.1" cy="824.0" rx="2.1" ry="0.9" fill="#22b416" transform="rotate(4 130.1 824.0)"/>
<ellipse cx="141.3" cy="824.7" rx="3.3" ry="0.7" fill="#22b416" transform="rotate(4 141.3 824.7)"/>
<ellipse cx="137.6" cy="824.5" rx="3.2" ry="0.8" fill="#38ee22" transform="rotate(4 137.6 824.5)"/>
<ellipse cx="157.7" cy="827.4" rx="1.6" ry="1.0" fill="#22b416" transform="rotate(11 157.7 827.4)"/>
<ellipse cx="158.0" cy="827.5" rx="3.1" ry="0.7" fill="#22b416" transform="rotate(11 158.0 827.5)"/>
<ellipse cx="157.9" cy="824.1" rx="2.3" ry="2.3" fill="#38ee22" transform="rotate(0 157.9 824.1)"/>
<ellipse cx="162.5" cy="825.9" rx="2.3" ry="1.8" fill="#38ee22" transform="rotate(0 162.5 825.9)"/>
<ellipse cx="173.3" cy="826.4" rx="4.9" ry="2.1" fill="#38ee22" transform="rotate(0 173.3 826.4)"/>
<ellipse cx="167.1" cy="832.5" rx="2.3" ry="1.5" fill="#38ee22" transform="rotate(0 167.1 832.5)"/>
<ellipse cx="184.8" cy="824.1" rx="3.8" ry="1.4" fill="#22b416" transform="rotate(0 184.8 824.1)"/>
<ellipse cx="198.6" cy="827.9" rx="2.1" ry="2.1" fill="#38ee22" transform="rotate(0 198.6 827.9)"/>
<ellipse cx="204.7" cy="830.5" rx="4.6" ry="1.4" fill="#38ee22" transform="rotate(0 204.7 830.5)"/>
<path d="M121.1,829.6 L145.7,830.2 L161.0,832.7 L176.3,831.1 L194.8,833.3 L214.7,835.7" fill="none" stroke="#22b416" stroke-width="1.01" stroke-linecap="round" stroke-linejoin="round"/>
<ellipse cx="129.5" cy="829.8" rx="3.1" ry="0.6" fill="#22b416" transform="rotate(1 129.5 829.8)"/>
<ellipse cx="129.6" cy="829.8" rx="1.8" ry="0.7" fill="#22b416" transform="rotate(1 129.6 829.8)"/>
<ellipse cx="132.5" cy="829.9" rx="2.7" ry="0.7" fill="#22b416" transform="rotate(1 132.5 829.9)"/>
<ellipse cx="152.0" cy="831.2" rx="3.2" ry="0.6" fill="#38ee22" transform="rotate(9 152.0 831.2)"/>
<ellipse cx="153.0" cy="831.4" rx="3.1" ry="0.8" fill="#22b416" transform="rotate(9 153.0 831.4)"/>
<ellipse cx="167.7" cy="832.0" rx="3.3" ry="0.8" fill="#38ee22" transform="rotate(-6 167.7 832.0)"/>
<ellipse cx="161.5" cy="832.6" rx="2.4" ry="0.8" fill="#22b416" transform="rotate(-6 161.5 832.6)"/>
<ellipse cx="185.9" cy="832.2" rx="2.1" ry="0.7" fill="#38ee22" transform="rotate(7 185.9 832.2)"/>
<ellipse cx="192.2" cy="833.0" rx="3.1" ry="0.8" fill="#38ee22" transform="rotate(7 192.2 833.0)"/>
<ellipse cx="191.3" cy="832.9" rx="1.6" ry="0.8" fill="#22b416" transform="rotate(7 191.3 832.9)"/>
<ellipse cx="205.0" cy="834.5" rx="1.9" ry="0.8" fill="#22b416" transform="rotate(7 205.0 834.5)"/>
<ellipse cx="206.3" cy="834.7" rx="1.6" ry="0.8" fill="#38ee22" transform="rotate(7 206.3 834.7)"/>
<ellipse cx="204.8" cy="834.5" rx="2.0" ry="0.6" fill="#22b416" transform="rotate(7 204.8 834.5)"/>
<path d="M122.7,837.9 L145.7,839.4 L176.3,842.5 L194.8,847.1 L214.7,850.5" fill="none" stroke="#22b416" stroke-width="1.76" stroke-linecap="round" stroke-linejoin="round"/>
<ellipse cx="132.2" cy="838.5" rx="3.3" ry="1.3" fill="#22b416" transform="rotate(4 132.2 838.5)"/>
<ellipse cx="125.6" cy="838.1" rx="3.3" ry="1.3" fill="#38ee22" transform="rotate(4 125.6 838.1)"/>
<ellipse cx="130.8" cy="838.4" rx="1.9" ry="1.3" fill="#38ee22" transform="rotate(4 130.8 838.4)"/>
<ellipse cx="150.9" cy="839.9" rx="3.0" ry="1.5" fill="#38ee22" transform="rotate(6 150.9 839.9)"/>
<ellipse cx="170.9" cy="841.9" rx="1.5" ry="1.3" fill="#22b416" transform="rotate(6 170.9 841.9)"/>
<ellipse cx="147.2" cy="839.6" rx="2.0" ry="1.2" fill="#22b416" transform="rotate(6 147.2 839.6)"/>
<ellipse cx="161.6" cy="841.0" rx="1.6" ry="1.2" fill="#38ee22" transform="rotate(6 161.6 841.0)"/>
<ellipse cx="192.1" cy="846.4" rx="3.0" ry="1.1" fill="#38ee22" transform="rotate(14 192.1 846.4)"/>
<ellipse cx="177.6" cy="842.8" rx="3.3" ry="1.4" fill="#38ee22" transform="rotate(14 177.6 842.8)"/>
<ellipse cx="185.8" cy="844.9" rx="2.4" ry="1.1" fill="#38ee22" transform="rotate(14 185.8 844.9)"/>
<ellipse cx="201.8" cy="848.3" rx="2.7" ry="1.3" fill="#22b416" transform="rotate(10 201.8 848.3)"/>
<ellipse cx="200.0" cy="848.0" rx="3.4" ry="1.2" fill="#38ee22" transform="rotate(10 200.0 848.0)"/>
<ellipse cx="205.8" cy="849.0" rx="2.9" ry="1.2" fill="#38ee22" transform="rotate(10 205.8 849.0)"/>
<path d="M193.2,835.7 L207.0,839.4 L214.7,841.9" fill="none" stroke="#22b416" stroke-width="1.13" stroke-linecap="round" stroke-linejoin="round"/>
<ellipse cx="201.0" cy="837.8" rx="1.6" ry="0.8" fill="#22b416" transform="rotate(15 201.0 837.8)"/>
<ellipse cx="204.0" cy="838.6" rx="2.2" ry="0.9" fill="#22b416" transform="rotate(15 204.0 838.6)"/>
<ellipse cx="213.8" cy="841.6" rx="1.6" ry="0.9" fill="#22b416" transform="rotate(18 213.8 841.6)"/>
<path d="M121.1,848.6 L145.7,851.7 L165.6,851.1 L179.4,854.1 L200.9,858.7 L214.7,860.9" fill="none" stroke="#22b416" stroke-width="2.01" stroke-linecap="round" stroke-linejoin="round"/>
<ellipse cx="128.9" cy="849.6" rx="3.3" ry="1.4" fill="#38ee22" transform="rotate(7 128.9 849.6)"/>
<ellipse cx="127.1" cy="849.4" rx="2.5" ry="1.6" fill="#38ee22" transform="rotate(7 127.1 849.4)"/>
<ellipse cx="140.8" cy="851.1" rx="1.9" ry="1.3" fill="#38ee22" transform="rotate(7 140.8 851.1)"/>
<ellipse cx="164.3" cy="851.1" rx="2.2" ry="1.7" fill="#22b416" transform="rotate(-2 164.3 851.1)"/>
<ellipse cx="148.1" cy="851.6" rx="2.8" ry="1.7" fill="#22b416" transform="rotate(-2 148.1 851.6)"/>
<ellipse cx="158.9" cy="851.3" rx="3.2" ry="1.6" fill="#22b416" transform="rotate(-2 158.9 851.3)"/>
<ellipse cx="167.1" cy="851.4" rx="2.1" ry="1.5" fill="#22b416" transform="rotate(13 167.1 851.4)"/>
<ellipse cx="175.5" cy="853.3" rx="2.4" ry="1.3" fill="#22b416" transform="rotate(13 175.5 853.3)"/>
<ellipse cx="180.4" cy="854.3" rx="1.7" ry="1.3" fill="#22b416" transform="rotate(12 180.4 854.3)"/>
<ellipse cx="183.3" cy="855.0" rx="1.6" ry="1.6" fill="#38ee22" transform="rotate(12 183.3 855.0)"/>
<ellipse cx="180.0" cy="854.3" rx="1.7" ry="1.4" fill="#22b416" transform="rotate(12 180.0 854.3)"/>
<ellipse cx="214.0" cy="860.8" rx="2.6" ry="1.6" fill="#38ee22" transform="rotate(9 214.0 860.8)"/>
<ellipse cx="214.6" cy="860.9" rx="2.6" ry="1.5" fill="#38ee22" transform="rotate(9 214.6 860.9)"/>
<path d="M150.3,845.6 L161.0,848.6" fill="none" stroke="#14780c" stroke-width="1.01" stroke-linecap="round" stroke-linejoin="round"/>
<ellipse cx="151.4" cy="845.9" rx="2.9" ry="0.8" fill="#22b416" transform="rotate(16 151.4 845.9)"/>
<ellipse cx="150.9" cy="845.7" rx="2.1" ry="0.7" fill="#22b416" transform="rotate(16 150.9 845.7)"/>
<path d="M176.3,848.6 L200.9,851.1" fill="none" stroke="#22b416" stroke-width="1.13" stroke-linecap="round" stroke-linejoin="round"/>
<ellipse cx="196.7" cy="850.7" rx="2.0" ry="0.7" fill="#38ee22" transform="rotate(6 196.7 850.7)"/>
<ellipse cx="187.5" cy="849.7" rx="2.8" ry="0.9" fill="#22b416" transform="rotate(6 187.5 849.7)"/>
<ellipse cx="185.4" cy="849.5" rx="2.3" ry="0.8" fill="#22b416" transform="rotate(6 185.4 849.5)"/>
<path d="M122.7,859.7 L138.0,860.9 L154.9,865.5 L168.7,868.6 L179.4,867.0" fill="none" stroke="#22b416" stroke-width="1.38" stroke-linecap="round" stroke-linejoin="round"/>
<ellipse cx="137.5" cy="860.8" rx="2.2" ry="0.9" fill="#22b416" transform="rotate(5 137.5 860.8)"/>
<ellipse cx="135.6" cy="860.7" rx="3.3" ry="1.0" fill="#22b416" transform="rotate(5 135.6 860.7)"/>
<ellipse cx="150.8" cy="864.4" rx="2.8" ry="1.0" fill="#22b416" transform="rotate(15 150.8 864.4)"/>
<ellipse cx="140.6" cy="861.6" rx="2.3" ry="1.1" fill="#38ee22" transform="rotate(15 140.6 861.6)"/>
<ellipse cx="139.6" cy="861.3" rx="2.9" ry="1.1" fill="#22b416" transform="rotate(15 139.6 861.3)"/>
<ellipse cx="168.0" cy="868.4" rx="2.6" ry="1.1" fill="#38ee22" transform="rotate(13 168.0 868.4)"/>
<ellipse cx="158.6" cy="866.3" rx="1.9" ry="1.0" fill="#22b416" transform="rotate(13 158.6 866.3)"/>
<ellipse cx="178.7" cy="867.1" rx="3.1" ry="1.0" fill="#22b416" transform="rotate(-8 178.7 867.1)"/>
<ellipse cx="175.9" cy="867.5" rx="3.1" ry="1.0" fill="#22b416" transform="rotate(-8 175.9 867.5)"/>
<ellipse cx="184.0" cy="862.4" rx="5.4" ry="1.5" fill="#38ee22" transform="rotate(4 184.0 862.4)"/>
<ellipse cx="200.9" cy="862.4" rx="3.1" ry="2.1" fill="#22b416" transform="rotate(4 200.9 862.4)"/>
<ellipse cx="210.1" cy="863.2" rx="3.8" ry="1.5" fill="#22b416" transform="rotate(4 210.1 863.2)"/>
<ellipse cx="125.7" cy="864.7" rx="6.1" ry="2.8" fill="#22b416" transform="rotate(4 125.7 864.7)"/>
<ellipse cx="141.1" cy="875.5" rx="4.6" ry="1.2" fill="#14780c" transform="rotate(4 141.1 875.5)"/>
<ellipse cx="167.1" cy="866.3" rx="6.1" ry="2.1" fill="#38ee22" transform="rotate(4 167.1 866.3)"/>
<path d="M121.1,871.6 L145.7,873.2 L161.0,875.0" fill="none" stroke="#22b416" stroke-width="1.13" stroke-linecap="round" stroke-linejoin="round"/>
<ellipse cx="135.5" cy="872.5" rx="2.0" ry="0.7" fill="#38ee22" transform="rotate(4 135.5 872.5)"/>
<ellipse cx="127.7" cy="872.0" rx="3.0" ry="0.7" fill="#22b416" transform="rotate(4 127.7 872.0)"/>
<ellipse cx="130.0" cy="872.2" rx="2.1" ry="0.9" fill="#38ee22" transform="rotate(4 130.0 872.2)"/>
<ellipse cx="152.1" cy="873.9" rx="2.8" ry="0.9" fill="#38ee22" transform="rotate(7 152.1 873.9)"/>
<ellipse cx="152.9" cy="874.0" rx="3.1" ry="0.9" fill="#22b416" transform="rotate(7 152.9 874.0)"/>
<path d="M173.3,868.6 L194.8,871.0 L214.7,873.5" fill="none" stroke="#22b416" stroke-width="1.26" stroke-linecap="round" stroke-linejoin="round"/>
<ellipse cx="173.9" cy="868.6" rx="3.4" ry="0.8" fill="#22b416" transform="rotate(7 173.9 868.6)"/>
<ellipse cx="190.1" cy="870.5" rx="3.2" ry="0.8" fill="#38ee22" transform="rotate(7 190.1 870.5)"/>
<ellipse cx="192.4" cy="870.7" rx="2.7" ry="1.0" fill="#38ee22" transform="rotate(7 192.4 870.7)"/>
<ellipse cx="213.9" cy="873.4" rx="3.1" ry="0.8" fill="#38ee22" transform="rotate(7 213.9 873.4)"/>
<ellipse cx="210.2" cy="872.9" rx="1.8" ry="1.0" fill="#22b416" transform="rotate(7 210.2 872.9)"/>
<ellipse cx="211.9" cy="873.1" rx="3.2" ry="0.8" fill="#38ee22" transform="rotate(7 211.9 873.1)"/>
<path d="M124.2,816.4 L142.6,817.3 L154.9,816.4" fill="none" stroke="#14780c" stroke-width="1.07" stroke-linecap="round" stroke-linejoin="round"/>
<path d="M179.4,817.9 L197.8,819.8 L213.2,821.0" fill="none" stroke="#14780c" stroke-width="1.07" stroke-linecap="round" stroke-linejoin="round"/>
<path d="M124.2,844.0 L139.5,845.2" fill="none" stroke="#14780c" stroke-width="1.07" stroke-linecap="round" stroke-linejoin="round"/>
<path d="M184.0,798.0 L200.9,796.5" fill="none" stroke="#14780c" stroke-width="1.07" stroke-linecap="round" stroke-linejoin="round"/>
<path d="M153.3,860.9 L165.6,863.2" fill="none" stroke="#14780c" stroke-width="1.07" stroke-linecap="round" stroke-linejoin="round"/>
<path d="M194.8,867.0 L213.2,868.6" fill="none" stroke="#14780c" stroke-width="1.07" stroke-linecap="round" stroke-linejoin="round"/>
<path d="M124.2,802.6 L139.5,803.5" fill="none" stroke="#14780c" stroke-width="1.07" stroke-linecap="round" stroke-linejoin="round"/>
</g></g>
<g clip-path="url(#h3)"><g filter="url(#g07)">
<path d="M54.6,928.8 Q67.1,929.7 79.0,932.1" fill="none" stroke="#38ee22" stroke-width="1.37" stroke-linecap="round"/>
<path d="M74.7,894.1 Q83.4,897.4 90.1,898.0" fill="none" stroke="#14780c" stroke-width="1.46" stroke-linecap="round"/>
<path d="M72.9,913.1 Q78.8,913.5 88.3,917.6" fill="none" stroke="#38ee22" stroke-width="1.11" stroke-linecap="round"/>
<path d="M37.4,900.7 Q40.2,901.5 45.5,901.6" fill="none" stroke="#38ee22" stroke-width="1.39" stroke-linecap="round"/>
<path d="M75.2,923.0 Q85.2,929.4 94.7,926.7" fill="none" stroke="#38ee22" stroke-width="1.51" stroke-linecap="round"/>
<path d="M47.3,898.2 Q55.4,901.0 59.8,901.9" fill="none" stroke="#22b416" stroke-width="1.14" stroke-linecap="round"/>
<path d="M47.3,884.0 Q50.4,885.5 55.0,886.1" fill="none" stroke="#22b416" stroke-width="1.68" stroke-linecap="round"/>
<path d="M52.2,883.0 Q61.6,884.5 70.7,888.3" fill="none" stroke="#38ee22" stroke-width="1.26" stroke-linecap="round"/>
<path d="M13.4,911.4 Q26.0,918.2 35.7,921.9" fill="none" stroke="#22b416" stroke-width="1.18" stroke-linecap="round"/>
<path d="M71.8,918.4 Q77.0,919.3 82.4,921.8" fill="none" stroke="#14780c" stroke-width="1.31" stroke-linecap="round"/>
<path d="M10.4,959.9 Q20.7,959.3 35.8,957.0" fill="none" stroke="#38ee22" stroke-width="1.47" stroke-linecap="round"/>
<path d="M33.2,899.4 Q43.2,903.7 54.1,906.0" fill="none" stroke="#38ee22" stroke-width="1.12" stroke-linecap="round"/>
<path d="M39.3,936.8 Q44.5,938.8 47.2,938.1" fill="none" stroke="#38ee22" stroke-width="1.16" stroke-linecap="round"/>
<path d="M54.3,933.8 Q60.6,938.5 66.5,939.4" fill="none" stroke="#14780c" stroke-width="1.19" stroke-linecap="round"/>
<path d="M89.8,962.4 Q93.7,964.3 99.3,968.5" fill="none" stroke="#38ee22" stroke-width="1.14" stroke-linecap="round"/>
<path d="M62.2,900.2 Q71.6,903.3 83.0,904.6" fill="none" stroke="#38ee22" stroke-width="1.37" stroke-linecap="round"/>
<path d="M61.5,959.3 Q74.3,963.3 85.1,969.5" fill="none" stroke="#38ee22" stroke-width="1.25" stroke-linecap="round"/>
<path d="M107.8,897.1 Q111.5,899.2 115.7,898.2" fill="none" stroke="#38ee22" stroke-width="1.10" stroke-linecap="round"/>
<path d="M38.3,923.3 Q50.7,926.6 62.3,932.3" fill="none" stroke="#14780c" stroke-width="1.50" stroke-linecap="round"/>
<path d="M75.6,890.4 Q82.2,892.2 83.5,893.2" fill="none" stroke="#14780c" stroke-width="1.26" stroke-linecap="round"/>
<path d="M22.2,932.2 Q26.7,934.3 30.5,935.8" fill="none" stroke="#22b416" stroke-width="1.41" stroke-linecap="round"/>
<path d="M84.3,958.2 Q93.7,959.4 104.3,965.3" fill="none" stroke="#22b416" stroke-width="1.29" stroke-linecap="round"/>
<path d="M77.5,960.8 Q90.3,963.0 101.1,962.8" fill="none" stroke="#38ee22" stroke-width="1.48" stroke-linecap="round"/>
<path d="M55.3,879.3 Q60.2,880.4 64.1,880.8" fill="none" stroke="#22b416" stroke-width="1.61" stroke-linecap="round"/>
<path d="M86.6,929.8 Q93.7,932.4 101.6,934.9" fill="none" stroke="#38ee22" stroke-width="1.13" stroke-linecap="round"/>
<path d="M24.4,948.1 Q31.4,950.9 43.5,953.2" fill="none" stroke="#22b416" stroke-width="1.26" stroke-linecap="round"/>
<path d="M83.8,895.1 Q87.6,894.8 93.4,900.0" fill="none" stroke="#22b416" stroke-width="1.32" stroke-linecap="round"/>
<path d="M36.9,932.9 Q47.3,936.3 57.6,941.7" fill="none" stroke="#38ee22" stroke-width="1.31" stroke-linecap="round"/>
<path d="M74.3,907.9 Q79.5,909.3 84.5,908.2" fill="none" stroke="#22b416" stroke-width="1.58" stroke-linecap="round"/>
<path d="M21.7,920.8 Q34.6,921.1 46.2,923.7" fill="none" stroke="#38ee22" stroke-width="1.38" stroke-linecap="round"/>
<path d="M41.1,953.0 Q53.7,958.9 66.0,959.2" fill="none" stroke="#38ee22" stroke-width="1.49" stroke-linecap="round"/>
<path d="M76.7,927.4 Q85.1,931.3 94.9,934.2" fill="none" stroke="#22b416" stroke-width="1.22" stroke-linecap="round"/>
<path d="M27.1,882.2 Q37.3,881.8 46.2,884.3" fill="none" stroke="#38ee22" stroke-width="1.49" stroke-linecap="round"/>
<path d="M36.9,922.2 Q43.7,922.7 47.8,923.1" fill="none" stroke="#14780c" stroke-width="1.10" stroke-linecap="round"/>
<path d="M37.0,946.7 Q44.5,951.4 52.9,954.4" fill="none" stroke="#14780c" stroke-width="1.63" stroke-linecap="round"/>
<path d="M85.2,888.5 Q91.0,888.7 100.5,893.2" fill="none" stroke="#22b416" stroke-width="1.41" stroke-linecap="round"/>
<path d="M75.1,922.6 Q87.0,925.8 97.2,927.7" fill="none" stroke="#14780c" stroke-width="1.64" stroke-linecap="round"/>
<path d="M27.9,899.1 Q35.9,901.8 42.1,903.3" fill="none" stroke="#22b416" stroke-width="1.23" stroke-linecap="round"/>
<path d="M84.7,876.9 Q92.7,879.4 100.2,883.8" fill="none" stroke="#38ee22" stroke-width="1.21" stroke-linecap="round"/>
<path d="M103.0,916.9 Q105.1,917.9 110.8,919.8" fill="none" stroke="#38ee22" stroke-width="1.36" stroke-linecap="round"/>
<path d="M111.3,959.8 Q118.5,963.1 128.1,963.7" fill="none" stroke="#14780c" stroke-width="1.13" stroke-linecap="round"/>
<path d="M38.1,926.3 Q44.2,925.4 50.9,928.5" fill="none" stroke="#38ee22" stroke-width="1.39" stroke-linecap="round"/>
<path d="M102.3,897.1 Q110.0,901.6 119.2,907.9" fill="none" stroke="#38ee22" stroke-width="1.67" stroke-linecap="round"/>
<path d="M68.2,930.4 Q72.3,931.3 79.3,932.9" fill="none" stroke="#38ee22" stroke-width="1.30" stroke-linecap="round"/>
<path d="M62.9,884.3 Q74.1,883.4 87.3,881.6" fill="none" stroke="#38ee22" stroke-width="1.11" stroke-linecap="round"/>
<path d="M63.2,912.8 Q76.0,916.5 87.0,921.2" fill="none" stroke="#22b416" stroke-width="1.38" stroke-linecap="round"/>
<path d="M44.7,956.4 Q55.2,962.9 67.1,967.2" fill="none" stroke="#38ee22" stroke-width="1.64" stroke-linecap="round"/>
<path d="M31.8,949.1 Q35.9,951.5 39.3,952.1" fill="none" stroke="#14780c" stroke-width="1.25" stroke-linecap="round"/>
<path d="M84.6,900.5 Q93.0,902.6 101.4,902.3" fill="none" stroke="#14780c" stroke-width="1.19" stroke-linecap="round"/>
<path d="M67.1,918.1 Q73.0,920.0 81.5,920.1" fill="none" stroke="#38ee22" stroke-width="1.40" stroke-linecap="round"/>
<path d="M101.0,926.1 Q108.0,927.4 112.1,930.0" fill="none" stroke="#14780c" stroke-width="1.46" stroke-linecap="round"/>
<path d="M47.6,893.2 Q57.3,895.0 65.7,898.0" fill="none" stroke="#38ee22" stroke-width="1.62" stroke-linecap="round"/>
<path d="M25.9,897.9 Q36.6,901.6 46.1,904.0" fill="none" stroke="#14780c" stroke-width="1.15" stroke-linecap="round"/>
<path d="M58.0,941.3 Q62.6,944.0 65.9,942.6" fill="none" stroke="#22b416" stroke-width="1.14" stroke-linecap="round"/>
<path d="M63.8,946.5 Q71.2,949.3 80.1,950.9" fill="none" stroke="#38ee22" stroke-width="1.54" stroke-linecap="round"/>
<path d="M74.5,959.6 Q82.6,962.8 90.2,964.8" fill="none" stroke="#38ee22" stroke-width="1.59" stroke-linecap="round"/>
<path d="M114.9,961.5 Q119.9,961.9 122.6,966.9" fill="none" stroke="#22b416" stroke-width="1.31" stroke-linecap="round"/>
<path d="M58.9,909.5 Q63.1,912.9 69.7,913.5" fill="none" stroke="#38ee22" stroke-width="1.59" stroke-linecap="round"/>
<path d="M30.2,918.3 Q41.0,921.5 51.0,923.0" fill="none" stroke="#38ee22" stroke-width="1.27" stroke-linecap="round"/>
<path d="M20.5,951.3 Q33.7,954.6 42.0,961.5" fill="none" stroke="#38ee22" stroke-width="1.44" stroke-linecap="round"/>
<path d="M89.1,899.2 Q98.7,903.2 112.6,906.1" fill="none" stroke="#22b416" stroke-width="1.61" stroke-linecap="round"/>
<path d="M79.5,947.7 Q88.6,950.7 100.9,951.3" fill="none" stroke="#38ee22" stroke-width="1.56" stroke-linecap="round"/>
<path d="M42.3,881.4 Q52.1,889.2 62.1,894.9" fill="none" stroke="#14780c" stroke-width="1.26" stroke-linecap="round"/>
<path d="M38.7,914.5 Q45.3,917.0 49.2,918.1" fill="none" stroke="#22b416" stroke-width="1.47" stroke-linecap="round"/>
<path d="M79.5,943.0 Q91.1,948.9 102.2,955.0" fill="none" stroke="#22b416" stroke-width="1.38" stroke-linecap="round"/>
<path d="M92.8,937.8 Q96.6,939.6 100.5,939.3" fill="none" stroke="#22b416" stroke-width="1.41" stroke-linecap="round"/>
<path d="M80.2,952.9 Q83.5,956.5 89.2,953.9" fill="none" stroke="#38ee22" stroke-width="1.31" stroke-linecap="round"/>
<path d="M108.6,954.3 Q115.7,956.8 125.0,961.0" fill="none" stroke="#22b416" stroke-width="1.33" stroke-linecap="round"/>
<path d="M67.0,932.1 Q75.7,932.9 80.9,935.7" fill="none" stroke="#14780c" stroke-width="1.53" stroke-linecap="round"/>
<path d="M16.7,947.7 Q24.8,948.9 34.6,952.3" fill="none" stroke="#14780c" stroke-width="1.31" stroke-linecap="round"/>
<path d="M106.3,945.2 Q109.6,950.5 113.3,950.3" fill="none" stroke="#22b416" stroke-width="1.51" stroke-linecap="round"/>
<path d="M43.5,946.6 Q49.1,949.9 51.2,950.2" fill="none" stroke="#22b416" stroke-width="1.16" stroke-linecap="round"/>
<path d="M106.4,897.1 Q116.2,903.5 125.2,905.8" fill="none" stroke="#22b416" stroke-width="1.40" stroke-linecap="round"/>
<path d="M26.2,915.0 Q34.2,920.0 43.9,924.3" fill="none" stroke="#38ee22" stroke-width="1.49" stroke-linecap="round"/>
<path d="M47.7,943.2 Q59.0,948.4 68.8,951.5" fill="none" stroke="#38ee22" stroke-width="1.62" stroke-linecap="round"/>
<path d="M92.3,933.6 Q98.6,938.5 105.4,939.3" fill="none" stroke="#38ee22" stroke-width="1.50" stroke-linecap="round"/>
<path d="M36.0,901.9 Q41.0,904.0 46.9,907.2" fill="none" stroke="#14780c" stroke-width="1.10" stroke-linecap="round"/>
<path d="M21.4,902.1 Q28.5,903.4 36.5,905.5" fill="none" stroke="#38ee22" stroke-width="1.24" stroke-linecap="round"/>
<path d="M91.1,961.2 Q99.5,961.6 101.1,964.7" fill="none" stroke="#22b416" stroke-width="1.28" stroke-linecap="round"/>
<path d="M90.7,954.7 Q96.7,957.8 99.3,957.4" fill="none" stroke="#38ee22" stroke-width="1.59" stroke-linecap="round"/>
<path d="M87.0,917.3 Q97.8,921.3 107.8,922.3" fill="none" stroke="#38ee22" stroke-width="1.27" stroke-linecap="round"/>
<path d="M65.4,941.5 Q75.0,948.1 86.8,953.6" fill="none" stroke="#38ee22" stroke-width="1.36" stroke-linecap="round"/>
<path d="M46.6,928.4 Q53.5,926.4 62.2,929.4" fill="none" stroke="#38ee22" stroke-width="1.12" stroke-linecap="round"/>
<path d="M39.4,938.2 Q43.0,941.9 48.0,941.4" fill="none" stroke="#14780c" stroke-width="1.27" stroke-linecap="round"/>
<path d="M98.5,897.5 Q110.6,898.4 118.0,900.6" fill="none" stroke="#38ee22" stroke-width="1.64" stroke-linecap="round"/>
<path d="M106.7,959.7 Q114.2,961.8 121.0,966.2" fill="none" stroke="#22b416" stroke-width="1.21" stroke-linecap="round"/>
<path d="M109.1,941.8 Q117.7,948.1 124.0,950.3" fill="none" stroke="#38ee22" stroke-width="1.31" stroke-linecap="round"/>
<path d="M31.3,927.2 Q39.6,930.1 52.5,934.4" fill="none" stroke="#38ee22" stroke-width="1.18" stroke-linecap="round"/>
<path d="M20.7,916.9 Q30.9,921.5 42.8,924.6" fill="none" stroke="#22b416" stroke-width="1.67" stroke-linecap="round"/>
<path d="M81.8,951.5 Q83.9,952.2 90.2,954.3" fill="none" stroke="#38ee22" stroke-width="1.28" stroke-linecap="round"/>
<path d="M43.6,885.4 Q49.8,890.7 55.4,891.8" fill="none" stroke="#22b416" stroke-width="1.22" stroke-linecap="round"/>
<path d="M36.6,945.6 Q44.5,948.0 52.2,953.0" fill="none" stroke="#22b416" stroke-width="1.57" stroke-linecap="round"/>
<path d="M65.9,951.8 Q70.0,953.1 74.6,954.1" fill="none" stroke="#22b416" stroke-width="1.60" stroke-linecap="round"/>
<path d="M89.0,957.0 Q102.6,955.1 112.9,954.3" fill="none" stroke="#38ee22" stroke-width="1.30" stroke-linecap="round"/>
<path d="M12.6,884.4 Q23.6,890.0 35.5,893.7" fill="none" stroke="#14780c" stroke-width="1.18" stroke-linecap="round"/>
<path d="M37.0,915.1 Q43.2,917.9 48.6,920.9" fill="none" stroke="#22b416" stroke-width="1.52" stroke-linecap="round"/>
<path d="M41.6,887.4 Q51.3,894.8 63.2,899.1" fill="none" stroke="#38ee22" stroke-width="1.27" stroke-linecap="round"/>
<path d="M72.1,931.6 Q78.6,934.0 87.7,936.6" fill="none" stroke="#22b416" stroke-width="1.32" stroke-linecap="round"/>
<path d="M75.4,962.2 Q82.5,962.8 91.8,969.0" fill="none" stroke="#14780c" stroke-width="1.41" stroke-linecap="round"/>
<path d="M110.4,920.5 Q118.4,924.3 120.7,926.1" fill="none" stroke="#22b416" stroke-width="1.67" stroke-linecap="round"/>
<path d="M90.7,943.9 Q100.8,952.3 109.0,956.3" fill="none" stroke="#22b416" stroke-width="1.35" stroke-linecap="round"/>
<path d="M35.1,916.3 Q45.1,918.9 58.7,919.1" fill="none" stroke="#38ee22" stroke-width="1.23" stroke-linecap="round"/>
<path d="M98.2,922.6 Q107.0,925.6 116.0,930.2" fill="none" stroke="#38ee22" stroke-width="1.07" stroke-linecap="round"/>
<path d="M91.5,953.6 Q103.3,957.3 113.4,959.9" fill="none" stroke="#14780c" stroke-width="1.40" stroke-linecap="round"/>
<path d="M104.6,941.4 Q107.5,942.5 113.4,944.1" fill="none" stroke="#38ee22" stroke-width="1.33" stroke-linecap="round"/>
<path d="M94.5,895.5 Q102.2,898.0 111.4,900.7" fill="none" stroke="#22b416" stroke-width="1.27" stroke-linecap="round"/>
<path d="M49.7,926.6 Q61.8,930.8 74.8,933.6" fill="none" stroke="#14780c" stroke-width="1.32" stroke-linecap="round"/>
<path d="M99.5,937.8 Q101.9,940.6 107.0,940.4" fill="none" stroke="#38ee22" stroke-width="1.25" stroke-linecap="round"/>
<path d="M23.3,945.1 Q32.4,950.6 44.7,954.7" fill="none" stroke="#14780c" stroke-width="1.30" stroke-linecap="round"/>
<path d="M68.5,904.6 Q73.8,907.6 81.9,908.1" fill="none" stroke="#22b416" stroke-width="1.19" stroke-linecap="round"/>
<path d="M45.0,902.5 Q52.0,903.6 61.0,905.7" fill="none" stroke="#38ee22" stroke-width="1.13" stroke-linecap="round"/>
<path d="M83.4,942.2 Q86.6,945.6 93.7,945.9" fill="none" stroke="#38ee22" stroke-width="1.51" stroke-linecap="round"/>
<path d="M19.9,880.9 Q33.6,880.5 45.7,882.9" fill="none" stroke="#38ee22" stroke-width="1.16" stroke-linecap="round"/>
<path d="M34.0,887.5 Q40.2,892.9 51.8,897.5" fill="none" stroke="#38ee22" stroke-width="1.08" stroke-linecap="round"/>
<path d="M49.7,938.9 Q60.0,943.1 73.9,947.7" fill="none" stroke="#22b416" stroke-width="1.19" stroke-linecap="round"/>
<path d="M44.1,917.0 Q53.0,920.7 61.3,922.0" fill="none" stroke="#22b416" stroke-width="1.58" stroke-linecap="round"/>
<path d="M72.3,888.8 Q81.3,892.5 92.0,898.1" fill="none" stroke="#38ee22" stroke-width="1.43" stroke-linecap="round"/>
<path d="M108.2,938.8 Q119.3,943.8 130.9,949.1" fill="none" stroke="#14780c" stroke-width="1.20" stroke-linecap="round"/>
<path d="M22.3,899.1 Q30.1,902.6 40.0,903.7" fill="none" stroke="#22b416" stroke-width="1.62" stroke-linecap="round"/>
<path d="M60.9,944.6 Q65.4,945.3 72.6,947.5" fill="none" stroke="#38ee22" stroke-width="1.42" stroke-linecap="round"/>
<path d="M36.5,957.8 Q47.1,964.4 60.7,967.3" fill="none" stroke="#22b416" stroke-width="1.49" stroke-linecap="round"/>
<path d="M51.8,945.4 Q59.0,950.3 64.6,952.0" fill="none" stroke="#38ee22" stroke-width="1.35" stroke-linecap="round"/>
<path d="M50.5,946.4 Q62.0,951.0 73.6,955.4" fill="none" stroke="#22b416" stroke-width="1.45" stroke-linecap="round"/>
<path d="M79.6,949.0 Q84.7,949.3 90.2,949.3" fill="none" stroke="#38ee22" stroke-width="1.31" stroke-linecap="round"/>
<path d="M69.8,892.5 Q79.7,893.9 86.4,897.3" fill="none" stroke="#38ee22" stroke-width="1.52" stroke-linecap="round"/>
<path d="M91.7,912.2 Q100.1,916.8 106.7,919.8" fill="none" stroke="#38ee22" stroke-width="1.63" stroke-linecap="round"/>
<path d="M71.8,913.8 Q76.8,918.1 83.5,919.0" fill="none" stroke="#22b416" stroke-width="1.15" stroke-linecap="round"/>
<path d="M47.4,925.5 Q57.6,927.3 62.6,928.2" fill="none" stroke="#22b416" stroke-width="1.52" stroke-linecap="round"/>
<path d="M101.1,943.5 Q109.0,945.8 119.0,949.0" fill="none" stroke="#38ee22" stroke-width="1.59" stroke-linecap="round"/>
<path d="M34.2,955.9 Q45.9,959.3 58.8,962.6" fill="none" stroke="#38ee22" stroke-width="1.41" stroke-linecap="round"/>
<path d="M76.2,959.5 Q86.5,966.3 96.9,971.4" fill="none" stroke="#38ee22" stroke-width="1.33" stroke-linecap="round"/>
<path d="M90.4,897.2 Q98.5,898.1 111.4,901.4" fill="none" stroke="#38ee22" stroke-width="1.39" stroke-linecap="round"/>
<path d="M26.6,958.4 Q35.9,960.0 44.6,961.8" fill="none" stroke="#38ee22" stroke-width="1.11" stroke-linecap="round"/>
<path d="M102.3,952.0 Q108.5,955.4 116.8,955.9" fill="none" stroke="#38ee22" stroke-width="1.26" stroke-linecap="round"/>
<path d="M60.9,904.8 Q68.7,908.2 73.2,910.7" fill="none" stroke="#38ee22" stroke-width="1.25" stroke-linecap="round"/>
<ellipse cx="81.3" cy="902.7" rx="5.5" ry="2.5" fill="#58ff38" transform="rotate(15 81.3 902.7)"/>
<ellipse cx="70.6" cy="924.9" rx="6.1" ry="1.8" fill="#58ff38" transform="rotate(15 70.6 924.9)"/>
<ellipse cx="44.5" cy="921.1" rx="4.0" ry="1.8" fill="#38ee22" transform="rotate(15 44.5 921.1)"/>
<ellipse cx="53.7" cy="919.9" rx="1.8" ry="1.8" fill="#38ee22" transform="rotate(15 53.7 919.9)"/>
<ellipse cx="112.0" cy="947.2" rx="5.2" ry="3.1" fill="#38ee22" transform="rotate(15 112.0 947.2)"/>
<ellipse cx="47.6" cy="906.5" rx="5.5" ry="1.5" fill="#38ee22" transform="rotate(15 47.6 906.5)"/>
<ellipse cx="99.8" cy="908.8" rx="5.2" ry="2.1" fill="#22b416" transform="rotate(15 99.8 908.8)"/>
<ellipse cx="79.8" cy="929.1" rx="6.1" ry="2.5" fill="#22b416" transform="rotate(15 79.8 929.1)"/>
<ellipse cx="49.1" cy="952.5" rx="6.7" ry="1.5" fill="#58ff38" transform="rotate(15 49.1 952.5)"/>
<ellipse cx="84.4" cy="968.6" rx="4.0" ry="1.4" fill="#38ee22" transform="rotate(15 84.4 968.6)"/>
<ellipse cx="33.8" cy="891.9" rx="5.5" ry="1.5" fill="#38ee22" transform="rotate(15 33.8 891.9)"/>
<ellipse cx="115.1" cy="933.3" rx="3.4" ry="1.8" fill="#38ee22" transform="rotate(15 115.1 933.3)"/>
<ellipse cx="35.3" cy="902.7" rx="4.0" ry="1.4" fill="#38ee22" transform="rotate(15 35.3 902.7)"/>
</g></g>
<g clip-path="url(#h4)"><g filter="url(#g09)">
<ellipse cx="194.8" cy="882.7" rx="10.7" ry="1.8" fill="#22b416" transform="rotate(10 194.8 882.7)"/>
<ellipse cx="200.9" cy="888.1" rx="13.8" ry="1.8" fill="#22b416" transform="rotate(10 200.9 888.1)"/>
<ellipse cx="208.6" cy="891.2" rx="6.1" ry="1.8" fill="#22b416" transform="rotate(10 208.6 891.2)"/>
<ellipse cx="165.6" cy="885.0" rx="3.8" ry="0.9" fill="#14780c" transform="rotate(10 165.6 885.0)"/>
<ellipse cx="179.4" cy="878.9" rx="4.6" ry="1.5" fill="#22b416" transform="rotate(10 179.4 878.9)"/>
<ellipse cx="145.7" cy="878.4" rx="6.1" ry="1.2" fill="#14780c" transform="rotate(10 145.7 878.4)"/>
<ellipse cx="130.3" cy="878.9" rx="6.1" ry="0.9" fill="#14780c" transform="rotate(10 130.3 878.9)"/>
<ellipse cx="122.7" cy="891.9" rx="1.5" ry="1.8" fill="#22b416" transform="rotate(10 122.7 891.9)"/>
<ellipse cx="133.4" cy="895.0" rx="3.4" ry="2.8" fill="#22b416" transform="rotate(10 133.4 895.0)"/>
<ellipse cx="144.9" cy="897.3" rx="2.8" ry="2.3" fill="#22b416" transform="rotate(10 144.9 897.3)"/>
<ellipse cx="154.1" cy="896.5" rx="4.6" ry="3.4" fill="#22b416" transform="rotate(10 154.1 896.5)"/>
<ellipse cx="165.6" cy="894.2" rx="2.3" ry="1.5" fill="#22b416" transform="rotate(10 165.6 894.2)"/>
<ellipse cx="125.7" cy="901.1" rx="2.3" ry="2.0" fill="#22b416" transform="rotate(10 125.7 901.1)"/>
<ellipse cx="148.0" cy="903.4" rx="2.3" ry="1.5" fill="#14780c" transform="rotate(10 148.0 903.4)"/>
<ellipse cx="154.1" cy="902.7" rx="3.4" ry="2.8" fill="#22b416" transform="rotate(10 154.1 902.7)"/>
<ellipse cx="162.5" cy="903.4" rx="4.3" ry="3.8" fill="#58ff38" transform="rotate(10 162.5 903.4)"/>
<ellipse cx="175.6" cy="901.9" rx="4.3" ry="3.4" fill="#22b416" transform="rotate(10 175.6 901.9)"/>
<ellipse cx="181.0" cy="900.4" rx="2.3" ry="2.3" fill="#22b416" transform="rotate(10 181.0 900.4)"/>
<ellipse cx="188.6" cy="899.6" rx="4.6" ry="3.1" fill="#22b416" transform="rotate(10 188.6 899.6)"/>
<ellipse cx="196.3" cy="905.0" rx="2.3" ry="1.8" fill="#22b416" transform="rotate(10 196.3 905.0)"/>
<ellipse cx="208.6" cy="904.2" rx="3.1" ry="1.5" fill="#22b416" transform="rotate(10 208.6 904.2)"/>
<ellipse cx="186.3" cy="908.8" rx="2.8" ry="2.3" fill="#22b416" transform="rotate(10 186.3 908.8)"/>
<ellipse cx="211.6" cy="911.1" rx="3.8" ry="3.1" fill="#22b416" transform="rotate(10 211.6 911.1)"/>
<ellipse cx="124.2" cy="911.1" rx="2.8" ry="1.8" fill="#22b416" transform="rotate(10 124.2 911.1)"/>
<ellipse cx="144.9" cy="913.4" rx="4.3" ry="2.8" fill="#22b416" transform="rotate(10 144.9 913.4)"/>
<ellipse cx="154.1" cy="914.2" rx="4.3" ry="3.4" fill="#38ee22" transform="rotate(10 154.1 914.2)"/>
<ellipse cx="137.2" cy="916.5" rx="2.3" ry="1.2" fill="#14780c" transform="rotate(10 137.2 916.5)"/>
<ellipse cx="163.3" cy="911.9" rx="3.1" ry="1.8" fill="#14780c" transform="rotate(10 163.3 911.9)"/>
<ellipse cx="186.3" cy="917.2" rx="4.6" ry="3.1" fill="#22b416" transform="rotate(10 186.3 917.2)"/>
<ellipse cx="197.1" cy="917.2" rx="2.8" ry="2.3" fill="#22b416" transform="rotate(10 197.1 917.2)"/>
<ellipse cx="161.0" cy="921.1" rx="4.6" ry="3.1" fill="#14780c" transform="rotate(10 161.0 921.1)"/>
<ellipse cx="181.7" cy="922.6" rx="6.1" ry="2.8" fill="#38ee22" transform="rotate(10 181.7 922.6)"/>
<ellipse cx="190.2" cy="924.9" rx="2.3" ry="1.8" fill="#22b416" transform="rotate(10 190.2 924.9)"/>
<ellipse cx="200.1" cy="924.1" rx="5.4" ry="3.4" fill="#38ee22" transform="rotate(10 200.1 924.1)"/>
<ellipse cx="210.1" cy="924.9" rx="3.1" ry="2.3" fill="#38ee22" transform="rotate(10 210.1 924.9)"/>
<ellipse cx="213.2" cy="919.5" rx="1.5" ry="2.3" fill="#22b416" transform="rotate(10 213.2 919.5)"/>
<ellipse cx="125.0" cy="925.7" rx="1.8" ry="1.5" fill="#22b416" transform="rotate(10 125.0 925.7)"/>
<ellipse cx="126.5" cy="929.5" rx="2.8" ry="2.3" fill="#22b416" transform="rotate(10 126.5 929.5)"/>
<ellipse cx="132.6" cy="928.7" rx="3.8" ry="3.1" fill="#22b416" transform="rotate(10 132.6 928.7)"/>
<ellipse cx="138.8" cy="932.6" rx="4.6" ry="3.1" fill="#38ee22" transform="rotate(10 138.8 932.6)"/>
<ellipse cx="147.2" cy="928.7" rx="2.8" ry="1.8" fill="#22b416" transform="rotate(10 147.2 928.7)"/>
<ellipse cx="147.2" cy="932.6" rx="3.1" ry="1.5" fill="#22b416" transform="rotate(10 147.2 932.6)"/>
<ellipse cx="169.4" cy="928.0" rx="3.8" ry="2.3" fill="#22b416" transform="rotate(10 169.4 928.0)"/>
<ellipse cx="174.0" cy="930.3" rx="2.3" ry="1.8" fill="#22b416" transform="rotate(10 174.0 930.3)"/>
<ellipse cx="165.6" cy="934.1" rx="8.4" ry="3.1" fill="#22b416" transform="rotate(10 165.6 934.1)"/>
<ellipse cx="197.8" cy="934.9" rx="2.8" ry="2.3" fill="#22b416" transform="rotate(10 197.8 934.9)"/>
<ellipse cx="200.9" cy="929.5" rx="1.5" ry="1.5" fill="#22b416" transform="rotate(10 200.9 929.5)"/>
<ellipse cx="183.3" cy="939.5" rx="6.1" ry="1.8" fill="#22b416" transform="rotate(10 183.3 939.5)"/>
<ellipse cx="193.2" cy="943.3" rx="4.6" ry="2.3" fill="#38ee22" transform="rotate(10 193.2 943.3)"/>
<ellipse cx="207.0" cy="943.3" rx="4.6" ry="2.8" fill="#22b416" transform="rotate(10 207.0 943.3)"/>
<ellipse cx="208.6" cy="937.2" rx="2.3" ry="1.5" fill="#14780c" transform="rotate(10 208.6 937.2)"/>
<ellipse cx="135.7" cy="944.9" rx="1.8" ry="1.5" fill="#14780c" transform="rotate(10 135.7 944.9)"/>
<ellipse cx="144.1" cy="942.6" rx="2.3" ry="1.5" fill="#14780c" transform="rotate(10 144.1 942.6)"/>
<ellipse cx="141.8" cy="948.7" rx="3.4" ry="3.8" fill="#22b416" transform="rotate(10 141.8 948.7)"/>
<ellipse cx="168.7" cy="947.9" rx="4.3" ry="3.1" fill="#22b416" transform="rotate(10 168.7 947.9)"/>
<ellipse cx="156.4" cy="954.1" rx="2.8" ry="2.8" fill="#22b416" transform="rotate(10 156.4 954.1)"/>
<ellipse cx="171.0" cy="954.1" rx="1.8" ry="1.5" fill="#22b416" transform="rotate(10 171.0 954.1)"/>
<ellipse cx="177.1" cy="954.1" rx="2.3" ry="1.8" fill="#22b416" transform="rotate(10 177.1 954.1)"/>
<ellipse cx="167.1" cy="957.1" rx="2.8" ry="1.8" fill="#22b416" transform="rotate(10 167.1 957.1)"/>
<ellipse cx="194.0" cy="951.8" rx="2.8" ry="1.5" fill="#14780c" transform="rotate(10 194.0 951.8)"/>
<ellipse cx="195.5" cy="955.6" rx="3.4" ry="2.3" fill="#22b416" transform="rotate(10 195.5 955.6)"/>
<ellipse cx="207.0" cy="956.4" rx="1.8" ry="1.5" fill="#22b416" transform="rotate(10 207.0 956.4)"/>
<ellipse cx="213.2" cy="954.1" rx="1.2" ry="1.8" fill="#22b416" transform="rotate(10 213.2 954.1)"/>
<ellipse cx="188.6" cy="958.7" rx="2.8" ry="1.8" fill="#22b416" transform="rotate(10 188.6 958.7)"/>
<ellipse cx="200.9" cy="961.0" rx="5.4" ry="2.8" fill="#22b416" transform="rotate(10 200.9 961.0)"/>
<ellipse cx="210.1" cy="961.7" rx="3.4" ry="2.3" fill="#22b416" transform="rotate(10 210.1 961.7)"/>
<ellipse cx="174.8" cy="961.7" rx="2.3" ry="1.5" fill="#22b416" transform="rotate(10 174.8 961.7)"/>
<ellipse cx="155.6" cy="962.5" rx="2.3" ry="1.8" fill="#14780c" transform="rotate(10 155.6 962.5)"/>
<ellipse cx="173.3" cy="965.6" rx="2.8" ry="2.3" fill="#22b416" transform="rotate(10 173.3 965.6)"/>
<ellipse cx="188.6" cy="964.0" rx="6.1" ry="2.3" fill="#22b416" transform="rotate(10 188.6 964.0)"/>
<ellipse cx="200.9" cy="967.1" rx="4.6" ry="2.8" fill="#22b416" transform="rotate(10 200.9 967.1)"/>
<ellipse cx="211.6" cy="967.1" rx="2.3" ry="1.5" fill="#22b416" transform="rotate(10 211.6 967.1)"/>
<ellipse cx="188.6" cy="899.9" rx="1.1" ry="0.9" fill="#0a3a06"/>
<ellipse cx="186.3" cy="917.6" rx="1.1" ry="0.9" fill="#0a3a06"/>
<ellipse cx="167.1" cy="934.1" rx="1.1" ry="0.9" fill="#0a3a06"/>
<ellipse cx="174.0" cy="930.3" rx="1.1" ry="0.9" fill="#0a3a06"/>
<ellipse cx="173.3" cy="965.6" rx="1.1" ry="0.9" fill="#0a3a06"/>
<ellipse cx="200.9" cy="967.4" rx="1.1" ry="0.9" fill="#0a3a06"/>
<ellipse cx="154.1" cy="896.8" rx="1.1" ry="0.9" fill="#0a3a06"/>
<ellipse cx="181.7" cy="922.9" rx="1.1" ry="0.9" fill="#0a3a06"/>
</g></g>
<line x1="120.40" y1="783.90" x2="120.40" y2="972.00" stroke="#d4d4d4" stroke-width="1.1"/>
<line x1="26.20" y1="877.60" x2="214.80" y2="877.60" stroke="#8e8e8e" stroke-width="1.2"/>
<line x1="81.30" y1="869.70" x2="117.30" y2="869.70" stroke="#fff" stroke-width="1.6"/>
<text x="98.60" y="874.30" font-size="4.2" font-weight="bold" font-style="normal" text-anchor="middle" fill="#fff">5 µm</text>
<line x1="26.00" y1="975.10" x2="215.00" y2="975.10" stroke="#222" stroke-width="1.0"/>
<text x="118.4" y="987.2" font-size="7.9" font-style="italic" text-anchor="middle" fill="#222">zcIs14[myo-3p::GFP<tspan font-size="4.8" dy="-3">mt</tspan><tspan dy="3">]</tspan></text>
<line x1="272.30" y1="830.50" x2="272.30" y2="919.40" stroke="#999" stroke-width="0.5"/>
<path d="M244.40,903.19 L241.90,901.72 L239.90,898.77 L238.90,895.09 L239.60,891.41 L241.20,888.46 L242.90,886.25 L244.40,885.51 L244.40,885.51 L245.90,886.25 L247.60,888.46 L249.20,891.41 L249.90,895.09 L248.90,898.77 L246.90,901.72 L244.40,903.19 Z" fill="#8c8c8c" stroke="#3a3a3a" stroke-width="0.5" stroke-linejoin="round"/>
<line x1="238.90" y1="895.09" x2="249.90" y2="895.09" stroke="#3a3a3a" stroke-width="0.5" opacity="0.9"/>
<line x1="239.70" y1="898.04" x2="249.10" y2="898.04" stroke="#3a3a3a" stroke-width="0.35" opacity="0.7"/>
<line x1="239.46" y1="892.14" x2="249.34" y2="892.14" stroke="#3a3a3a" stroke-width="0.35" opacity="0.7"/>
<path d="M258.00,894.35 L255.00,893.62 L253.00,890.67 L252.40,887.72 L254.00,884.78 L256.00,881.09 L256.50,877.41 L255.80,875.94 L256.80,873.73 L257.10,869.31 L257.20,866.36 L258.00,865.99 L258.00,865.99 L258.80,866.36 L258.90,869.31 L259.20,873.73 L260.20,875.94 L259.50,877.41 L260.00,881.09 L262.00,884.78 L263.60,887.72 L263.00,890.67 L261.00,893.62 L258.00,894.35 Z" fill="#f25a55" stroke="#e8211d" stroke-width="0.5" stroke-linejoin="round"/>
<line x1="252.80" y1="886.99" x2="263.20" y2="886.99" stroke="#e8211d" stroke-width="0.5" opacity="0.9"/>
<line x1="252.85" y1="889.93" x2="263.15" y2="889.93" stroke="#e8211d" stroke-width="0.35" opacity="0.7"/>
<line x1="254.80" y1="883.30" x2="261.20" y2="883.30" stroke="#e8211d" stroke-width="0.35" opacity="0.7"/>
<path d="M286.50,899.51 L283.50,898.77 L282.30,896.56 L281.90,894.35 L281.10,891.41 L281.70,888.46 L283.50,885.51 L285.30,882.57 L285.90,878.15 L285.60,875.20 L286.10,871.52 L286.20,852.36 L286.50,852.00 L286.50,852.00 L286.80,852.36 L286.90,871.52 L287.40,875.20 L287.10,878.15 L287.70,882.57 L289.50,885.51 L291.30,888.46 L291.90,891.41 L291.10,894.35 L290.70,896.56 L289.50,898.77 L286.50,899.51 Z" fill="#cacaca" stroke="#444" stroke-width="0.5" stroke-linejoin="round"/>
<line x1="281.10" y1="891.41" x2="291.90" y2="891.41" stroke="#444" stroke-width="0.5" opacity="0.9"/>
<line x1="282.03" y1="895.09" x2="290.97" y2="895.09" stroke="#444" stroke-width="0.35" opacity="0.7"/>
<line x1="282.15" y1="887.72" x2="290.85" y2="887.72" stroke="#444" stroke-width="0.35" opacity="0.7"/>
<path d="M300.30,907.98 L297.30,907.25 L295.30,905.40 L294.70,903.93 L296.30,901.72 L298.50,899.51 L299.50,897.30 L299.80,895.83 L300.30,895.46 L300.30,895.46 L300.80,895.83 L301.10,897.30 L302.10,899.51 L304.30,901.72 L305.90,903.93 L305.30,905.40 L303.30,907.25 L300.30,907.98 Z" fill="#f8bab6" stroke="#ee6a66" stroke-width="0.5" stroke-linejoin="round"/>
<line x1="294.97" y1="903.56" x2="305.63" y2="903.56" stroke="#ee6a66" stroke-width="0.5" opacity="0.9"/>
<line x1="295.30" y1="905.40" x2="305.30" y2="905.40" stroke="#ee6a66" stroke-width="0.35" opacity="0.7"/>
<line x1="296.30" y1="901.72" x2="304.30" y2="901.72" stroke="#ee6a66" stroke-width="0.35" opacity="0.7"/>
<line x1="235.40" y1="831.00" x2="235.40" y2="919.70" stroke="#333" stroke-width="0.8"/>
<line x1="235.10" y1="919.40" x2="309.00" y2="919.40" stroke="#333" stroke-width="0.8"/>
<line x1="233.40" y1="919.40" x2="235.40" y2="919.40" stroke="#333" stroke-width="0.6"/>
<text x="232.60" y="921.00" font-size="4.6" font-weight="bold" font-style="normal" text-anchor="end" fill="#222">0</text>
<line x1="233.40" y1="897.30" x2="235.40" y2="897.30" stroke="#333" stroke-width="0.6"/>
<text x="232.60" y="898.90" font-size="4.6" font-weight="bold" font-style="normal" text-anchor="end" fill="#222">3</text>
<line x1="233.40" y1="875.20" x2="235.40" y2="875.20" stroke="#333" stroke-width="0.6"/>
<text x="232.60" y="876.80" font-size="4.6" font-weight="bold" font-style="normal" text-anchor="end" fill="#222">6</text>
<line x1="233.40" y1="853.10" x2="235.40" y2="853.10" stroke="#333" stroke-width="0.6"/>
<text x="232.60" y="854.70" font-size="4.6" font-weight="bold" font-style="normal" text-anchor="end" fill="#222">9</text>
<line x1="233.40" y1="831.00" x2="235.40" y2="831.00" stroke="#333" stroke-width="0.6"/>
<text x="232.60" y="832.60" font-size="4.6" font-weight="bold" font-style="normal" text-anchor="end" fill="#222">12</text>
<line x1="272.30" y1="919.40" x2="272.30" y2="921.20" stroke="#333" stroke-width="0.6"/>
<line x1="244.40" y1="919.40" x2="244.40" y2="921.20" stroke="#333" stroke-width="0.6"/>
<text x="245.80" y="923.60" font-size="4.8" font-weight="normal" font-style="normal" text-anchor="end" fill="#111" transform="rotate(-30 245.80 923.60)">control</text>
<line x1="258.00" y1="919.40" x2="258.00" y2="921.20" stroke="#333" stroke-width="0.6"/>
<text x="259.40" y="923.60" font-size="4.8" font-weight="normal" font-style="italic" text-anchor="end" fill="#111" transform="rotate(-30 259.40 923.60)">wah-1</text>
<line x1="286.50" y1="919.40" x2="286.50" y2="921.20" stroke="#333" stroke-width="0.6"/>
<text x="287.90" y="923.60" font-size="4.8" font-weight="normal" font-style="normal" text-anchor="end" fill="#111" transform="rotate(-30 287.90 923.60)">control</text>
<line x1="300.30" y1="919.40" x2="300.30" y2="921.20" stroke="#333" stroke-width="0.6"/>
<text x="301.70" y="923.60" font-size="4.8" font-weight="normal" font-style="italic" text-anchor="end" fill="#111" transform="rotate(-30 301.70 923.60)">wah-1</text>
<text x="224.40" y="875.20" font-size="4.9" font-weight="bold" font-style="normal" text-anchor="middle" fill="#111" transform="rotate(-90 224.40 875.20)">Elongation (arb. units)</text>
<text x="253.00" y="827.60" font-size="5.0" font-weight="bold" font-style="normal" text-anchor="middle" fill="#111">OP50</text>
<text x="291.30" y="827.60" font-size="5.0" font-weight="bold" font-style="normal" text-anchor="middle" fill="#111">HT115</text>
<text x="251.10" y="842.30" font-size="4.6" font-weight="normal" font-style="normal" text-anchor="middle" fill="#333">&lt;0.0001</text>
<line x1="243.90" y1="845.20" x2="258.40" y2="845.20" stroke="#444" stroke-width="0.7"/>
<text x="292.90" y="842.30" font-size="4.6" font-weight="normal" font-style="normal" text-anchor="middle" fill="#333">&lt;0.0001</text>
<line x1="285.70" y1="845.20" x2="300.10" y2="845.20" stroke="#444" stroke-width="0.7"/>
<line x1="364.30" y1="830.20" x2="364.30" y2="918.60" stroke="#999" stroke-width="0.5"/>
<path d="M336.80,906.88 L334.80,905.42 L332.80,901.02 L331.40,895.16 L332.60,889.30 L333.80,883.44 L335.30,880.51 L336.20,874.65 L336.50,857.07 L336.80,856.63 L336.80,856.63 L337.10,857.07 L337.40,874.65 L338.30,880.51 L339.80,883.44 L341.00,889.30 L342.20,895.16 L340.80,901.02 L338.80,905.42 L336.80,906.88 Z" fill="#8c8c8c" stroke="#3a3a3a" stroke-width="0.5" stroke-linejoin="round"/>
<line x1="331.40" y1="895.16" x2="342.20" y2="895.16" stroke="#3a3a3a" stroke-width="0.5" opacity="0.9"/>
<line x1="332.45" y1="899.56" x2="341.15" y2="899.56" stroke="#3a3a3a" stroke-width="0.35" opacity="0.7"/>
<line x1="332.60" y1="889.30" x2="341.00" y2="889.30" stroke="#3a3a3a" stroke-width="0.35" opacity="0.7"/>
<path d="M350.50,898.09 L348.00,896.62 L346.00,892.23 L344.70,886.37 L345.50,880.51 L346.50,874.65 L347.30,868.79 L348.70,862.93 L349.60,857.07 L350.00,848.28 L350.50,847.84 L350.50,847.84 L351.00,848.28 L351.40,857.07 L352.30,862.93 L353.70,868.79 L354.50,874.65 L355.50,880.51 L356.30,886.37 L355.00,892.23 L353.00,896.62 L350.50,898.09 Z" fill="#f25a55" stroke="#e8211d" stroke-width="0.5" stroke-linejoin="round"/>
<line x1="345.10" y1="883.44" x2="355.90" y2="883.44" stroke="#e8211d" stroke-width="0.5" opacity="0.9"/>
<line x1="345.35" y1="889.30" x2="355.65" y2="889.30" stroke="#e8211d" stroke-width="0.35" opacity="0.7"/>
<line x1="346.50" y1="874.65" x2="354.50" y2="874.65" stroke="#e8211d" stroke-width="0.35" opacity="0.7"/>
<path d="M378.60,902.49 L375.60,901.02 L373.60,896.62 L373.00,892.23 L374.00,886.37 L375.20,880.51 L377.00,874.65 L377.80,865.86 L377.40,851.21 L377.40,848.28 L378.60,847.84 L378.60,847.84 L379.80,848.28 L379.80,851.21 L379.40,865.86 L380.20,874.65 L382.00,880.51 L383.20,886.37 L384.20,892.23 L383.60,896.62 L381.60,901.02 L378.60,902.49 Z" fill="#cacaca" stroke="#444" stroke-width="0.5" stroke-linejoin="round"/>
<line x1="373.25" y1="890.76" x2="383.95" y2="890.76" stroke="#444" stroke-width="0.5" opacity="0.9"/>
<line x1="373.60" y1="896.62" x2="383.60" y2="896.62" stroke="#444" stroke-width="0.35" opacity="0.7"/>
<line x1="374.90" y1="881.98" x2="382.30" y2="881.98" stroke="#444" stroke-width="0.35" opacity="0.7"/>
<path d="M392.40,912.74 L389.90,912.01 L388.00,909.81 L387.00,907.61 L388.40,905.42 L389.80,902.49 L390.80,898.09 L391.60,892.23 L392.10,883.44 L392.40,883.00 L392.40,883.00 L392.70,883.44 L393.20,892.23 L394.00,898.09 L395.00,902.49 L396.40,905.42 L397.80,907.61 L396.80,909.81 L394.90,912.01 L392.40,912.74 Z" fill="#f8bab6" stroke="#ee6a66" stroke-width="0.5" stroke-linejoin="round"/>
<line x1="387.00" y1="907.61" x2="397.80" y2="907.61" stroke="#ee6a66" stroke-width="0.5" opacity="0.9"/>
<line x1="388.00" y1="909.81" x2="396.80" y2="909.81" stroke="#ee6a66" stroke-width="0.35" opacity="0.7"/>
<line x1="389.10" y1="903.95" x2="395.70" y2="903.95" stroke="#ee6a66" stroke-width="0.35" opacity="0.7"/>
<line x1="327.30" y1="830.70" x2="327.30" y2="918.90" stroke="#333" stroke-width="0.8"/>
<line x1="327.00" y1="918.60" x2="400.70" y2="918.60" stroke="#333" stroke-width="0.8"/>
<line x1="325.30" y1="918.60" x2="327.30" y2="918.60" stroke="#333" stroke-width="0.6"/>
<text x="324.50" y="920.20" font-size="4.6" font-weight="bold" font-style="normal" text-anchor="end" fill="#222">0</text>
<line x1="325.30" y1="889.30" x2="327.30" y2="889.30" stroke="#333" stroke-width="0.6"/>
<text x="324.50" y="890.90" font-size="4.6" font-weight="bold" font-style="normal" text-anchor="end" fill="#222">20</text>
<line x1="325.30" y1="860.00" x2="327.30" y2="860.00" stroke="#333" stroke-width="0.6"/>
<text x="324.50" y="861.60" font-size="4.6" font-weight="bold" font-style="normal" text-anchor="end" fill="#222">40</text>
<line x1="325.30" y1="830.70" x2="327.30" y2="830.70" stroke="#333" stroke-width="0.6"/>
<text x="324.50" y="832.30" font-size="4.6" font-weight="bold" font-style="normal" text-anchor="end" fill="#222">60</text>
<line x1="364.30" y1="918.60" x2="364.30" y2="920.40" stroke="#333" stroke-width="0.6"/>
<line x1="336.80" y1="918.60" x2="336.80" y2="920.40" stroke="#333" stroke-width="0.6"/>
<text x="338.20" y="922.80" font-size="4.8" font-weight="normal" font-style="normal" text-anchor="end" fill="#111" transform="rotate(-30 338.20 922.80)">control</text>
<line x1="350.50" y1="918.60" x2="350.50" y2="920.40" stroke="#333" stroke-width="0.6"/>
<text x="351.90" y="922.80" font-size="4.8" font-weight="normal" font-style="italic" text-anchor="end" fill="#111" transform="rotate(-30 351.90 922.80)">wah-1</text>
<line x1="378.60" y1="918.60" x2="378.60" y2="920.40" stroke="#333" stroke-width="0.6"/>
<text x="380.00" y="922.80" font-size="4.8" font-weight="normal" font-style="normal" text-anchor="end" fill="#111" transform="rotate(-30 380.00 922.80)">control</text>
<line x1="392.40" y1="918.60" x2="392.40" y2="920.40" stroke="#333" stroke-width="0.6"/>
<text x="393.80" y="922.80" font-size="4.8" font-weight="normal" font-style="italic" text-anchor="end" fill="#111" transform="rotate(-30 393.80 922.80)">wah-1</text>
<text x="317.30" y="874.65" font-size="4.9" font-weight="bold" font-style="normal" text-anchor="middle" fill="#111" transform="rotate(-90 317.30 874.65)">Perimeter (µm)</text>
<text x="342.90" y="827.60" font-size="5.0" font-weight="bold" font-style="normal" text-anchor="middle" fill="#111">OP50</text>
<text x="384.70" y="827.60" font-size="5.0" font-weight="bold" font-style="normal" text-anchor="middle" fill="#111">HT115</text>
<text x="343.40" y="837.80" font-size="4.6" font-weight="normal" font-style="normal" text-anchor="middle" fill="#333">&lt;0.0001</text>
<line x1="336.50" y1="840.70" x2="350.50" y2="840.70" stroke="#444" stroke-width="0.7"/>
<text x="385.20" y="837.80" font-size="4.6" font-weight="normal" font-style="normal" text-anchor="middle" fill="#333">&lt;0.0001</text>
<line x1="378.30" y1="840.70" x2="392.20" y2="840.70" stroke="#444" stroke-width="0.7"/>
<text x="422.60" y="763.00" font-size="15" font-weight="normal" font-style="normal" text-anchor="start" fill="#111">I</text>
<text x="604.60" y="763.00" font-size="15" font-weight="normal" font-style="normal" text-anchor="start" fill="#111">J</text>
<defs>
<linearGradient id="ibg1" x1="0" y1="0" x2="1" y2="1"><stop offset="0" stop-color="#5c5c5c"/><stop offset="0.55" stop-color="#656565"/><stop offset="1" stop-color="#5e5e5d"/></linearGradient>
<linearGradient id="ibg2" x1="0" y1="0" x2="1" y2="1"><stop offset="0" stop-color="#5e5e5e"/><stop offset="0.5" stop-color="#636363"/><stop offset="1" stop-color="#5d5d5c"/></linearGradient>
<clipPath id="ic1"><rect x="438.8" y="782.9" width="94" height="93.5"/></clipPath>
<clipPath id="ic2"><rect x="438.8" y="876.4" width="94" height="92.9"/></clipPath>
<filter id="wtex" x="0" y="0" width="1" height="1">
<feTurbulence type="fractalNoise" baseFrequency="0.95" numOctaves="2" seed="8"/>
<feColorMatrix type="matrix" values="0 0 0 0 0 0 0 0 0 0 0 0 0 0 0 1.2 0 0 0 -0.45"/>
<feComposite in2="SourceGraphic" operator="in" result="dk"/>
<feMerge><feMergeNode in="SourceGraphic"/><feMergeNode in="dk"/></feMerge>
</filter>
<clipPath id="w1c"><path d="M438,812 C455,814.5 485,818.5 505,822.6 C516,824.6 526.6,826.4 526.6,828.4 C526.6,830.6 516,832.6 505,834.8 C485,839 455,843.5 438,845 Z"/></clipPath>
<clipPath id="w2c"><path d="M438,905.6 C455,905.4 470,906 483,907.3 C492,908.6 498,912 503,915.6 C512,922 526.6,930 526.8,934 C526.8,937.6 520,938.8 513.5,938.4 C506,937.6 500,935.6 494,935.4 C482,935 470,935.4 460,936.4 C452,937.2 444,937.2 438,937 Z"/></clipPath>
</defs>
<rect x="438.80" y="782.90" width="94.00" height="93.50" fill="url(#ibg1)" stroke="none" stroke-width="1"/>
<rect x="438.80" y="876.40" width="94.00" height="92.90" fill="url(#ibg2)" stroke="none" stroke-width="1"/>
<g clip-path="url(#ic1)">
<path d="M438,812 C455,814.5 485,818.5 505,822.6 C516,824.6 526.6,826.4 526.6,828.4 C526.6,830.6 516,832.6 505,834.8 C485,839 455,843.5 438,845 Z" fill="none" stroke="#e0a020" stroke-width="1.6" opacity="0.55" filter="url(#b08)"/>
<path d="M438,812 C455,814.5 485,818.5 505,822.6 C516,824.6 526.6,826.4 526.6,828.4 C526.6,830.6 516,832.6 505,834.8 C485,839 455,843.5 438,845 Z" fill="#686860" filter="url(#wtex)"/>
<g clip-path="url(#w1c)">
<path d="M436,812 C455,814.5 485,818.5 508,823.4" fill="none" stroke="#e69020" stroke-width="3.8" filter="url(#b12)" opacity="0.85"/>
<path d="M436,845 C455,843.5 485,839 512,833.6" fill="none" stroke="#e6c428" stroke-width="3.6" filter="url(#b12)" opacity="0.85"/>
<path d="M508,823.4 C518,825.4 524,826.6 526.6,828.4 C524,830.4 518,831.8 512,833.6" fill="none" stroke="#b8a040" stroke-width="1.6" filter="url(#b08)" opacity="0.6"/>
<path d="M454,817 C464,822 472,828 478,838" fill="none" stroke="#d88a1c" stroke-width="3.2" filter="url(#b12)" opacity="0.55"/>
<path d="M462,838 C470,836 476,834 484,834" fill="none" stroke="#e0b020" stroke-width="3.0" filter="url(#b12)" opacity="0.5"/>
</g></g>
<g clip-path="url(#ic2)">
<path d="M438,905.6 C455,905.4 470,906 483,907.3 C492,908.6 498,912 503,915.6 C512,922 526.6,930 526.8,934 C526.8,937.6 520,938.8 513.5,938.4 C506,937.6 500,935.6 494,935.4 C482,935 470,935.4 460,936.4 C452,937.2 444,937.2 438,937 Z" fill="none" stroke="#48e838" stroke-width="1.6" opacity="0.6" filter="url(#b08)"/>
<path d="M438,905.6 C455,905.4 470,906 483,907.3 C492,908.6 498,912 503,915.6 C512,922 526.6,930 526.8,934 C526.8,937.6 520,938.8 513.5,938.4 C506,937.6 500,935.6 494,935.4 C482,935 470,935.4 460,936.4 C452,937.2 444,937.2 438,937 Z" fill="#5d5d5a" filter="url(#wtex)"/>
<g clip-path="url(#w2c)">
<path d="M436,905.6 C455,905.4 470,906 483,907.3 C492,908.6 498,912 503,915.6 C507,918.4 510,920.6 513,922.6" fill="none" stroke="#46e236" stroke-width="9.6" filter="url(#b08)"/>
<path d="M511,921.4 C517,925.4 522,928.6 526,932.4" fill="none" stroke="#48d838" stroke-width="5.6" filter="url(#b08)" opacity="0.8"/>
<path d="M436,930.4 L456,931.2 C462,931.8 464,933.4 468,933.4 L494,932.6 C500,932.8 506,934.2 512,935.8 L522,936.6 L526,940 L436,942 Z" fill="#46e236" filter="url(#b08)"/>
<path d="M484,913.6 C494,916.4 502,921 513,928.6" fill="none" stroke="#3cc830" stroke-width="1.4" filter="url(#b08)" opacity="0.7"/>
<path d="M476,929.6 C490,927.6 500,929 512,932.6" fill="none" stroke="#3cc830" stroke-width="1.3" filter="url(#b08)" opacity="0.6"/>
</g></g>
<line x1="438.80" y1="876.50" x2="532.80" y2="876.50" stroke="#b4b4b4" stroke-width="1.0"/>
<text x="449.00" y="796.50" font-size="7.9" font-weight="normal" font-style="normal" text-anchor="start" fill="#e6e6e6">control</text>
<text x="449.0" y="889.7" font-size="7.9" fill="#e6e6e6">NaN<tspan font-size="5.4">3</tspan></text>
<line x1="507.90" y1="964.30" x2="530.90" y2="964.30" stroke="#f0f0f0" stroke-width="1.0"/>
<text x="519.50" y="968.20" font-size="2.8" font-weight="normal" font-style="normal" text-anchor="middle" fill="#eee">10 µm</text>
<line x1="436.00" y1="787.20" x2="436.00" y2="965.60" stroke="#8a8a8a" stroke-width="1.6"/>
<text x="432.40" y="877.00" font-size="7.8" font-weight="normal" font-style="italic" text-anchor="middle" fill="#222" transform="rotate(-90 432.40 877.00)">wuIs305[myo-3p::Queen-2m]</text>
<rect x="555.40" y="856.47" width="8.40" height="61.93" fill="#fff" stroke="#444" stroke-width="0.5"/>
<rect x="566.00" y="909.11" width="8.00" height="9.29" fill="#fff" stroke="#bbb" stroke-width="0.5"/>
<circle cx="561.5" cy="860.8" r="0.95" fill="#111"/>
<circle cx="562.4" cy="860.7" r="0.95" fill="#111"/>
<circle cx="557.1" cy="855.4" r="0.95" fill="#111"/>
<circle cx="559.6" cy="866.5" r="0.95" fill="#111"/>
<circle cx="562.1" cy="847.5" r="0.95" fill="#111"/>
<circle cx="557.6" cy="857.3" r="0.95" fill="#111"/>
<circle cx="560.1" cy="858.5" r="0.95" fill="#111"/>
<circle cx="560.2" cy="853.8" r="0.95" fill="#111"/>
<circle cx="558.5" cy="850.9" r="0.95" fill="#111"/>
<circle cx="562.2" cy="854.3" r="0.95" fill="#111"/>
<circle cx="561.5" cy="854.3" r="0.95" fill="#111"/>
<circle cx="557.7" cy="857.7" r="0.95" fill="#111"/>
<circle cx="556.9" cy="856.6" r="0.95" fill="#111"/>
<circle cx="562.0" cy="856.5" r="0.95" fill="#111"/>
<circle cx="562.6" cy="853.7" r="0.95" fill="#111"/>
<circle cx="562.0" cy="851.1" r="0.95" fill="#111"/>
<circle cx="560.0" cy="857.9" r="0.95" fill="#111"/>
<circle cx="560.8" cy="841.6" r="0.95" fill="#111"/>
<circle cx="560.9" cy="851.1" r="0.95" fill="#111"/>
<circle cx="562.5" cy="842.6" r="0.95" fill="#111"/>
<circle cx="559.0" cy="851.1" r="0.95" fill="#111"/>
<circle cx="557.9" cy="857.4" r="0.95" fill="#111"/>
<circle cx="558.6" cy="853.4" r="0.95" fill="#111"/>
<circle cx="560.4" cy="853.1" r="0.95" fill="#111"/>
<circle cx="558.9" cy="846.7" r="0.95" fill="#111"/>
<circle cx="558.7" cy="854.4" r="0.95" fill="#111"/>
<circle cx="558.7" cy="852.1" r="0.95" fill="#111"/>
<circle cx="559.7" cy="860.1" r="0.95" fill="#111"/>
<circle cx="562.6" cy="855.1" r="0.95" fill="#111"/>
<circle cx="557.0" cy="856.3" r="0.95" fill="#111"/>
<circle cx="557.0" cy="854.6" r="0.95" fill="#111"/>
<circle cx="561.5" cy="864.8" r="0.95" fill="#111"/>
<circle cx="557.0" cy="859.2" r="0.95" fill="#111"/>
<circle cx="557.2" cy="849.5" r="0.95" fill="#111"/>
<circle cx="559.6" cy="883.1" r="0.75" fill="#111"/>
<line x1="557.80" y1="856.47" x2="561.40" y2="856.47" stroke="#111" stroke-width="0.5"/>
<circle cx="568.7" cy="904.0" r="0.55" fill="#bdbdbd"/>
<circle cx="571.1" cy="900.3" r="0.55" fill="#bdbdbd"/>
<circle cx="569.3" cy="900.6" r="0.55" fill="#bdbdbd"/>
<circle cx="569.4" cy="910.4" r="0.55" fill="#bdbdbd"/>
<circle cx="568.3" cy="912.5" r="0.55" fill="#bdbdbd"/>
<circle cx="571.1" cy="908.1" r="0.55" fill="#bdbdbd"/>
<circle cx="568.0" cy="905.5" r="0.55" fill="#bdbdbd"/>
<circle cx="572.0" cy="913.1" r="0.55" fill="#bdbdbd"/>
<circle cx="570.5" cy="904.9" r="0.55" fill="#bdbdbd"/>
<circle cx="571.8" cy="905.7" r="0.55" fill="#bdbdbd"/>
<circle cx="570.2" cy="911.0" r="0.55" fill="#bdbdbd"/>
<circle cx="569.2" cy="901.3" r="0.55" fill="#bdbdbd"/>
<circle cx="568.1" cy="908.0" r="0.55" fill="#bdbdbd"/>
<circle cx="568.5" cy="905.5" r="0.55" fill="#bdbdbd"/>
<circle cx="568.5" cy="911.2" r="0.55" fill="#bdbdbd"/>
<circle cx="568.0" cy="913.6" r="0.55" fill="#bdbdbd"/>
<circle cx="569.6" cy="903.4" r="0.55" fill="#bdbdbd"/>
<circle cx="568.8" cy="907.6" r="0.55" fill="#bdbdbd"/>
<circle cx="569.8" cy="912.1" r="0.55" fill="#bdbdbd"/>
<circle cx="569.7" cy="910.5" r="0.55" fill="#bdbdbd"/>
<circle cx="567.9" cy="900.8" r="0.55" fill="#bdbdbd"/>
<circle cx="570.0" cy="904.9" r="0.55" fill="#bdbdbd"/>
<circle cx="571.0" cy="906.4" r="0.55" fill="#bdbdbd"/>
<circle cx="572.0" cy="908.6" r="0.55" fill="#bdbdbd"/>
<circle cx="568.3" cy="911.0" r="0.55" fill="#bdbdbd"/>
<circle cx="569.7" cy="911.2" r="0.55" fill="#bdbdbd"/>
<circle cx="569.4" cy="899.8" r="0.50" fill="#c4c4c4"/>
<circle cx="570.6" cy="898.0" r="0.50" fill="#c4c4c4"/>
<circle cx="569.7" cy="896.1" r="0.50" fill="#c4c4c4"/>
<circle cx="569.9" cy="893.6" r="0.50" fill="#c4c4c4"/>
<circle cx="570.8" cy="890.5" r="0.50" fill="#c4c4c4"/>
<line x1="553.70" y1="825.50" x2="553.70" y2="918.70" stroke="#333" stroke-width="0.8"/>
<line x1="553.40" y1="918.40" x2="576.60" y2="918.40" stroke="#333" stroke-width="0.8"/>
<line x1="551.70" y1="918.40" x2="553.70" y2="918.40" stroke="#333" stroke-width="0.6"/>
<text x="550.90" y="920.10" font-size="4.7" font-weight="bold" font-style="normal" text-anchor="end" fill="#222">0.0</text>
<line x1="551.70" y1="887.43" x2="553.70" y2="887.43" stroke="#333" stroke-width="0.6"/>
<text x="550.90" y="889.13" font-size="4.7" font-weight="bold" font-style="normal" text-anchor="end" fill="#222">0.5</text>
<line x1="551.70" y1="856.47" x2="553.70" y2="856.47" stroke="#333" stroke-width="0.6"/>
<text x="550.90" y="858.17" font-size="4.7" font-weight="bold" font-style="normal" text-anchor="end" fill="#222">1.0</text>
<line x1="551.70" y1="825.50" x2="553.70" y2="825.50" stroke="#333" stroke-width="0.6"/>
<text x="550.90" y="827.20" font-size="4.7" font-weight="bold" font-style="normal" text-anchor="end" fill="#222">1.5</text>
<line x1="559.60" y1="918.40" x2="559.60" y2="920.20" stroke="#333" stroke-width="0.6"/>
<line x1="570.00" y1="918.40" x2="570.00" y2="920.20" stroke="#333" stroke-width="0.6"/>
<text x="560.80" y="922.80" font-size="4.7" font-weight="normal" font-style="normal" text-anchor="end" fill="#111" transform="rotate(-40 560.80 922.80)">control</text>
<text x="571.2" y="922.8" font-size="4.7" text-anchor="end" fill="#111" transform="rotate(-40 571.2 922.8)">NaN<tspan font-size="3.2" dy="0.8">3</tspan></text>
<text x="539.80" y="871.50" font-size="4.95" font-weight="bold" font-style="normal" text-anchor="middle" fill="#111" transform="rotate(-90 539.80 871.50)">Normalised ratio (405/488)</text>
<text x="564.80" y="832.70" font-size="4.9" font-weight="normal" font-style="normal" text-anchor="middle" fill="#333">&lt;0.0001</text>
<line x1="559.20" y1="835.60" x2="570.10" y2="835.60" stroke="#444" stroke-width="0.7"/>
<text x="608.90" y="805.00" font-size="7.8" font-weight="bold" font-style="normal" text-anchor="start" fill="#111">Cytosolic Queen-2m</text>
<text x="608.90" y="814.20" font-size="7.8" font-weight="bold" font-style="normal" text-anchor="start" fill="#111">(ATP measurement)</text>
<rect x="627.80" y="874.15" width="9.00" height="43.45" fill="#fff" stroke="#555" stroke-width="0.5"/>
<rect x="638.40" y="866.76" width="8.40" height="50.84" fill="#fff" stroke="#f0807c" stroke-width="0.5"/>
<rect x="648.50" y="872.41" width="8.40" height="45.19" fill="#fff" stroke="#555" stroke-width="0.5"/>
<rect x="659.00" y="872.85" width="8.90" height="44.75" fill="#fff" stroke="#f0807c" stroke-width="0.5"/>
<circle cx="632.0" cy="867.8" r="0.85" fill="#333" stroke="#000" stroke-width="0.3"/>
<circle cx="632.2" cy="882.7" r="0.85" fill="#333" stroke="#000" stroke-width="0.3"/>
<circle cx="631.0" cy="874.7" r="0.85" fill="#333" stroke="#000" stroke-width="0.3"/>
<circle cx="631.7" cy="878.6" r="0.85" fill="#333" stroke="#000" stroke-width="0.3"/>
<circle cx="635.4" cy="871.8" r="0.85" fill="#333" stroke="#000" stroke-width="0.3"/>
<circle cx="635.2" cy="871.1" r="0.85" fill="#333" stroke="#000" stroke-width="0.3"/>
<circle cx="631.3" cy="877.4" r="0.85" fill="#333" stroke="#000" stroke-width="0.3"/>
<circle cx="629.7" cy="877.4" r="0.85" fill="#333" stroke="#000" stroke-width="0.3"/>
<circle cx="634.7" cy="875.1" r="0.85" fill="#333" stroke="#000" stroke-width="0.3"/>
<circle cx="631.4" cy="867.4" r="0.85" fill="#333" stroke="#000" stroke-width="0.3"/>
<circle cx="633.5" cy="872.6" r="0.85" fill="#333" stroke="#000" stroke-width="0.3"/>
<circle cx="633.3" cy="880.7" r="0.85" fill="#333" stroke="#000" stroke-width="0.3"/>
<circle cx="633.6" cy="873.9" r="0.85" fill="#333" stroke="#000" stroke-width="0.3"/>
<circle cx="630.9" cy="877.9" r="0.85" fill="#333" stroke="#000" stroke-width="0.3"/>
<circle cx="633.5" cy="880.8" r="0.85" fill="#333" stroke="#000" stroke-width="0.3"/>
<circle cx="631.0" cy="873.5" r="0.85" fill="#333" stroke="#000" stroke-width="0.3"/>
<circle cx="632.8" cy="868.8" r="0.85" fill="#333" stroke="#000" stroke-width="0.3"/>
<circle cx="629.2" cy="876.1" r="0.85" fill="#333" stroke="#000" stroke-width="0.3"/>
<circle cx="633.4" cy="877.0" r="0.85" fill="#333" stroke="#000" stroke-width="0.3"/>
<circle cx="632.1" cy="875.0" r="0.85" fill="#333" stroke="#000" stroke-width="0.3"/>
<circle cx="634.2" cy="871.9" r="0.85" fill="#333" stroke="#000" stroke-width="0.3"/>
<circle cx="631.3" cy="879.3" r="0.85" fill="#333" stroke="#000" stroke-width="0.3"/>
<circle cx="634.4" cy="878.1" r="0.85" fill="#333" stroke="#000" stroke-width="0.3"/>
<circle cx="631.3" cy="879.2" r="0.85" fill="#333" stroke="#000" stroke-width="0.3"/>
<circle cx="633.5" cy="869.8" r="0.85" fill="#333" stroke="#000" stroke-width="0.3"/>
<circle cx="635.3" cy="880.7" r="0.85" fill="#333" stroke="#000" stroke-width="0.3"/>
<circle cx="632.5" cy="869.6" r="0.85" fill="#333" stroke="#000" stroke-width="0.3"/>
<circle cx="630.2" cy="875.4" r="0.85" fill="#333" stroke="#000" stroke-width="0.3"/>
<circle cx="632.2" cy="869.4" r="0.85" fill="#333" stroke="#000" stroke-width="0.3"/>
<circle cx="633.5" cy="882.0" r="0.85" fill="#333" stroke="#000" stroke-width="0.3"/>
<circle cx="630.2" cy="875.3" r="0.85" fill="#333" stroke="#000" stroke-width="0.3"/>
<circle cx="634.1" cy="880.4" r="0.85" fill="#333" stroke="#000" stroke-width="0.3"/>
<circle cx="631.8" cy="879.2" r="0.85" fill="#333" stroke="#000" stroke-width="0.3"/>
<circle cx="633.1" cy="877.0" r="0.85" fill="#333" stroke="#000" stroke-width="0.3"/>
<circle cx="633.7" cy="873.3" r="0.85" fill="#333" stroke="#000" stroke-width="0.3"/>
<circle cx="629.3" cy="879.6" r="0.85" fill="#333" stroke="#000" stroke-width="0.3"/>
<circle cx="632.0" cy="887.2" r="0.80" fill="#222"/>
<circle cx="643.6" cy="864.0" r="0.85" fill="#e8211d"/>
<circle cx="640.8" cy="862.4" r="0.85" fill="#e8211d"/>
<circle cx="639.7" cy="869.4" r="0.85" fill="#e8211d"/>
<circle cx="642.4" cy="873.0" r="0.85" fill="#e8211d"/>
<circle cx="640.3" cy="866.5" r="0.85" fill="#e8211d"/>
<circle cx="641.4" cy="865.2" r="0.85" fill="#e8211d"/>
<circle cx="639.6" cy="865.5" r="0.85" fill="#e8211d"/>
<circle cx="642.4" cy="863.9" r="0.85" fill="#e8211d"/>
<circle cx="643.2" cy="871.6" r="0.85" fill="#e8211d"/>
<circle cx="640.9" cy="862.3" r="0.85" fill="#e8211d"/>
<circle cx="642.0" cy="866.6" r="0.85" fill="#e8211d"/>
<circle cx="641.2" cy="866.9" r="0.85" fill="#e8211d"/>
<circle cx="644.7" cy="868.8" r="0.85" fill="#e8211d"/>
<circle cx="641.8" cy="865.5" r="0.85" fill="#e8211d"/>
<circle cx="640.0" cy="860.3" r="0.85" fill="#e8211d"/>
<circle cx="642.9" cy="865.3" r="0.85" fill="#e8211d"/>
<circle cx="645.5" cy="870.1" r="0.85" fill="#e8211d"/>
<circle cx="644.6" cy="861.4" r="0.85" fill="#e8211d"/>
<circle cx="643.5" cy="874.4" r="0.85" fill="#e8211d"/>
<circle cx="641.8" cy="862.5" r="0.85" fill="#e8211d"/>
<circle cx="643.0" cy="862.7" r="0.85" fill="#e8211d"/>
<circle cx="645.5" cy="861.8" r="0.85" fill="#e8211d"/>
<circle cx="641.6" cy="860.3" r="0.85" fill="#e8211d"/>
<circle cx="645.1" cy="868.1" r="0.85" fill="#e8211d"/>
<circle cx="643.0" cy="864.5" r="0.85" fill="#e8211d"/>
<circle cx="643.3" cy="866.7" r="0.85" fill="#e8211d"/>
<circle cx="645.1" cy="862.5" r="0.85" fill="#e8211d"/>
<circle cx="641.8" cy="861.6" r="0.85" fill="#e8211d"/>
<circle cx="641.3" cy="869.9" r="0.85" fill="#e8211d"/>
<circle cx="645.6" cy="865.3" r="0.85" fill="#e8211d"/>
<circle cx="645.2" cy="875.6" r="0.85" fill="#e8211d"/>
<circle cx="643.2" cy="858.4" r="0.85" fill="#e8211d"/>
<circle cx="642.6" cy="867.6" r="0.85" fill="#e8211d"/>
<circle cx="642.1" cy="853.3" r="0.85" fill="#e8211d"/>
<circle cx="642.5" cy="872.6" r="0.85" fill="#e8211d"/>
<circle cx="641.2" cy="854.3" r="0.85" fill="#e8211d"/>
<circle cx="642.9" cy="850.3" r="0.85" fill="#e8211d"/>
<rect x="652.68" y="873.47" width="1.40" height="1.40" fill="#111" stroke="none" stroke-width="1"/>
<rect x="651.68" y="870.96" width="1.40" height="1.40" fill="#111" stroke="none" stroke-width="1"/>
<rect x="653.83" y="873.31" width="1.40" height="1.40" fill="#111" stroke="none" stroke-width="1"/>
<rect x="649.27" y="863.97" width="1.40" height="1.40" fill="#111" stroke="none" stroke-width="1"/>
<rect x="654.44" y="874.68" width="1.40" height="1.40" fill="#111" stroke="none" stroke-width="1"/>
<rect x="653.58" y="871.98" width="1.40" height="1.40" fill="#111" stroke="none" stroke-width="1"/>
<rect x="650.07" y="871.18" width="1.40" height="1.40" fill="#111" stroke="none" stroke-width="1"/>
<rect x="654.74" y="867.85" width="1.40" height="1.40" fill="#111" stroke="none" stroke-width="1"/>
<rect x="651.86" y="872.87" width="1.40" height="1.40" fill="#111" stroke="none" stroke-width="1"/>
<rect x="652.81" y="865.55" width="1.40" height="1.40" fill="#111" stroke="none" stroke-width="1"/>
<rect x="649.86" y="876.97" width="1.40" height="1.40" fill="#111" stroke="none" stroke-width="1"/>
<rect x="653.46" y="875.63" width="1.40" height="1.40" fill="#111" stroke="none" stroke-width="1"/>
<rect x="651.08" y="872.96" width="1.40" height="1.40" fill="#111" stroke="none" stroke-width="1"/>
<rect x="650.86" y="866.18" width="1.40" height="1.40" fill="#111" stroke="none" stroke-width="1"/>
<rect x="651.22" y="876.05" width="1.40" height="1.40" fill="#111" stroke="none" stroke-width="1"/>
<rect x="653.37" y="872.18" width="1.40" height="1.40" fill="#111" stroke="none" stroke-width="1"/>
<rect x="650.61" y="872.27" width="1.40" height="1.40" fill="#111" stroke="none" stroke-width="1"/>
<rect x="651.75" y="871.92" width="1.40" height="1.40" fill="#111" stroke="none" stroke-width="1"/>
<rect x="652.26" y="863.41" width="1.40" height="1.40" fill="#111" stroke="none" stroke-width="1"/>
<rect x="649.28" y="875.83" width="1.40" height="1.40" fill="#111" stroke="none" stroke-width="1"/>
<rect x="652.42" y="870.46" width="1.40" height="1.40" fill="#111" stroke="none" stroke-width="1"/>
<rect x="653.17" y="875.80" width="1.40" height="1.40" fill="#111" stroke="none" stroke-width="1"/>
<rect x="654.31" y="874.64" width="1.40" height="1.40" fill="#111" stroke="none" stroke-width="1"/>
<rect x="651.36" y="874.96" width="1.40" height="1.40" fill="#111" stroke="none" stroke-width="1"/>
<rect x="650.30" y="877.88" width="1.40" height="1.40" fill="#111" stroke="none" stroke-width="1"/>
<rect x="650.86" y="865.94" width="1.40" height="1.40" fill="#111" stroke="none" stroke-width="1"/>
<rect x="653.88" y="870.50" width="1.40" height="1.40" fill="#111" stroke="none" stroke-width="1"/>
<rect x="653.09" y="872.69" width="1.40" height="1.40" fill="#111" stroke="none" stroke-width="1"/>
<rect x="653.57" y="874.53" width="1.40" height="1.40" fill="#111" stroke="none" stroke-width="1"/>
<rect x="654.30" y="869.82" width="1.40" height="1.40" fill="#111" stroke="none" stroke-width="1"/>
<rect x="651.80" y="858.24" width="1.40" height="1.40" fill="#111" stroke="none" stroke-width="1"/>
<rect x="651.80" y="896.04" width="1.40" height="1.40" fill="#111" stroke="none" stroke-width="1"/>
<path d="M662.9,867.3 L664.5,867.3 L663.7,865.9 Z" fill="#e8211d"/>
<path d="M662.6,866.0 L664.2,866.0 L663.4,864.6 Z" fill="#e8211d"/>
<path d="M663.1,874.6 L664.7,874.6 L663.9,873.2 Z" fill="#e8211d"/>
<path d="M664.5,868.8 L666.1,868.8 L665.3,867.4 Z" fill="#e8211d"/>
<path d="M664.5,867.7 L666.1,867.7 L665.3,866.3 Z" fill="#e8211d"/>
<path d="M664.4,870.4 L666.0,870.4 L665.2,869.0 Z" fill="#e8211d"/>
<path d="M663.9,873.4 L665.5,873.4 L664.7,872.0 Z" fill="#e8211d"/>
<path d="M665.5,874.0 L667.1,874.0 L666.3,872.6 Z" fill="#e8211d"/>
<path d="M659.9,861.1 L661.5,861.1 L660.7,859.7 Z" fill="#e8211d"/>
<path d="M664.7,872.7 L666.3,872.7 L665.5,871.3 Z" fill="#e8211d"/>
<path d="M665.3,870.5 L666.9,870.5 L666.1,869.1 Z" fill="#e8211d"/>
<path d="M663.9,862.1 L665.5,862.1 L664.7,860.7 Z" fill="#e8211d"/>
<path d="M665.1,868.5 L666.7,868.5 L665.9,867.1 Z" fill="#e8211d"/>
<path d="M660.5,868.0 L662.1,868.0 L661.3,866.6 Z" fill="#e8211d"/>
<path d="M660.6,878.4 L662.2,878.4 L661.4,877.0 Z" fill="#e8211d"/>
<path d="M663.3,877.5 L664.9,877.5 L664.1,876.1 Z" fill="#e8211d"/>
<path d="M661.9,869.2 L663.5,869.2 L662.7,867.8 Z" fill="#e8211d"/>
<path d="M660.0,871.6 L661.6,871.6 L660.8,870.2 Z" fill="#e8211d"/>
<path d="M664.1,863.5 L665.7,863.5 L664.9,862.1 Z" fill="#e8211d"/>
<path d="M664.9,869.2 L666.5,869.2 L665.7,867.8 Z" fill="#e8211d"/>
<path d="M661.5,867.4 L663.1,867.4 L662.3,866.0 Z" fill="#e8211d"/>
<path d="M663.2,866.7 L664.8,866.7 L664.0,865.3 Z" fill="#e8211d"/>
<path d="M661.8,888.7 L663.4,888.7 L662.6,887.3 Z" fill="#e8211d"/>
<path d="M659.9,871.4 L661.5,871.4 L660.7,870.0 Z" fill="#e8211d"/>
<path d="M663.4,874.0 L665.0,874.0 L664.2,872.6 Z" fill="#e8211d"/>
<path d="M662.6,876.6 L664.2,876.6 L663.4,875.2 Z" fill="#e8211d"/>
<path d="M663.3,864.6 L664.9,864.6 L664.1,863.2 Z" fill="#e8211d"/>
<path d="M661.2,877.6 L662.8,877.6 L662.0,876.2 Z" fill="#e8211d"/>
<path d="M664.1,877.9 L665.7,877.9 L664.9,876.5 Z" fill="#e8211d"/>
<path d="M662.7,874.4 L664.3,874.4 L663.5,873.0 Z" fill="#e8211d"/>
<path d="M661.8,869.0 L663.4,869.0 L662.6,867.6 Z" fill="#e8211d"/>
<path d="M664.0,868.6 L665.6,868.6 L664.8,867.2 Z" fill="#e8211d"/>
<path d="M663.5,867.6 L665.1,867.6 L664.3,866.2 Z" fill="#e8211d"/>
<path d="M660.1,862.0 L661.7,862.0 L660.9,860.6 Z" fill="#e8211d"/>
<line x1="625.80" y1="830.70" x2="625.80" y2="917.90" stroke="#333" stroke-width="0.8"/>
<line x1="625.50" y1="917.60" x2="669.50" y2="917.60" stroke="#333" stroke-width="0.8"/>
<line x1="623.80" y1="917.60" x2="625.80" y2="917.60" stroke="#333" stroke-width="0.6"/>
<text x="623.00" y="919.30" font-size="4.6" font-weight="bold" font-style="normal" text-anchor="end" fill="#222">0.0</text>
<line x1="623.80" y1="895.88" x2="625.80" y2="895.88" stroke="#333" stroke-width="0.6"/>
<text x="623.00" y="897.58" font-size="4.6" font-weight="bold" font-style="normal" text-anchor="end" fill="#222">0.5</text>
<line x1="623.80" y1="874.15" x2="625.80" y2="874.15" stroke="#333" stroke-width="0.6"/>
<text x="623.00" y="875.85" font-size="4.6" font-weight="bold" font-style="normal" text-anchor="end" fill="#222">1.0</text>
<line x1="623.80" y1="852.43" x2="625.80" y2="852.43" stroke="#333" stroke-width="0.6"/>
<text x="623.00" y="854.13" font-size="4.6" font-weight="bold" font-style="normal" text-anchor="end" fill="#222">1.5</text>
<line x1="623.80" y1="830.70" x2="625.80" y2="830.70" stroke="#333" stroke-width="0.6"/>
<text x="623.00" y="832.40" font-size="4.6" font-weight="bold" font-style="normal" text-anchor="end" fill="#222">2.0</text>
<line x1="632.30" y1="917.60" x2="632.30" y2="919.40" stroke="#333" stroke-width="0.6"/>
<text x="633.70" y="922.20" font-size="4.6" font-weight="bold" font-style="normal" text-anchor="end" fill="#111" transform="rotate(-42 633.70 922.20)">wt-OP50</text>
<line x1="642.60" y1="917.60" x2="642.60" y2="919.40" stroke="#333" stroke-width="0.6"/>
<text x="644.00" y="922.20" font-size="4.6" font-weight="bold" font-style="normal" text-anchor="end" fill="#111" transform="rotate(-42 644.00 922.20)">wah-1-OP50</text>
<line x1="652.70" y1="917.60" x2="652.70" y2="919.40" stroke="#333" stroke-width="0.6"/>
<text x="654.10" y="922.20" font-size="4.6" font-weight="bold" font-style="normal" text-anchor="end" fill="#111" transform="rotate(-42 654.10 922.20)">wt-HT115</text>
<line x1="663.45" y1="917.60" x2="663.45" y2="919.40" stroke="#333" stroke-width="0.6"/>
<text x="664.85" y="922.20" font-size="4.6" font-weight="bold" font-style="normal" text-anchor="end" fill="#111" transform="rotate(-42 664.85 922.20)">wah-1-HT115</text>
<text x="613.80" y="874.30" font-size="4.75" font-weight="bold" font-style="normal" text-anchor="middle" fill="#111" transform="rotate(-90 613.80 874.30)">Normalised ratio (405/488)</text>
<text x="653.30" y="828.30" font-size="4.6" font-weight="normal" font-style="normal" text-anchor="middle" fill="#333">0.0603</text>
<line x1="642.80" y1="831.20" x2="663.30" y2="831.20" stroke="#222" stroke-width="0.7"/>
<text x="637.50" y="840.50" font-size="4.6" font-weight="normal" font-style="normal" text-anchor="middle" fill="#333">0.0005</text>
<line x1="632.30" y1="843.30" x2="642.80" y2="843.30" stroke="#888" stroke-width="0.7"/>
<text x="657.80" y="840.50" font-size="4.6" font-weight="normal" font-style="normal" text-anchor="middle" fill="#333">0.9990</text>
<line x1="652.50" y1="843.30" x2="663.30" y2="843.30" stroke="#888" stroke-width="0.7"/>
</svg>
</body></html>
